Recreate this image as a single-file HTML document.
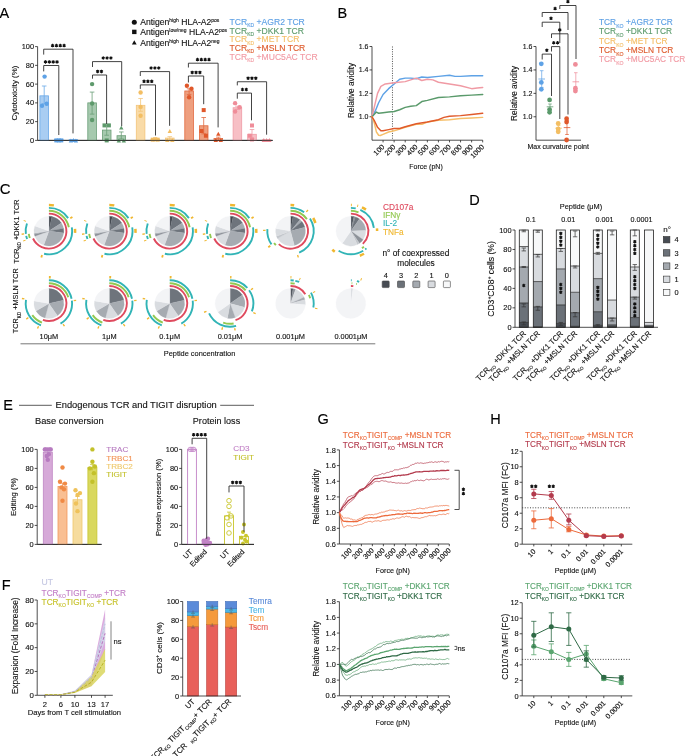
<!DOCTYPE html>
<html><head><meta charset="utf-8"><style>
html,body{margin:0;padding:0;background:#fff;}
svg{display:block;font-family:"Liberation Sans", sans-serif;will-change:transform;}
</style></head><body>
<svg width="685" height="756" viewBox="0 0 685 756">
<rect width="685" height="756" fill="#fff"/>
<text x="-0.6" y="17.7" font-size="14.5" text-anchor="start" fill="#000" stroke="#000" stroke-width="0.12">A</text>
<line x1="37.6" y1="46.6" x2="37.6" y2="140.4" stroke="#222" stroke-width="0.8"/>
<line x1="37.6" y1="140.4" x2="272.7" y2="140.4" stroke="#222" stroke-width="0.8"/>
<line x1="35.1" y1="140.4" x2="37.6" y2="140.4" stroke="#222" stroke-width="0.8"/>
<text x="34.1" y="143" font-size="7.4" text-anchor="end" fill="#111" stroke="#111" stroke-width="0.12">0</text>
<line x1="35.1" y1="121.64" x2="37.6" y2="121.64" stroke="#222" stroke-width="0.8"/>
<text x="34.1" y="124.24" font-size="7.4" text-anchor="end" fill="#111" stroke="#111" stroke-width="0.12">20</text>
<line x1="35.1" y1="102.88" x2="37.6" y2="102.88" stroke="#222" stroke-width="0.8"/>
<text x="34.1" y="105.48" font-size="7.4" text-anchor="end" fill="#111" stroke="#111" stroke-width="0.12">40</text>
<line x1="35.1" y1="84.12" x2="37.6" y2="84.12" stroke="#222" stroke-width="0.8"/>
<text x="34.1" y="86.72" font-size="7.4" text-anchor="end" fill="#111" stroke="#111" stroke-width="0.12">60</text>
<line x1="35.1" y1="65.36" x2="37.6" y2="65.36" stroke="#222" stroke-width="0.8"/>
<text x="34.1" y="67.96" font-size="7.4" text-anchor="end" fill="#111" stroke="#111" stroke-width="0.12">80</text>
<line x1="35.1" y1="46.6" x2="37.6" y2="46.6" stroke="#222" stroke-width="0.8"/>
<text x="34.1" y="49.2" font-size="7.4" text-anchor="end" fill="#111" stroke="#111" stroke-width="0.12">100</text>
<text x="14.4" y="93.03" font-size="7.9" text-anchor="middle" fill="#111" stroke="#111" stroke-width="0.12" transform="rotate(-90 14.4 93.03)" dy="2.6">Cytotoxicity (%)</text>
<rect x="39.9" y="95.84" width="8.6" height="44.56" fill="#a9cdf2" stroke="#6aa9e8" stroke-width="0.8"/>
<line x1="44.2" y1="95.84" x2="44.2" y2="86" stroke="#6aa9e8" stroke-width="0.8"/>
<line x1="41.9" y1="86" x2="46.5" y2="86" stroke="#6aa9e8" stroke-width="0.8"/>
<line x1="44.2" y1="95.84" x2="44.2" y2="103.82" stroke="#6aa9e8" stroke-width="0.8"/>
<line x1="41.9" y1="103.82" x2="46.5" y2="103.82" stroke="#6aa9e8" stroke-width="0.8"/>
<circle cx="44.6" cy="76.62" r="2.2" fill="#5ea2e6" stroke="none" stroke-width="0.8"/>
<circle cx="42" cy="105.69" r="2.2" fill="#5ea2e6" stroke="none" stroke-width="0.8"/>
<circle cx="46.7" cy="103.82" r="2.2" fill="#5ea2e6" stroke="none" stroke-width="0.8"/>
<rect x="54.5" y="139.65" width="8.6" height="0.75" fill="#a9cdf2" stroke="#6aa9e8" stroke-width="0.8"/>
<rect x="54.3" y="138.4" width="4" height="4" fill="#5ea2e6" stroke="none" stroke-width="0.8"/>
<rect x="56.8" y="138.4" width="4" height="4" fill="#5ea2e6" stroke="none" stroke-width="0.8"/>
<rect x="59.3" y="138.4" width="4" height="4" fill="#5ea2e6" stroke="none" stroke-width="0.8"/>
<rect x="69.1" y="139.65" width="8.6" height="0.75" fill="#a9cdf2" stroke="#6aa9e8" stroke-width="0.8"/>
<path d="M68.7 142.38 L73.1 142.38 L70.9 138.42" fill="#5ea2e6" stroke="none" stroke-width="0.8"/>

<path d="M71.2 141.91 L75.6 141.91 L73.4 137.95" fill="#5ea2e6" stroke="none" stroke-width="0.8"/>

<path d="M73.7 142.38 L78.1 142.38 L75.9 138.42" fill="#5ea2e6" stroke="none" stroke-width="0.8"/>

<rect x="87.8" y="102.88" width="8.6" height="37.52" fill="#a6c9ae" stroke="#6b9e77" stroke-width="0.8"/>
<line x1="92.1" y1="102.88" x2="92.1" y2="92.09" stroke="#6b9e77" stroke-width="0.8"/>
<line x1="89.8" y1="92.09" x2="94.4" y2="92.09" stroke="#6b9e77" stroke-width="0.8"/>
<line x1="92.1" y1="102.88" x2="92.1" y2="114.14" stroke="#6b9e77" stroke-width="0.8"/>
<line x1="89.8" y1="114.14" x2="94.4" y2="114.14" stroke="#6b9e77" stroke-width="0.8"/>
<circle cx="92.1" cy="84.12" r="2.2" fill="#5e9a6c" stroke="none" stroke-width="0.8"/>
<circle cx="92.1" cy="103.44" r="2.2" fill="#5e9a6c" stroke="none" stroke-width="0.8"/>
<circle cx="92.1" cy="120.05" r="2.2" fill="#5e9a6c" stroke="none" stroke-width="0.8"/>
<rect x="102.4" y="130.08" width="8.6" height="10.32" fill="#a6c9ae" stroke="#6b9e77" stroke-width="0.8"/>
<line x1="106.7" y1="130.08" x2="106.7" y2="124.92" stroke="#6b9e77" stroke-width="0.8"/>
<line x1="104.4" y1="124.92" x2="109" y2="124.92" stroke="#6b9e77" stroke-width="0.8"/>
<line x1="106.7" y1="130.08" x2="106.7" y2="135.24" stroke="#6b9e77" stroke-width="0.8"/>
<line x1="104.4" y1="135.24" x2="109" y2="135.24" stroke="#6b9e77" stroke-width="0.8"/>
<rect x="102.5" y="123.39" width="4" height="4" fill="#5e9a6c" stroke="none" stroke-width="0.8"/>
<rect x="106.9" y="123.39" width="4" height="4" fill="#5e9a6c" stroke="none" stroke-width="0.8"/>
<rect x="104.7" y="138.4" width="4" height="4" fill="#5e9a6c" stroke="none" stroke-width="0.8"/>
<rect x="117" y="135.71" width="8.6" height="4.69" fill="#a6c9ae" stroke="#6b9e77" stroke-width="0.8"/>
<line x1="121.3" y1="135.71" x2="121.3" y2="131.96" stroke="#6b9e77" stroke-width="0.8"/>
<line x1="119" y1="131.96" x2="123.6" y2="131.96" stroke="#6b9e77" stroke-width="0.8"/>
<line x1="121.3" y1="135.71" x2="121.3" y2="138.99" stroke="#6b9e77" stroke-width="0.8"/>
<line x1="119" y1="138.99" x2="123.6" y2="138.99" stroke="#6b9e77" stroke-width="0.8"/>
<path d="M119.1 129.62 L123.5 129.62 L121.3 125.66" fill="#5e9a6c" stroke="none" stroke-width="0.8"/>

<path d="M116.6 142.38 L121 142.38 L118.8 138.42" fill="#5e9a6c" stroke="none" stroke-width="0.8"/>

<path d="M121.6 142.38 L126 142.38 L123.8 138.42" fill="#5e9a6c" stroke="none" stroke-width="0.8"/>

<rect x="136.3" y="105.32" width="8.6" height="35.08" fill="#f9dba8" stroke="#f3c57a" stroke-width="0.8"/>
<line x1="140.6" y1="105.32" x2="140.6" y2="98.47" stroke="#f3c57a" stroke-width="0.8"/>
<line x1="138.3" y1="98.47" x2="142.9" y2="98.47" stroke="#f3c57a" stroke-width="0.8"/>
<line x1="140.6" y1="105.32" x2="140.6" y2="111.32" stroke="#f3c57a" stroke-width="0.8"/>
<line x1="138.3" y1="111.32" x2="142.9" y2="111.32" stroke="#f3c57a" stroke-width="0.8"/>
<circle cx="140.6" cy="92.56" r="2.2" fill="#f3be63" stroke="none" stroke-width="0.8"/>
<circle cx="140.6" cy="106.91" r="2.2" fill="#f3be63" stroke="none" stroke-width="0.8"/>
<circle cx="140.6" cy="115.73" r="2.2" fill="#f3be63" stroke="none" stroke-width="0.8"/>
<rect x="150.9" y="139.27" width="8.6" height="1.13" fill="#f9dba8" stroke="#f3c57a" stroke-width="0.8"/>
<line x1="155.2" y1="139.27" x2="155.2" y2="138.34" stroke="#f3c57a" stroke-width="0.8"/>
<line x1="152.9" y1="138.34" x2="157.5" y2="138.34" stroke="#f3c57a" stroke-width="0.8"/>
<line x1="155.2" y1="139.27" x2="155.2" y2="140.4" stroke="#f3c57a" stroke-width="0.8"/>
<line x1="152.9" y1="140.4" x2="157.5" y2="140.4" stroke="#f3c57a" stroke-width="0.8"/>
<rect x="150.7" y="137.65" width="4" height="4" fill="#f3be63" stroke="none" stroke-width="0.8"/>
<rect x="153.2" y="137.27" width="4" height="4" fill="#f3be63" stroke="none" stroke-width="0.8"/>
<rect x="155.7" y="137.65" width="4" height="4" fill="#f3be63" stroke="none" stroke-width="0.8"/>
<rect x="165.5" y="138.06" width="8.6" height="2.34" fill="#f9dba8" stroke="#f3c57a" stroke-width="0.8"/>
<line x1="169.8" y1="138.06" x2="169.8" y2="136.65" stroke="#f3c57a" stroke-width="0.8"/>
<line x1="167.5" y1="136.65" x2="172.1" y2="136.65" stroke="#f3c57a" stroke-width="0.8"/>
<line x1="169.8" y1="138.06" x2="169.8" y2="140.4" stroke="#f3c57a" stroke-width="0.8"/>
<line x1="167.5" y1="140.4" x2="172.1" y2="140.4" stroke="#f3c57a" stroke-width="0.8"/>
<path d="M167.6 133 L172 133 L169.8 129.04" fill="#f3be63" stroke="none" stroke-width="0.8"/>

<path d="M165.1 141.91 L169.5 141.91 L167.3 137.95" fill="#f3be63" stroke="none" stroke-width="0.8"/>

<path d="M170.1 141.91 L174.5 141.91 L172.3 137.95" fill="#f3be63" stroke="none" stroke-width="0.8"/>

<rect x="184.8" y="90.97" width="8.6" height="49.43" fill="#ee9f7f" stroke="#e26a40" stroke-width="0.8"/>
<line x1="189.1" y1="90.97" x2="189.1" y2="88.81" stroke="#e26a40" stroke-width="0.8"/>
<line x1="186.8" y1="88.81" x2="191.4" y2="88.81" stroke="#e26a40" stroke-width="0.8"/>
<line x1="189.1" y1="90.97" x2="189.1" y2="94.44" stroke="#e26a40" stroke-width="0.8"/>
<line x1="186.8" y1="94.44" x2="191.4" y2="94.44" stroke="#e26a40" stroke-width="0.8"/>
<circle cx="186.9" cy="85.71" r="2.2" fill="#e0582b" stroke="none" stroke-width="0.8"/>
<circle cx="191.5" cy="88.81" r="2.2" fill="#e0582b" stroke="none" stroke-width="0.8"/>
<circle cx="189.1" cy="97.25" r="2.2" fill="#e0582b" stroke="none" stroke-width="0.8"/>
<rect x="199.4" y="125.77" width="8.6" height="14.63" fill="#ee9f7f" stroke="#e26a40" stroke-width="0.8"/>
<line x1="203.7" y1="125.77" x2="203.7" y2="117.51" stroke="#e26a40" stroke-width="0.8"/>
<line x1="201.4" y1="117.51" x2="206" y2="117.51" stroke="#e26a40" stroke-width="0.8"/>
<line x1="203.7" y1="125.77" x2="203.7" y2="133.83" stroke="#e26a40" stroke-width="0.8"/>
<line x1="201.4" y1="133.83" x2="206" y2="133.83" stroke="#e26a40" stroke-width="0.8"/>
<rect x="201.7" y="108.1" width="4" height="4" fill="#e0582b" stroke="none" stroke-width="0.8"/>
<rect x="199.5" y="129.02" width="4" height="4" fill="#e0582b" stroke="none" stroke-width="0.8"/>
<rect x="203.9" y="133.71" width="4" height="4" fill="#e0582b" stroke="none" stroke-width="0.8"/>
<rect x="214" y="138.52" width="8.6" height="1.88" fill="#ee9f7f" stroke="#e26a40" stroke-width="0.8"/>
<line x1="218.3" y1="138.52" x2="218.3" y2="137.12" stroke="#e26a40" stroke-width="0.8"/>
<line x1="216" y1="137.12" x2="220.6" y2="137.12" stroke="#e26a40" stroke-width="0.8"/>
<line x1="218.3" y1="138.52" x2="218.3" y2="140.4" stroke="#e26a40" stroke-width="0.8"/>
<line x1="216" y1="140.4" x2="220.6" y2="140.4" stroke="#e26a40" stroke-width="0.8"/>
<path d="M216.1 135.81 L220.5 135.81 L218.3 131.85" fill="#e0582b" stroke="none" stroke-width="0.8"/>

<path d="M213.6 141.91 L218 141.91 L215.8 137.95" fill="#e0582b" stroke="none" stroke-width="0.8"/>

<path d="M218.6 141.91 L223 141.91 L220.8 137.95" fill="#e0582b" stroke="none" stroke-width="0.8"/>

<rect x="233.1" y="107.76" width="8.6" height="32.64" fill="#f7bfc5" stroke="#f09ba5" stroke-width="0.8"/>
<line x1="237.4" y1="107.76" x2="237.4" y2="106.16" stroke="#f09ba5" stroke-width="0.8"/>
<line x1="235.1" y1="106.16" x2="239.7" y2="106.16" stroke="#f09ba5" stroke-width="0.8"/>
<line x1="237.4" y1="107.76" x2="237.4" y2="109.45" stroke="#f09ba5" stroke-width="0.8"/>
<line x1="235.1" y1="109.45" x2="239.7" y2="109.45" stroke="#f09ba5" stroke-width="0.8"/>
<circle cx="235.1" cy="103.16" r="2.2" fill="#ef8d99" stroke="none" stroke-width="0.8"/>
<circle cx="239.7" cy="107.29" r="2.2" fill="#ef8d99" stroke="none" stroke-width="0.8"/>
<circle cx="235.1" cy="111.51" r="2.2" fill="#ef8d99" stroke="none" stroke-width="0.8"/>
<rect x="247.7" y="134.3" width="8.6" height="6.1" fill="#f7bfc5" stroke="#f09ba5" stroke-width="0.8"/>
<line x1="252" y1="134.3" x2="252" y2="129.52" stroke="#f09ba5" stroke-width="0.8"/>
<line x1="249.7" y1="129.52" x2="254.3" y2="129.52" stroke="#f09ba5" stroke-width="0.8"/>
<line x1="252" y1="134.3" x2="252" y2="138.52" stroke="#f09ba5" stroke-width="0.8"/>
<line x1="249.7" y1="138.52" x2="254.3" y2="138.52" stroke="#f09ba5" stroke-width="0.8"/>
<rect x="250" y="123.49" width="4" height="4" fill="#ef8d99" stroke="none" stroke-width="0.8"/>
<rect x="247.8" y="133.71" width="4" height="4" fill="#ef8d99" stroke="none" stroke-width="0.8"/>
<rect x="250" y="137.46" width="4" height="4" fill="#ef8d99" stroke="none" stroke-width="0.8"/>
<rect x="262.3" y="139.84" width="8.6" height="0.56" fill="#f7bfc5" stroke="#f09ba5" stroke-width="0.8"/>
<path d="M261.6 141.91 L266 141.91 L263.8 137.95" fill="#ef8d99" stroke="none" stroke-width="0.8"/>

<path d="M264.4 141.91 L268.8 141.91 L266.6 137.95" fill="#ef8d99" stroke="none" stroke-width="0.8"/>

<path d="M267.2 141.91 L271.6 141.91 L269.4 137.95" fill="#ef8d99" stroke="none" stroke-width="0.8"/>

<line x1="37.6" y1="140.4" x2="272.7" y2="140.4" stroke="#222" stroke-width="0.8"/>
<path d="M43.7 54.6 L43.7 49.2 L73 49.2 L73 133.4" fill="none" stroke="#222" stroke-width="0.85"/>
<path d="M52.58 43.85 L52.58 47.35 M54.09 44.73 L51.06 46.48 M54.09 46.48 L51.06 44.73 " fill="none" stroke="#111" stroke-width="1.05"/>
<circle cx="52.58" cy="45.6" r="1.05" fill="#111" stroke="none" stroke-width="0.8"/>
<path d="M56.43 43.85 L56.43 47.35 M57.94 44.73 L54.91 46.48 M57.94 46.48 L54.91 44.73 " fill="none" stroke="#111" stroke-width="1.05"/>
<circle cx="56.43" cy="45.6" r="1.05" fill="#111" stroke="none" stroke-width="0.8"/>
<path d="M60.27 43.85 L60.27 47.35 M61.79 44.73 L58.76 46.48 M61.79 46.48 L58.76 44.73 " fill="none" stroke="#111" stroke-width="1.05"/>
<circle cx="60.27" cy="45.6" r="1.05" fill="#111" stroke="none" stroke-width="0.8"/>
<path d="M64.12 43.85 L64.12 47.35 M65.64 44.73 L62.61 46.48 M65.64 46.48 L62.61 44.73 " fill="none" stroke="#111" stroke-width="1.05"/>
<circle cx="64.12" cy="45.6" r="1.05" fill="#111" stroke="none" stroke-width="0.8"/>
<path d="M43.7 71.4 L43.7 65.5 L58.8 65.5 L58.8 135" fill="none" stroke="#222" stroke-width="0.85"/>
<path d="M45.48 60.15 L45.48 63.65 M46.99 61.02 L43.96 62.77 M46.99 62.77 L43.96 61.02 " fill="none" stroke="#111" stroke-width="1.05"/>
<circle cx="45.48" cy="61.9" r="1.05" fill="#111" stroke="none" stroke-width="0.8"/>
<path d="M49.33 60.15 L49.33 63.65 M50.84 61.02 L47.81 62.77 M50.84 62.77 L47.81 61.02 " fill="none" stroke="#111" stroke-width="1.05"/>
<circle cx="49.33" cy="61.9" r="1.05" fill="#111" stroke="none" stroke-width="0.8"/>
<path d="M53.17 60.15 L53.17 63.65 M54.69 61.02 L51.66 62.77 M54.69 62.77 L51.66 61.02 " fill="none" stroke="#111" stroke-width="1.05"/>
<circle cx="53.17" cy="61.9" r="1.05" fill="#111" stroke="none" stroke-width="0.8"/>
<path d="M57.02 60.15 L57.02 63.65 M58.54 61.02 L55.51 62.77 M58.54 62.77 L55.51 61.02 " fill="none" stroke="#111" stroke-width="1.05"/>
<circle cx="57.02" cy="61.9" r="1.05" fill="#111" stroke="none" stroke-width="0.8"/>
<path d="M92.5 67 L92.5 61.6 L121.7 61.6 L121.7 126.1" fill="none" stroke="#222" stroke-width="0.85"/>
<path d="M103.25 56.25 L103.25 59.75 M104.77 57.12 L101.73 58.88 M104.77 58.88 L101.73 57.12 " fill="none" stroke="#111" stroke-width="1.05"/>
<circle cx="103.25" cy="58" r="1.05" fill="#111" stroke="none" stroke-width="0.8"/>
<path d="M107.1 56.25 L107.1 59.75 M108.62 57.12 L105.58 58.88 M108.62 58.88 L105.58 57.12 " fill="none" stroke="#111" stroke-width="1.05"/>
<circle cx="107.1" cy="58" r="1.05" fill="#111" stroke="none" stroke-width="0.8"/>
<path d="M110.95 56.25 L110.95 59.75 M112.47 57.12 L109.43 58.88 M112.47 58.88 L109.43 57.12 " fill="none" stroke="#111" stroke-width="1.05"/>
<circle cx="110.95" cy="58" r="1.05" fill="#111" stroke="none" stroke-width="0.8"/>
<path d="M92.5 78.7 L92.5 75 L106.6 75 L106.6 124" fill="none" stroke="#222" stroke-width="0.85"/>
<path d="M97.62 69.65 L97.62 73.15 M99.14 70.53 L96.11 72.28 M99.14 72.28 L96.11 70.53 " fill="none" stroke="#111" stroke-width="1.05"/>
<circle cx="97.62" cy="71.4" r="1.05" fill="#111" stroke="none" stroke-width="0.8"/>
<path d="M101.47 69.65 L101.47 73.15 M102.99 70.53 L99.96 72.28 M102.99 72.28 L99.96 70.53 " fill="none" stroke="#111" stroke-width="1.05"/>
<circle cx="101.47" cy="71.4" r="1.05" fill="#111" stroke="none" stroke-width="0.8"/>
<path d="M140.3 76 L140.3 71.6 L169.6 71.6 L169.6 125.8" fill="none" stroke="#222" stroke-width="0.85"/>
<path d="M151.1 66.25 L151.1 69.75 M152.62 67.12 L149.58 68.88 M152.62 68.88 L149.58 67.12 " fill="none" stroke="#111" stroke-width="1.05"/>
<circle cx="151.1" cy="68" r="1.05" fill="#111" stroke="none" stroke-width="0.8"/>
<path d="M154.95 66.25 L154.95 69.75 M156.47 67.12 L153.43 68.88 M156.47 68.88 L153.43 67.12 " fill="none" stroke="#111" stroke-width="1.05"/>
<circle cx="154.95" cy="68" r="1.05" fill="#111" stroke="none" stroke-width="0.8"/>
<path d="M158.8 66.25 L158.8 69.75 M160.32 67.12 L157.28 68.88 M160.32 68.88 L157.28 67.12 " fill="none" stroke="#111" stroke-width="1.05"/>
<circle cx="158.8" cy="68" r="1.05" fill="#111" stroke="none" stroke-width="0.8"/>
<path d="M140.3 88.9 L140.3 84.9 L155.5 84.9 L155.5 135.5" fill="none" stroke="#222" stroke-width="0.85"/>
<path d="M144.05 79.55 L144.05 83.05 M145.57 80.43 L142.53 82.18 M145.57 82.18 L142.53 80.43 " fill="none" stroke="#111" stroke-width="1.05"/>
<circle cx="144.05" cy="81.3" r="1.05" fill="#111" stroke="none" stroke-width="0.8"/>
<path d="M147.9 79.55 L147.9 83.05 M149.42 80.43 L146.38 82.18 M149.42 82.18 L146.38 80.43 " fill="none" stroke="#111" stroke-width="1.05"/>
<circle cx="147.9" cy="81.3" r="1.05" fill="#111" stroke="none" stroke-width="0.8"/>
<path d="M151.75 79.55 L151.75 83.05 M153.27 80.43 L150.23 82.18 M153.27 82.18 L150.23 80.43 " fill="none" stroke="#111" stroke-width="1.05"/>
<circle cx="151.75" cy="81.3" r="1.05" fill="#111" stroke="none" stroke-width="0.8"/>
<path d="M188.4 67.5 L188.4 63.2 L218.1 63.2 L218.1 127.4" fill="none" stroke="#222" stroke-width="0.85"/>
<path d="M197.47 57.85 L197.47 61.35 M198.99 58.73 L195.96 60.48 M198.99 60.48 L195.96 58.73 " fill="none" stroke="#111" stroke-width="1.05"/>
<circle cx="197.47" cy="59.6" r="1.05" fill="#111" stroke="none" stroke-width="0.8"/>
<path d="M201.32 57.85 L201.32 61.35 M202.84 58.73 L199.81 60.48 M202.84 60.48 L199.81 58.73 " fill="none" stroke="#111" stroke-width="1.05"/>
<circle cx="201.32" cy="59.6" r="1.05" fill="#111" stroke="none" stroke-width="0.8"/>
<path d="M205.18 57.85 L205.18 61.35 M206.69 58.73 L203.66 60.48 M206.69 60.48 L203.66 58.73 " fill="none" stroke="#111" stroke-width="1.05"/>
<circle cx="205.18" cy="59.6" r="1.05" fill="#111" stroke="none" stroke-width="0.8"/>
<path d="M209.03 57.85 L209.03 61.35 M210.54 58.73 L207.51 60.48 M210.54 60.48 L207.51 58.73 " fill="none" stroke="#111" stroke-width="1.05"/>
<circle cx="209.03" cy="59.6" r="1.05" fill="#111" stroke="none" stroke-width="0.8"/>
<path d="M188.4 82.5 L188.4 76 L203.7 76 L203.7 104.2" fill="none" stroke="#222" stroke-width="0.85"/>
<path d="M192.2 70.65 L192.2 74.15 M193.72 71.53 L190.68 73.28 M193.72 73.28 L190.68 71.53 " fill="none" stroke="#111" stroke-width="1.05"/>
<circle cx="192.2" cy="72.4" r="1.05" fill="#111" stroke="none" stroke-width="0.8"/>
<path d="M196.05 70.65 L196.05 74.15 M197.57 71.53 L194.53 73.28 M197.57 73.28 L194.53 71.53 " fill="none" stroke="#111" stroke-width="1.05"/>
<circle cx="196.05" cy="72.4" r="1.05" fill="#111" stroke="none" stroke-width="0.8"/>
<path d="M199.9 70.65 L199.9 74.15 M201.42 71.53 L198.38 73.28 M201.42 73.28 L198.38 71.53 " fill="none" stroke="#111" stroke-width="1.05"/>
<circle cx="199.9" cy="72.4" r="1.05" fill="#111" stroke="none" stroke-width="0.8"/>
<path d="M237.3 85.4 L237.3 81.75 L266.6 81.75 L266.6 134.7" fill="none" stroke="#222" stroke-width="0.85"/>
<path d="M248.1 76.4 L248.1 79.9 M249.62 77.28 L246.58 79.03 M249.62 79.03 L246.58 77.28 " fill="none" stroke="#111" stroke-width="1.05"/>
<circle cx="248.1" cy="78.15" r="1.05" fill="#111" stroke="none" stroke-width="0.8"/>
<path d="M251.95 76.4 L251.95 79.9 M253.47 77.28 L250.43 79.03 M253.47 79.03 L250.43 77.28 " fill="none" stroke="#111" stroke-width="1.05"/>
<circle cx="251.95" cy="78.15" r="1.05" fill="#111" stroke="none" stroke-width="0.8"/>
<path d="M255.8 76.4 L255.8 79.9 M257.32 77.28 L254.28 79.03 M257.32 79.03 L254.28 77.28 " fill="none" stroke="#111" stroke-width="1.05"/>
<circle cx="255.8" cy="78.15" r="1.05" fill="#111" stroke="none" stroke-width="0.8"/>
<path d="M237.3 98.7 L237.3 93.1 L251.5 93.1 L251.5 120.3" fill="none" stroke="#222" stroke-width="0.85"/>
<path d="M242.47 87.75 L242.47 91.25 M243.99 88.62 L240.96 90.38 M243.99 90.38 L240.96 88.62 " fill="none" stroke="#111" stroke-width="1.05"/>
<circle cx="242.47" cy="89.5" r="1.05" fill="#111" stroke="none" stroke-width="0.8"/>
<path d="M246.33 87.75 L246.33 91.25 M247.84 88.62 L244.81 90.38 M247.84 90.38 L244.81 88.62 " fill="none" stroke="#111" stroke-width="1.05"/>
<circle cx="246.33" cy="89.5" r="1.05" fill="#111" stroke="none" stroke-width="0.8"/>
<circle cx="134.3" cy="22.3" r="2.5" fill="#111" stroke="none" stroke-width="0.8"/>
<rect x="132.1" y="29.7" width="4.4" height="4.4" fill="#111" stroke="none" stroke-width="0.8"/>
<path d="M131.9 44.46 L136.7 44.46 L134.3 40.14" fill="#111" stroke="none" stroke-width="0.8"/>

<text x="140.2" y="25.3" font-size="8.6" fill="#111" stroke="#111" stroke-width="0.12">Antigen<tspan font-size="5" dy="-3">high</tspan><tspan dy="3"> HLA-A2</tspan><tspan font-size="5" dy="-3">pos</tspan></text>
<text x="140.2" y="34.9" font-size="8.6" fill="#111" stroke="#111" stroke-width="0.12">Antigen<tspan font-size="5" dy="-3">low/neg</tspan><tspan dy="3"> HLA-A2</tspan><tspan font-size="5" dy="-3">pos</tspan></text>
<text x="140.2" y="45.7" font-size="8.6" fill="#111" stroke="#111" stroke-width="0.12">Antigen<tspan font-size="5" dy="-3">high</tspan><tspan dy="3"> HLA-A2</tspan><tspan font-size="5" dy="-3">neg</tspan></text>
<text x="229.5" y="25" font-size="8.6" fill="#5b9fe4" stroke="#5b9fe4" stroke-width="0.12">TCR<tspan font-size="5" dy="2.2">KD</tspan><tspan dy="-2.2"> +AGR2 TCR</tspan></text>
<text x="229.5" y="33.7" font-size="8.6" fill="#5a9a6b" stroke="#5a9a6b" stroke-width="0.12">TCR<tspan font-size="5" dy="2.2">KD</tspan><tspan dy="-2.2"> +DKK1 TCR</tspan></text>
<text x="229.5" y="42.4" font-size="8.6" fill="#f4be66" stroke="#f4be66" stroke-width="0.12">TCR<tspan font-size="5" dy="2.2">KD</tspan><tspan dy="-2.2"> +MET TCR</tspan></text>
<text x="229.5" y="51.1" font-size="8.6" fill="#de5a2b" stroke="#de5a2b" stroke-width="0.12">TCR<tspan font-size="5" dy="2.2">KD</tspan><tspan dy="-2.2"> +MSLN TCR</tspan></text>
<text x="229.5" y="59.8" font-size="8.6" fill="#f29aa4" stroke="#f29aa4" stroke-width="0.12">TCR<tspan font-size="5" dy="2.2">KD</tspan><tspan dy="-2.2"> +MUC5AC TCR</tspan></text>
<text x="337.5" y="18" font-size="14.5" text-anchor="start" fill="#000" stroke="#000" stroke-width="0.12">B</text>
<line x1="372" y1="46.5" x2="372" y2="140.2" stroke="#222" stroke-width="0.8"/>
<line x1="372" y1="140.2" x2="482.7" y2="140.2" stroke="#222" stroke-width="0.8"/>
<line x1="369.5" y1="116.77" x2="372" y2="116.77" stroke="#222" stroke-width="0.8"/>
<text x="368.5" y="119.17" font-size="7" text-anchor="end" fill="#111" stroke="#111" stroke-width="0.12">1.0</text>
<line x1="369.5" y1="93.35" x2="372" y2="93.35" stroke="#222" stroke-width="0.8"/>
<text x="368.5" y="95.75" font-size="7" text-anchor="end" fill="#111" stroke="#111" stroke-width="0.12">1.2</text>
<line x1="369.5" y1="69.93" x2="372" y2="69.93" stroke="#222" stroke-width="0.8"/>
<text x="368.5" y="72.33" font-size="7" text-anchor="end" fill="#111" stroke="#111" stroke-width="0.12">1.4</text>
<line x1="369.5" y1="46.5" x2="372" y2="46.5" stroke="#222" stroke-width="0.8"/>
<text x="368.5" y="48.9" font-size="7" text-anchor="end" fill="#111" stroke="#111" stroke-width="0.12">1.6</text>
<line x1="383.07" y1="140.2" x2="383.07" y2="142.4" stroke="#222" stroke-width="0.8"/>
<text x="384.87" y="147.4" font-size="7.2" text-anchor="end" fill="#111" stroke="#111" stroke-width="0.12" transform="rotate(-45 384.87 147.4)">100</text>
<line x1="394.14" y1="140.2" x2="394.14" y2="142.4" stroke="#222" stroke-width="0.8"/>
<text x="395.94" y="147.4" font-size="7.2" text-anchor="end" fill="#111" stroke="#111" stroke-width="0.12" transform="rotate(-45 395.94 147.4)">200</text>
<line x1="405.21" y1="140.2" x2="405.21" y2="142.4" stroke="#222" stroke-width="0.8"/>
<text x="407.01" y="147.4" font-size="7.2" text-anchor="end" fill="#111" stroke="#111" stroke-width="0.12" transform="rotate(-45 407.01 147.4)">300</text>
<line x1="416.28" y1="140.2" x2="416.28" y2="142.4" stroke="#222" stroke-width="0.8"/>
<text x="418.08" y="147.4" font-size="7.2" text-anchor="end" fill="#111" stroke="#111" stroke-width="0.12" transform="rotate(-45 418.08 147.4)">400</text>
<line x1="427.35" y1="140.2" x2="427.35" y2="142.4" stroke="#222" stroke-width="0.8"/>
<text x="429.15" y="147.4" font-size="7.2" text-anchor="end" fill="#111" stroke="#111" stroke-width="0.12" transform="rotate(-45 429.15 147.4)">500</text>
<line x1="438.42" y1="140.2" x2="438.42" y2="142.4" stroke="#222" stroke-width="0.8"/>
<text x="440.22" y="147.4" font-size="7.2" text-anchor="end" fill="#111" stroke="#111" stroke-width="0.12" transform="rotate(-45 440.22 147.4)">600</text>
<line x1="449.49" y1="140.2" x2="449.49" y2="142.4" stroke="#222" stroke-width="0.8"/>
<text x="451.29" y="147.4" font-size="7.2" text-anchor="end" fill="#111" stroke="#111" stroke-width="0.12" transform="rotate(-45 451.29 147.4)">700</text>
<line x1="460.56" y1="140.2" x2="460.56" y2="142.4" stroke="#222" stroke-width="0.8"/>
<text x="462.36" y="147.4" font-size="7.2" text-anchor="end" fill="#111" stroke="#111" stroke-width="0.12" transform="rotate(-45 462.36 147.4)">800</text>
<line x1="471.63" y1="140.2" x2="471.63" y2="142.4" stroke="#222" stroke-width="0.8"/>
<text x="473.43" y="147.4" font-size="7.2" text-anchor="end" fill="#111" stroke="#111" stroke-width="0.12" transform="rotate(-45 473.43 147.4)">900</text>
<line x1="482.7" y1="140.2" x2="482.7" y2="142.4" stroke="#222" stroke-width="0.8"/>
<text x="484.5" y="147.4" font-size="7.2" text-anchor="end" fill="#111" stroke="#111" stroke-width="0.12" transform="rotate(-45 484.5 147.4)">1000</text>
<text x="351.2" y="90.4" font-size="8.2" text-anchor="middle" fill="#111" stroke="#111" stroke-width="0.12" transform="rotate(-90 351.2 90.4)" dy="2.8">Relative avidity</text>
<text x="426" y="168.5" font-size="7" text-anchor="middle" fill="#111" stroke="#111" stroke-width="0.12">Force (pN)</text>
<line x1="392.48" y1="46.5" x2="392.48" y2="140.2" stroke="#222" stroke-width="0.8" stroke-dasharray="1,1.4"/>
<path d="M372 116.77 L375.32 110.92 L378.64 102.72 L383.07 94.52 L388.61 88.67 L394.14 83.98 L399.68 79.29 L405.21 78.12 L410.75 78.12 L416.28 78.71 L421.81 76.95 L427.35 77.54 L438.42 76.37 L449.49 75.2 L455.02 76.37 L460.56 76.37 L471.63 75.78 L482.7 75.78" fill="none" stroke="#5ea2e6" stroke-width="1.45" stroke-linejoin="round" stroke-linecap="round"/>
<path d="M372 116.77 L374.21 107.4 L377.54 93.35 L380.86 86.32 L385.28 83.98 L394.14 82.81 L405.21 81.64 L416.28 78.12 L421.81 80.47 L427.35 79.29 L432.88 79.88 L438.42 82.22 L449.49 83.98 L460.56 85.74 L471.63 88.67 L477.16 88.08 L482.7 87.49" fill="none" stroke="#f09aa4" stroke-width="1.45" stroke-linejoin="round" stroke-linecap="round"/>
<path d="M372 116.77 L376.43 112.09 L378.64 113.26 L383.07 112.68 L388.61 112.09 L394.14 111.5 L399.68 109.75 L405.21 107.4 L410.75 106.23 L416.28 105.65 L421.81 101.55 L427.35 100.38 L438.42 97.45 L449.49 96.86 L460.56 95.69 L471.63 95.11 L482.7 94.52" fill="none" stroke="#5a9a6b" stroke-width="1.45" stroke-linejoin="round" stroke-linecap="round"/>
<path d="M372 116.77 L374.21 122.63 L376.43 132 L378.64 135.28 L380.3 135.51 L383.07 134.34 L388.61 132 L394.14 130.83 L405.21 127.32 L416.28 124.39 L421.81 124.39 L427.35 122.05 L438.42 120.29 L449.49 119.7 L460.56 118.53 L471.63 117.95 L482.7 117.36" fill="none" stroke="#f6bf6a" stroke-width="1.45" stroke-linejoin="round" stroke-linecap="round"/>
<path d="M372 116.77 L374.21 120.29 L377.54 127.32 L380.86 130.83 L383.07 130.83 L388.61 129.66 L394.14 128.49 L399.68 128.49 L405.21 126.73 L416.28 123.8 L427.35 122.05 L438.42 119.7 L443.95 117.36 L449.49 116.19 L460.56 115.6 L471.63 114.43 L482.7 113.26" fill="none" stroke="#e05a2b" stroke-width="1.45" stroke-linejoin="round" stroke-linecap="round"/>
<line x1="536" y1="46.5" x2="536" y2="140.2" stroke="#222" stroke-width="0.8"/>
<line x1="536" y1="140.2" x2="581" y2="140.2" stroke="#222" stroke-width="0.8"/>
<line x1="533.5" y1="116.77" x2="536" y2="116.77" stroke="#222" stroke-width="0.8"/>
<text x="532.5" y="119.17" font-size="7" text-anchor="end" fill="#111" stroke="#111" stroke-width="0.12">1.0</text>
<line x1="533.5" y1="93.35" x2="536" y2="93.35" stroke="#222" stroke-width="0.8"/>
<text x="532.5" y="95.75" font-size="7" text-anchor="end" fill="#111" stroke="#111" stroke-width="0.12">1.2</text>
<line x1="533.5" y1="69.93" x2="536" y2="69.93" stroke="#222" stroke-width="0.8"/>
<text x="532.5" y="72.33" font-size="7" text-anchor="end" fill="#111" stroke="#111" stroke-width="0.12">1.4</text>
<line x1="533.5" y1="46.5" x2="536" y2="46.5" stroke="#222" stroke-width="0.8"/>
<text x="532.5" y="48.9" font-size="7" text-anchor="end" fill="#111" stroke="#111" stroke-width="0.12">1.6</text>
<text x="514.3" y="93.35" font-size="8.2" text-anchor="middle" fill="#111" stroke="#111" stroke-width="0.12" transform="rotate(-90 514.3 93.35)" dy="2.8">Relative avidity</text>
<text x="558.2" y="149" font-size="7" text-anchor="middle" fill="#111" stroke="#111" stroke-width="0.12">Max curvature point</text>
<circle cx="541.3" cy="63.8" r="2.4" fill="#5ea2e6" stroke="none" stroke-width="0.8"/>
<circle cx="541.3" cy="82.4" r="2.4" fill="#5ea2e6" stroke="none" stroke-width="0.8"/>
<circle cx="541.3" cy="89.3" r="2.4" fill="#5ea2e6" stroke="none" stroke-width="0.8"/>
<line x1="538.4" y1="79" x2="545" y2="79" stroke="#5ea2e6" stroke-width="0.8"/>
<line x1="541.7" y1="70.7" x2="541.7" y2="87.4" stroke="#5ea2e6" stroke-width="0.7"/>
<line x1="539.9" y1="70.7" x2="543.5" y2="70.7" stroke="#5ea2e6" stroke-width="0.7"/>
<line x1="539.9" y1="87.4" x2="543.5" y2="87.4" stroke="#5ea2e6" stroke-width="0.7"/>
<circle cx="549.6" cy="99.9" r="2.4" fill="#5a9a6b" stroke="none" stroke-width="0.8"/>
<circle cx="549.6" cy="109.6" r="2.4" fill="#5a9a6b" stroke="none" stroke-width="0.8"/>
<circle cx="549.6" cy="112.3" r="2.4" fill="#5a9a6b" stroke="none" stroke-width="0.8"/>
<line x1="546.7" y1="106.8" x2="553.3" y2="106.8" stroke="#5a9a6b" stroke-width="0.8"/>
<line x1="550" y1="104" x2="550" y2="110" stroke="#5a9a6b" stroke-width="0.7"/>
<line x1="548.2" y1="104" x2="551.8" y2="104" stroke="#5a9a6b" stroke-width="0.7"/>
<line x1="548.2" y1="110" x2="551.8" y2="110" stroke="#5a9a6b" stroke-width="0.7"/>
<circle cx="558.2" cy="123.4" r="2.4" fill="#f3be63" stroke="none" stroke-width="0.8"/>
<circle cx="558.2" cy="129" r="2.4" fill="#f3be63" stroke="none" stroke-width="0.8"/>
<circle cx="558.2" cy="131.8" r="2.4" fill="#f3be63" stroke="none" stroke-width="0.8"/>
<line x1="555.3" y1="128.2" x2="561.9" y2="128.2" stroke="#f3be63" stroke-width="0.8"/>
<line x1="558.6" y1="125.5" x2="558.6" y2="131" stroke="#f3be63" stroke-width="0.7"/>
<line x1="556.8" y1="125.5" x2="560.4" y2="125.5" stroke="#f3be63" stroke-width="0.7"/>
<line x1="556.8" y1="131" x2="560.4" y2="131" stroke="#f3be63" stroke-width="0.7"/>
<circle cx="566.6" cy="118.7" r="2.4" fill="#e0582b" stroke="none" stroke-width="0.8"/>
<circle cx="566.6" cy="122" r="2.4" fill="#e0582b" stroke="none" stroke-width="0.8"/>
<circle cx="566.6" cy="140" r="2.4" fill="#e0582b" stroke="none" stroke-width="0.8"/>
<line x1="563.7" y1="127.6" x2="570.3" y2="127.6" stroke="#e0582b" stroke-width="0.8"/>
<line x1="567" y1="120.7" x2="567" y2="134.5" stroke="#e0582b" stroke-width="0.7"/>
<line x1="565.2" y1="120.7" x2="568.8" y2="120.7" stroke="#e0582b" stroke-width="0.7"/>
<line x1="565.2" y1="134.5" x2="568.8" y2="134.5" stroke="#e0582b" stroke-width="0.7"/>
<circle cx="575.4" cy="64.4" r="2.4" fill="#ef8d99" stroke="none" stroke-width="0.8"/>
<circle cx="575.4" cy="88.2" r="2.4" fill="#ef8d99" stroke="none" stroke-width="0.8"/>
<circle cx="575.4" cy="91" r="2.4" fill="#ef8d99" stroke="none" stroke-width="0.8"/>
<line x1="572.5" y1="81.8" x2="579.1" y2="81.8" stroke="#ef8d99" stroke-width="0.8"/>
<line x1="575.8" y1="72.7" x2="575.8" y2="90.2" stroke="#ef8d99" stroke-width="0.7"/>
<line x1="574" y1="72.7" x2="577.6" y2="72.7" stroke="#ef8d99" stroke-width="0.7"/>
<line x1="574" y1="90.2" x2="577.6" y2="90.2" stroke="#ef8d99" stroke-width="0.7"/>
<path d="M542.2 59.5 L542.2 54.1 L551.5 54.1 L551.5 96" fill="none" stroke="#222" stroke-width="0.85"/>
<path d="M546.85 48.45 L546.85 51.95 M548.37 49.33 L545.33 51.08 M548.37 51.08 L545.33 49.33 " fill="none" stroke="#111" stroke-width="1.05"/>
<circle cx="546.85" cy="50.2" r="1.05" fill="#111" stroke="none" stroke-width="0.8"/>
<path d="M551.5 51.5 L551.5 46.6 L559.8 46.6 L559.8 119" fill="none" stroke="#222" stroke-width="0.85"/>
<path d="M553.73 40.95 L553.73 44.45 M555.24 41.83 L552.21 43.58 M555.24 43.58 L552.21 41.83 " fill="none" stroke="#111" stroke-width="1.05"/>
<circle cx="553.73" cy="42.7" r="1.05" fill="#111" stroke="none" stroke-width="0.8"/>
<path d="M557.57 40.95 L557.57 44.45 M559.09 41.83 L556.06 43.58 M559.09 43.58 L556.06 41.83 " fill="none" stroke="#111" stroke-width="1.05"/>
<circle cx="557.57" cy="42.7" r="1.05" fill="#111" stroke="none" stroke-width="0.8"/>
<path d="M551.5 38 L551.5 33.8 L568 33.8 L568 114.5" fill="none" stroke="#222" stroke-width="0.85"/>
<path d="M559.75 28.15 L559.75 31.65 M561.27 29.02 L558.23 30.77 M561.27 30.77 L558.23 29.02 " fill="none" stroke="#111" stroke-width="1.05"/>
<circle cx="559.75" cy="29.9" r="1.05" fill="#111" stroke="none" stroke-width="0.8"/>
<path d="M542.2 27 L542.2 22.2 L559.8 22.2 L559.8 43" fill="none" stroke="#222" stroke-width="0.85"/>
<path d="M551 16.55 L551 20.05 M552.52 17.43 L549.48 19.18 M552.52 19.18 L549.48 17.43 " fill="none" stroke="#111" stroke-width="1.05"/>
<circle cx="551" cy="18.3" r="1.05" fill="#111" stroke="none" stroke-width="0.8"/>
<path d="M542.2 17 L542.2 12.5 L568 12.5 L568 30" fill="none" stroke="#222" stroke-width="0.85"/>
<path d="M555.1 6.85 L555.1 10.35 M556.62 7.72 L553.58 9.47 M556.62 9.47 L553.58 7.72 " fill="none" stroke="#111" stroke-width="1.05"/>
<circle cx="555.1" cy="8.6" r="1.05" fill="#111" stroke="none" stroke-width="0.8"/>
<path d="M559.8 9 L559.8 5.5 L576 5.5 L576 59" fill="none" stroke="#222" stroke-width="0.85"/>
<path d="M567.9 -0.15 L567.9 3.35 M569.42 0.72 L566.38 2.48 M569.42 2.47 L566.38 0.73 " fill="none" stroke="#111" stroke-width="1.05"/>
<circle cx="567.9" cy="1.6" r="1.05" fill="#111" stroke="none" stroke-width="0.8"/>
<text x="599" y="25.1" font-size="8.35" fill="#5b9fe4" stroke="#5b9fe4" stroke-width="0.12">TCR<tspan font-size="5.2" dy="3">KO</tspan><tspan dy="-3"> +AGR2 TCR</tspan></text>
<text x="599" y="34.3" font-size="8.35" fill="#5a9a6b" stroke="#5a9a6b" stroke-width="0.12">TCR<tspan font-size="5.2" dy="3">KO</tspan><tspan dy="-3"> +DKK1 TCR</tspan></text>
<text x="599" y="43.5" font-size="8.35" fill="#f4be66" stroke="#f4be66" stroke-width="0.12">TCR<tspan font-size="5.2" dy="3">KO</tspan><tspan dy="-3"> +MET TCR</tspan></text>
<text x="599" y="52.7" font-size="8.35" fill="#de5a2b" stroke="#de5a2b" stroke-width="0.12">TCR<tspan font-size="5.2" dy="3">KO</tspan><tspan dy="-3"> +MSLN TCR</tspan></text>
<text x="599" y="61.9" font-size="8.35" fill="#f29aa4" stroke="#f29aa4" stroke-width="0.12">TCR<tspan font-size="5.2" dy="3">KO</tspan><tspan dy="-3"> +MUC5AC TCR</tspan></text>
<text x="-0.2" y="193.8" font-size="15" text-anchor="start" fill="#000" stroke="#000" stroke-width="0.12">C</text>
<path d="M48.9 231.1 L48.9 216.2 A14.9 14.9 0 0 1 52 216.53 Z" fill="#454a51" stroke="#454a51" stroke-width="0.25"/>
<path d="M48.9 231.1 L52 216.53 A14.9 14.9 0 0 1 61.4 222.98 Z" fill="#6e747c" stroke="#6e747c" stroke-width="0.25"/>
<path d="M48.9 231.1 L61.4 222.98 A14.9 14.9 0 0 1 63.57 228.51 Z" fill="#a6abb1" stroke="#a6abb1" stroke-width="0.25"/>
<path d="M48.9 231.1 L63.57 228.51 A14.9 14.9 0 0 1 63.69 232.92 Z" fill="#6e747c" stroke="#6e747c" stroke-width="0.25"/>
<path d="M48.9 231.1 L63.69 232.92 A14.9 14.9 0 0 1 43.8 245.1 Z" fill="#a6abb1" stroke="#a6abb1" stroke-width="0.25"/>
<path d="M48.9 231.1 L43.8 245.1 A14.9 14.9 0 0 1 34.9 236.2 Z" fill="#d9dce0" stroke="#d9dce0" stroke-width="0.25"/>
<path d="M48.9 231.1 L34.9 236.2 A14.9 14.9 0 0 1 34.33 234.2 Z" fill="#8d9299" stroke="#8d9299" stroke-width="0.25"/>
<path d="M48.9 231.1 L34.33 234.2 A14.9 14.9 0 0 1 34.15 233.17 Z" fill="#a6abb1" stroke="#a6abb1" stroke-width="0.25"/>
<path d="M48.9 231.1 L34.15 233.17 A14.9 14.9 0 0 1 34.9 226 Z" fill="#d9dce0" stroke="#d9dce0" stroke-width="0.25"/>
<path d="M48.9 231.1 L34.9 226 A14.9 14.9 0 0 1 48.9 216.2 Z" fill="#f3f4f6" stroke="#f3f4f6" stroke-width="0.25"/>
<path d="M48.9 213.6 A17.5 17.5 0 1 1 33.04 238.5" fill="none" stroke="#df4a5e" stroke-width="1.9"/>
<path d="M48.9 210.8 A20.3 20.3 0 0 1 68.83 227.23" fill="none" stroke="#92c950" stroke-width="1.9"/>
<path d="M29.82 238.04 A20.3 20.3 0 0 1 28.8 233.93" fill="none" stroke="#92c950" stroke-width="1.9"/>
<path d="M48.9 207.9 A23.2 23.2 0 0 1 68.13 218.13" fill="none" stroke="#31b4b6" stroke-width="1.9"/>
<path d="M71.81 227.47 A23.2 23.2 0 0 1 44.08 253.79" fill="none" stroke="#31b4b6" stroke-width="1.9"/>
<path d="M27.1 239.03 A23.2 23.2 0 0 1 26.21 235.92" fill="none" stroke="#31b4b6" stroke-width="1.9"/>
<path d="M25.87 233.93 A23.2 23.2 0 0 1 26.96 223.55" fill="none" stroke="#31b4b6" stroke-width="1.9"/>
<path d="M48.9 204.9 A26.2 26.2 0 0 1 53.9 205.38" fill="none" stroke="#f0b72f" stroke-width="2.5"/>
<path d="M70.87 216.83 A26.2 26.2 0 0 1 71.82 218.4" fill="none" stroke="#f0b72f" stroke-width="2.5"/>
<path d="M75 228.82 A26.2 26.2 0 0 1 75.04 232.93" fill="none" stroke="#f0b72f" stroke-width="2.5"/>
<path d="M42.56 256.52 A26.2 26.2 0 0 1 40.8 256.02" fill="none" stroke="#f0b72f" stroke-width="2.5"/>
<path d="M24.61 240.91 A26.2 26.2 0 0 1 24.28 240.06" fill="none" stroke="#f0b72f" stroke-width="2.5"/>
<path d="M22.95 234.75 A26.2 26.2 0 0 1 22.8 233.38" fill="none" stroke="#f0b72f" stroke-width="2.5"/>
<path d="M24.61 221.29 A26.2 26.2 0 0 1 24.97 220.44" fill="none" stroke="#f0b72f" stroke-width="2.5"/>
<path d="M109.3 231.1 L109.3 216.2 A14.9 14.9 0 0 1 112.4 216.53 Z" fill="#454a51" stroke="#454a51" stroke-width="0.25"/>
<path d="M109.3 231.1 L112.4 216.53 A14.9 14.9 0 0 1 121.8 222.98 Z" fill="#6e747c" stroke="#6e747c" stroke-width="0.25"/>
<path d="M109.3 231.1 L121.8 222.98 A14.9 14.9 0 0 1 123.97 228.51 Z" fill="#a6abb1" stroke="#a6abb1" stroke-width="0.25"/>
<path d="M109.3 231.1 L123.97 228.51 A14.9 14.9 0 0 1 124.09 232.92 Z" fill="#6e747c" stroke="#6e747c" stroke-width="0.25"/>
<path d="M109.3 231.1 L124.09 232.92 A14.9 14.9 0 0 1 104.2 245.1 Z" fill="#a6abb1" stroke="#a6abb1" stroke-width="0.25"/>
<path d="M109.3 231.1 L104.2 245.1 A14.9 14.9 0 0 1 95.3 236.2 Z" fill="#d9dce0" stroke="#d9dce0" stroke-width="0.25"/>
<path d="M109.3 231.1 L95.3 236.2 A14.9 14.9 0 0 1 94.73 234.2 Z" fill="#8d9299" stroke="#8d9299" stroke-width="0.25"/>
<path d="M109.3 231.1 L94.73 234.2 A14.9 14.9 0 0 1 94.55 233.17 Z" fill="#a6abb1" stroke="#a6abb1" stroke-width="0.25"/>
<path d="M109.3 231.1 L94.55 233.17 A14.9 14.9 0 0 1 95.3 226 Z" fill="#d9dce0" stroke="#d9dce0" stroke-width="0.25"/>
<path d="M109.3 231.1 L95.3 226 A14.9 14.9 0 0 1 109.3 216.2 Z" fill="#f3f4f6" stroke="#f3f4f6" stroke-width="0.25"/>
<path d="M109.3 213.6 A17.5 17.5 0 1 1 93.44 238.5" fill="none" stroke="#df4a5e" stroke-width="1.9"/>
<path d="M109.3 210.8 A20.3 20.3 0 0 1 129.23 227.23" fill="none" stroke="#92c950" stroke-width="1.9"/>
<path d="M90.22 238.04 A20.3 20.3 0 0 1 89.2 233.93" fill="none" stroke="#92c950" stroke-width="1.9"/>
<path d="M109.3 207.9 A23.2 23.2 0 0 1 128.53 218.13" fill="none" stroke="#31b4b6" stroke-width="1.9"/>
<path d="M132.21 227.47 A23.2 23.2 0 0 1 104.48 253.79" fill="none" stroke="#31b4b6" stroke-width="1.9"/>
<path d="M87.5 239.03 A23.2 23.2 0 0 1 86.61 235.92" fill="none" stroke="#31b4b6" stroke-width="1.9"/>
<path d="M86.27 233.93 A23.2 23.2 0 0 1 87.36 223.55" fill="none" stroke="#31b4b6" stroke-width="1.9"/>
<path d="M109.3 204.9 A26.2 26.2 0 0 1 114.3 205.38" fill="none" stroke="#f0b72f" stroke-width="2.5"/>
<path d="M131.27 216.83 A26.2 26.2 0 0 1 132.22 218.4" fill="none" stroke="#f0b72f" stroke-width="2.5"/>
<path d="M135.4 228.82 A26.2 26.2 0 0 1 135.44 232.93" fill="none" stroke="#f0b72f" stroke-width="2.5"/>
<path d="M102.96 256.52 A26.2 26.2 0 0 1 101.2 256.02" fill="none" stroke="#f0b72f" stroke-width="2.5"/>
<path d="M85.01 240.91 A26.2 26.2 0 0 1 84.68 240.06" fill="none" stroke="#f0b72f" stroke-width="2.5"/>
<path d="M83.35 234.75 A26.2 26.2 0 0 1 83.2 233.38" fill="none" stroke="#f0b72f" stroke-width="2.5"/>
<path d="M85.01 221.29 A26.2 26.2 0 0 1 85.37 220.44" fill="none" stroke="#f0b72f" stroke-width="2.5"/>
<path d="M169.7 231.1 L169.7 216.2 A14.9 14.9 0 0 1 172.8 216.53 Z" fill="#454a51" stroke="#454a51" stroke-width="0.25"/>
<path d="M169.7 231.1 L172.8 216.53 A14.9 14.9 0 0 1 182.2 222.98 Z" fill="#6e747c" stroke="#6e747c" stroke-width="0.25"/>
<path d="M169.7 231.1 L182.2 222.98 A14.9 14.9 0 0 1 184.37 228.51 Z" fill="#a6abb1" stroke="#a6abb1" stroke-width="0.25"/>
<path d="M169.7 231.1 L184.37 228.51 A14.9 14.9 0 0 1 184.49 232.92 Z" fill="#6e747c" stroke="#6e747c" stroke-width="0.25"/>
<path d="M169.7 231.1 L184.49 232.92 A14.9 14.9 0 0 1 164.6 245.1 Z" fill="#a6abb1" stroke="#a6abb1" stroke-width="0.25"/>
<path d="M169.7 231.1 L164.6 245.1 A14.9 14.9 0 0 1 155.7 236.2 Z" fill="#d9dce0" stroke="#d9dce0" stroke-width="0.25"/>
<path d="M169.7 231.1 L155.7 236.2 A14.9 14.9 0 0 1 155.13 234.2 Z" fill="#8d9299" stroke="#8d9299" stroke-width="0.25"/>
<path d="M169.7 231.1 L155.13 234.2 A14.9 14.9 0 0 1 154.95 233.17 Z" fill="#a6abb1" stroke="#a6abb1" stroke-width="0.25"/>
<path d="M169.7 231.1 L154.95 233.17 A14.9 14.9 0 0 1 155.7 226 Z" fill="#d9dce0" stroke="#d9dce0" stroke-width="0.25"/>
<path d="M169.7 231.1 L155.7 226 A14.9 14.9 0 0 1 169.7 216.2 Z" fill="#f3f4f6" stroke="#f3f4f6" stroke-width="0.25"/>
<path d="M169.7 213.6 A17.5 17.5 0 1 1 153.84 238.5" fill="none" stroke="#df4a5e" stroke-width="1.9"/>
<path d="M169.7 210.8 A20.3 20.3 0 0 1 189.63 227.23" fill="none" stroke="#92c950" stroke-width="1.9"/>
<path d="M150.62 238.04 A20.3 20.3 0 0 1 149.6 233.93" fill="none" stroke="#92c950" stroke-width="1.9"/>
<path d="M169.7 207.9 A23.2 23.2 0 0 1 188.93 218.13" fill="none" stroke="#31b4b6" stroke-width="1.9"/>
<path d="M192.61 227.47 A23.2 23.2 0 0 1 164.88 253.79" fill="none" stroke="#31b4b6" stroke-width="1.9"/>
<path d="M147.9 239.03 A23.2 23.2 0 0 1 147.01 235.92" fill="none" stroke="#31b4b6" stroke-width="1.9"/>
<path d="M146.67 233.93 A23.2 23.2 0 0 1 147.76 223.55" fill="none" stroke="#31b4b6" stroke-width="1.9"/>
<path d="M169.7 204.9 A26.2 26.2 0 0 1 174.7 205.38" fill="none" stroke="#f0b72f" stroke-width="2.5"/>
<path d="M191.67 216.83 A26.2 26.2 0 0 1 192.62 218.4" fill="none" stroke="#f0b72f" stroke-width="2.5"/>
<path d="M195.8 228.82 A26.2 26.2 0 0 1 195.84 232.93" fill="none" stroke="#f0b72f" stroke-width="2.5"/>
<path d="M163.36 256.52 A26.2 26.2 0 0 1 161.6 256.02" fill="none" stroke="#f0b72f" stroke-width="2.5"/>
<path d="M145.41 240.91 A26.2 26.2 0 0 1 145.08 240.06" fill="none" stroke="#f0b72f" stroke-width="2.5"/>
<path d="M143.75 234.75 A26.2 26.2 0 0 1 143.6 233.38" fill="none" stroke="#f0b72f" stroke-width="2.5"/>
<path d="M145.41 221.29 A26.2 26.2 0 0 1 145.77 220.44" fill="none" stroke="#f0b72f" stroke-width="2.5"/>
<path d="M230.1 231.1 L230.1 216.2 A14.9 14.9 0 0 1 233.2 216.53 Z" fill="#454a51" stroke="#454a51" stroke-width="0.25"/>
<path d="M230.1 231.1 L233.2 216.53 A14.9 14.9 0 0 1 242.6 222.98 Z" fill="#6e747c" stroke="#6e747c" stroke-width="0.25"/>
<path d="M230.1 231.1 L242.6 222.98 A14.9 14.9 0 0 1 244.77 228.51 Z" fill="#a6abb1" stroke="#a6abb1" stroke-width="0.25"/>
<path d="M230.1 231.1 L244.77 228.51 A14.9 14.9 0 0 1 244.89 232.92 Z" fill="#6e747c" stroke="#6e747c" stroke-width="0.25"/>
<path d="M230.1 231.1 L244.89 232.92 A14.9 14.9 0 0 1 225 245.1 Z" fill="#a6abb1" stroke="#a6abb1" stroke-width="0.25"/>
<path d="M230.1 231.1 L225 245.1 A14.9 14.9 0 0 1 216.1 236.2 Z" fill="#d9dce0" stroke="#d9dce0" stroke-width="0.25"/>
<path d="M230.1 231.1 L216.1 236.2 A14.9 14.9 0 0 1 215.53 234.2 Z" fill="#8d9299" stroke="#8d9299" stroke-width="0.25"/>
<path d="M230.1 231.1 L215.53 234.2 A14.9 14.9 0 0 1 215.35 233.17 Z" fill="#a6abb1" stroke="#a6abb1" stroke-width="0.25"/>
<path d="M230.1 231.1 L215.35 233.17 A14.9 14.9 0 0 1 216.1 226 Z" fill="#d9dce0" stroke="#d9dce0" stroke-width="0.25"/>
<path d="M230.1 231.1 L216.1 226 A14.9 14.9 0 0 1 230.1 216.2 Z" fill="#f3f4f6" stroke="#f3f4f6" stroke-width="0.25"/>
<path d="M230.1 213.6 A17.5 17.5 0 1 1 214.24 238.5" fill="none" stroke="#df4a5e" stroke-width="1.9"/>
<path d="M230.1 210.8 A20.3 20.3 0 0 1 250.03 227.23" fill="none" stroke="#92c950" stroke-width="1.9"/>
<path d="M211.02 238.04 A20.3 20.3 0 0 1 210 233.93" fill="none" stroke="#92c950" stroke-width="1.9"/>
<path d="M230.1 207.9 A23.2 23.2 0 0 1 249.33 218.13" fill="none" stroke="#31b4b6" stroke-width="1.9"/>
<path d="M253.01 227.47 A23.2 23.2 0 0 1 225.28 253.79" fill="none" stroke="#31b4b6" stroke-width="1.9"/>
<path d="M208.3 239.03 A23.2 23.2 0 0 1 207.41 235.92" fill="none" stroke="#31b4b6" stroke-width="1.9"/>
<path d="M207.07 233.93 A23.2 23.2 0 0 1 208.16 223.55" fill="none" stroke="#31b4b6" stroke-width="1.9"/>
<path d="M230.1 204.9 A26.2 26.2 0 0 1 235.1 205.38" fill="none" stroke="#f0b72f" stroke-width="2.5"/>
<path d="M252.07 216.83 A26.2 26.2 0 0 1 253.02 218.4" fill="none" stroke="#f0b72f" stroke-width="2.5"/>
<path d="M256.2 228.82 A26.2 26.2 0 0 1 256.24 232.93" fill="none" stroke="#f0b72f" stroke-width="2.5"/>
<path d="M223.76 256.52 A26.2 26.2 0 0 1 222 256.02" fill="none" stroke="#f0b72f" stroke-width="2.5"/>
<path d="M205.81 240.91 A26.2 26.2 0 0 1 205.48 240.06" fill="none" stroke="#f0b72f" stroke-width="2.5"/>
<path d="M204.15 234.75 A26.2 26.2 0 0 1 204 233.38" fill="none" stroke="#f0b72f" stroke-width="2.5"/>
<path d="M205.81 221.29 A26.2 26.2 0 0 1 206.17 220.44" fill="none" stroke="#f0b72f" stroke-width="2.5"/>
<path d="M290.5 231.1 L290.5 216.2 A14.9 14.9 0 0 1 293.09 216.43 Z" fill="#454a51" stroke="#454a51" stroke-width="0.25"/>
<path d="M290.5 231.1 L293.09 216.43 A14.9 14.9 0 0 1 300.08 219.69 Z" fill="#6e747c" stroke="#6e747c" stroke-width="0.25"/>
<path d="M290.5 231.1 L300.08 219.69 A14.9 14.9 0 0 1 301.91 221.52 Z" fill="#a6abb1" stroke="#a6abb1" stroke-width="0.25"/>
<path d="M290.5 231.1 L301.91 221.52 A14.9 14.9 0 0 1 304.89 227.24 Z" fill="#6e747c" stroke="#6e747c" stroke-width="0.25"/>
<path d="M290.5 231.1 L304.89 227.24 A14.9 14.9 0 0 1 294.36 245.49 Z" fill="#a6abb1" stroke="#a6abb1" stroke-width="0.25"/>
<path d="M290.5 231.1 L294.36 245.49 A14.9 14.9 0 0 1 277.6 238.55 Z" fill="#d9dce0" stroke="#d9dce0" stroke-width="0.25"/>
<path d="M290.5 231.1 L277.6 238.55 A14.9 14.9 0 0 1 276.5 236.2 Z" fill="#c3c7cc" stroke="#c3c7cc" stroke-width="0.25"/>
<path d="M290.5 231.1 L276.5 236.2 A14.9 14.9 0 0 1 275.83 228.51 Z" fill="#d9dce0" stroke="#d9dce0" stroke-width="0.25"/>
<path d="M290.5 231.1 L275.83 228.51 A14.9 14.9 0 0 1 290.5 216.2 Z" fill="#f3f4f6" stroke="#f3f4f6" stroke-width="0.25"/>
<path d="M290.5 213.6 A17.5 17.5 0 1 1 278.79 244.11" fill="none" stroke="#df4a5e" stroke-width="1.9"/>
<path d="M290.5 210.8 A20.3 20.3 0 0 1 306.92 219.17" fill="none" stroke="#92c950" stroke-width="1.9"/>
<path d="M275.9 245.2 A20.3 20.3 0 0 1 274.08 243.03" fill="none" stroke="#92c950" stroke-width="1.9"/>
<path d="M290.5 207.9 A23.2 23.2 0 0 1 304.14 212.33" fill="none" stroke="#31b4b6" stroke-width="1.9"/>
<path d="M309.96 218.46 A23.2 23.2 0 0 1 299.19 252.61" fill="none" stroke="#31b4b6" stroke-width="1.9"/>
<path d="M271.5 244.41 A23.2 23.2 0 0 1 267.39 229.08" fill="none" stroke="#31b4b6" stroke-width="1.9"/>
<path d="M290.5 204.9 A26.2 26.2 0 0 1 294.15 205.15" fill="none" stroke="#f0b72f" stroke-width="2.5"/>
<path d="M306.63 210.45 A26.2 26.2 0 0 1 307.69 211.33" fill="none" stroke="#f0b72f" stroke-width="2.5"/>
<path d="M313.19 218 A26.2 26.2 0 0 1 315.42 223" fill="none" stroke="#f0b72f" stroke-width="2.5"/>
<path d="M298.6 256.02 A26.2 26.2 0 0 1 297.28 256.41" fill="none" stroke="#f0b72f" stroke-width="2.5"/>
<path d="M269.85 247.23 A26.2 26.2 0 0 1 268.78 245.75" fill="none" stroke="#f0b72f" stroke-width="2.5"/>
<path d="M264.3 231.1 A26.2 26.2 0 0 1 264.34 229.73" fill="none" stroke="#f0b72f" stroke-width="2.5"/>
<path d="M350.9 231.1 L350.9 216.2 A14.9 14.9 0 0 1 354 216.53 Z" fill="#50565e" stroke="#50565e" stroke-width="0.25"/>
<path d="M350.9 231.1 L354 216.53 A14.9 14.9 0 0 1 355.5 216.93 Z" fill="#8d9299" stroke="#8d9299" stroke-width="0.25"/>
<path d="M350.9 231.1 L355.5 216.93 A14.9 14.9 0 0 1 359.45 218.89 Z" fill="#6e747c" stroke="#6e747c" stroke-width="0.25"/>
<path d="M350.9 231.1 L359.45 218.89 A14.9 14.9 0 0 1 365.79 230.58 Z" fill="#a6abb1" stroke="#a6abb1" stroke-width="0.25"/>
<path d="M350.9 231.1 L365.79 230.58 A14.9 14.9 0 0 1 363.11 239.65 Z" fill="#d9dce0" stroke="#d9dce0" stroke-width="0.25"/>
<path d="M350.9 231.1 L363.11 239.65 A14.9 14.9 0 0 1 359.45 243.31 Z" fill="#8d9299" stroke="#8d9299" stroke-width="0.25"/>
<path d="M350.9 231.1 L359.45 243.31 A14.9 14.9 0 0 1 357.2 244.6 Z" fill="#c3c7cc" stroke="#c3c7cc" stroke-width="0.25"/>
<path d="M350.9 231.1 L357.2 244.6 A14.9 14.9 0 0 1 342.35 243.31 Z" fill="#d9dce0" stroke="#d9dce0" stroke-width="0.25"/>
<path d="M350.9 231.1 L342.35 243.31 A14.9 14.9 0 0 1 350.9 216.2 Z" fill="#f3f4f6" stroke="#f3f4f6" stroke-width="0.25"/>
<path d="M350.9 213.6 A17.5 17.5 0 0 1 362.83 243.9" fill="none" stroke="#df4a5e" stroke-width="1.9"/>
<path d="M350.9 210.8 A20.3 20.3 0 0 1 358.5 212.28" fill="none" stroke="#92c950" stroke-width="1.9"/>
<path d="M363.95 246.65 A20.3 20.3 0 0 1 361.96 248.13" fill="none" stroke="#92c950" stroke-width="1.9"/>
<path d="M350.9 207.9 A23.2 23.2 0 0 1 355.72 208.41" fill="none" stroke="#31b4b6" stroke-width="1.9"/>
<path d="M360.34 209.91 A23.2 23.2 0 0 1 373.87 227.87" fill="none" stroke="#31b4b6" stroke-width="1.9"/>
<path d="M366.42 248.34 A23.2 23.2 0 0 1 365.18 249.38" fill="none" stroke="#31b4b6" stroke-width="1.9"/>
<path d="M363.19 250.77 A23.2 23.2 0 0 1 338.61 250.77" fill="none" stroke="#31b4b6" stroke-width="1.9"/>
<path d="M350.9 204.9 A26.2 26.2 0 0 1 351.81 204.92" fill="none" stroke="#f0b72f" stroke-width="2.5"/>
<path d="M357.24 205.68 A26.2 26.2 0 0 1 358.12 205.91" fill="none" stroke="#f0b72f" stroke-width="2.5"/>
<path d="M361.97 207.35 A26.2 26.2 0 0 1 365.93 209.64" fill="none" stroke="#f0b72f" stroke-width="2.5"/>
<path d="M376.96 228.36 A26.2 26.2 0 0 1 377.1 231.1" fill="none" stroke="#f0b72f" stroke-width="2.5"/>
<path d="M364 253.79 A26.2 26.2 0 0 1 359.86 255.72" fill="none" stroke="#f0b72f" stroke-width="2.5"/>
<path d="M334.77 251.75 A26.2 26.2 0 0 1 332.37 249.63" fill="none" stroke="#f0b72f" stroke-width="2.5"/>
<path d="M48.9 303.5 L48.9 288.6 A14.9 14.9 0 0 1 63.42 300.15 Z" fill="#6e747c" stroke="#6e747c" stroke-width="0.25"/>
<path d="M48.9 303.5 L63.42 300.15 A14.9 14.9 0 0 1 57.45 315.71 Z" fill="#a6abb1" stroke="#a6abb1" stroke-width="0.25"/>
<path d="M48.9 303.5 L57.45 315.71 A14.9 14.9 0 0 1 45.04 317.89 Z" fill="#d9dce0" stroke="#d9dce0" stroke-width="0.25"/>
<path d="M48.9 303.5 L45.04 317.89 A14.9 14.9 0 0 1 36 310.95 Z" fill="#a6abb1" stroke="#a6abb1" stroke-width="0.25"/>
<path d="M48.9 303.5 L36 310.95 A14.9 14.9 0 0 1 34.23 300.91 Z" fill="#d9dce0" stroke="#d9dce0" stroke-width="0.25"/>
<path d="M48.9 303.5 L34.23 300.91 A14.9 14.9 0 0 1 48.9 288.6 Z" fill="#f3f4f6" stroke="#f3f4f6" stroke-width="0.25"/>
<path d="M48.9 286 A17.5 17.5 0 1 1 42.91 319.94" fill="none" stroke="#df4a5e" stroke-width="1.9"/>
<path d="M48.9 283.2 A20.3 20.3 0 0 1 68.21 297.23" fill="none" stroke="#92c950" stroke-width="1.9"/>
<path d="M41.96 322.58 A20.3 20.3 0 0 1 32.27 315.14" fill="none" stroke="#92c950" stroke-width="1.9"/>
<path d="M48.9 280.3 A23.2 23.2 0 0 1 71.59 298.68" fill="none" stroke="#31b4b6" stroke-width="1.9"/>
<path d="M71.93 300.67 A23.2 23.2 0 0 1 60.5 323.59" fill="none" stroke="#31b4b6" stroke-width="1.9"/>
<path d="M40.97 325.3 A23.2 23.2 0 0 1 25.99 299.87" fill="none" stroke="#31b4b6" stroke-width="1.9"/>
<path d="M48.9 277.3 A26.2 26.2 0 0 1 50.73 277.36" fill="none" stroke="#f0b72f" stroke-width="2.5"/>
<path d="M74.85 299.85 A26.2 26.2 0 0 1 75 301.22" fill="none" stroke="#f0b72f" stroke-width="2.5"/>
<path d="M64.3 324.7 A26.2 26.2 0 0 1 63.17 325.47" fill="none" stroke="#f0b72f" stroke-width="2.5"/>
<path d="M38.66 327.62 A26.2 26.2 0 0 1 37.41 327.05" fill="none" stroke="#f0b72f" stroke-width="2.5"/>
<path d="M27.7 318.9 A26.2 26.2 0 0 1 26.93 317.77" fill="none" stroke="#f0b72f" stroke-width="2.5"/>
<path d="M23.02 299.4 A26.2 26.2 0 0 1 23.27 298.05" fill="none" stroke="#f0b72f" stroke-width="2.5"/>
<path d="M109.3 303.5 L109.3 288.6 A14.9 14.9 0 0 1 123.82 300.15 Z" fill="#6e747c" stroke="#6e747c" stroke-width="0.25"/>
<path d="M109.3 303.5 L123.82 300.15 A14.9 14.9 0 0 1 117.85 315.71 Z" fill="#a6abb1" stroke="#a6abb1" stroke-width="0.25"/>
<path d="M109.3 303.5 L117.85 315.71 A14.9 14.9 0 0 1 105.44 317.89 Z" fill="#d9dce0" stroke="#d9dce0" stroke-width="0.25"/>
<path d="M109.3 303.5 L105.44 317.89 A14.9 14.9 0 0 1 96.4 310.95 Z" fill="#a6abb1" stroke="#a6abb1" stroke-width="0.25"/>
<path d="M109.3 303.5 L96.4 310.95 A14.9 14.9 0 0 1 94.63 300.91 Z" fill="#d9dce0" stroke="#d9dce0" stroke-width="0.25"/>
<path d="M109.3 303.5 L94.63 300.91 A14.9 14.9 0 0 1 109.3 288.6 Z" fill="#f3f4f6" stroke="#f3f4f6" stroke-width="0.25"/>
<path d="M109.3 286 A17.5 17.5 0 1 1 103.31 319.94" fill="none" stroke="#df4a5e" stroke-width="1.9"/>
<path d="M109.3 283.2 A20.3 20.3 0 0 1 128.61 297.23" fill="none" stroke="#92c950" stroke-width="1.9"/>
<path d="M102.36 322.58 A20.3 20.3 0 0 1 92.67 315.14" fill="none" stroke="#92c950" stroke-width="1.9"/>
<path d="M109.3 280.3 A23.2 23.2 0 0 1 131.99 298.68" fill="none" stroke="#31b4b6" stroke-width="1.9"/>
<path d="M132.33 300.67 A23.2 23.2 0 0 1 120.9 323.59" fill="none" stroke="#31b4b6" stroke-width="1.9"/>
<path d="M101.37 325.3 A23.2 23.2 0 0 1 86.39 299.87" fill="none" stroke="#31b4b6" stroke-width="1.9"/>
<path d="M109.3 277.3 A26.2 26.2 0 0 1 111.13 277.36" fill="none" stroke="#f0b72f" stroke-width="2.5"/>
<path d="M135.25 299.85 A26.2 26.2 0 0 1 135.4 301.22" fill="none" stroke="#f0b72f" stroke-width="2.5"/>
<path d="M124.7 324.7 A26.2 26.2 0 0 1 123.57 325.47" fill="none" stroke="#f0b72f" stroke-width="2.5"/>
<path d="M99.06 327.62 A26.2 26.2 0 0 1 97.81 327.05" fill="none" stroke="#f0b72f" stroke-width="2.5"/>
<path d="M88.1 318.9 A26.2 26.2 0 0 1 87.33 317.77" fill="none" stroke="#f0b72f" stroke-width="2.5"/>
<path d="M83.42 299.4 A26.2 26.2 0 0 1 83.67 298.05" fill="none" stroke="#f0b72f" stroke-width="2.5"/>
<path d="M169.7 303.5 L169.7 288.6 A14.9 14.9 0 0 1 184.22 300.15 Z" fill="#6e747c" stroke="#6e747c" stroke-width="0.25"/>
<path d="M169.7 303.5 L184.22 300.15 A14.9 14.9 0 0 1 178.25 315.71 Z" fill="#a6abb1" stroke="#a6abb1" stroke-width="0.25"/>
<path d="M169.7 303.5 L178.25 315.71 A14.9 14.9 0 0 1 165.84 317.89 Z" fill="#d9dce0" stroke="#d9dce0" stroke-width="0.25"/>
<path d="M169.7 303.5 L165.84 317.89 A14.9 14.9 0 0 1 156.8 310.95 Z" fill="#a6abb1" stroke="#a6abb1" stroke-width="0.25"/>
<path d="M169.7 303.5 L156.8 310.95 A14.9 14.9 0 0 1 155.03 300.91 Z" fill="#d9dce0" stroke="#d9dce0" stroke-width="0.25"/>
<path d="M169.7 303.5 L155.03 300.91 A14.9 14.9 0 0 1 169.7 288.6 Z" fill="#f3f4f6" stroke="#f3f4f6" stroke-width="0.25"/>
<path d="M169.7 286 A17.5 17.5 0 1 1 163.71 319.94" fill="none" stroke="#df4a5e" stroke-width="1.9"/>
<path d="M169.7 283.2 A20.3 20.3 0 0 1 189.01 297.23" fill="none" stroke="#92c950" stroke-width="1.9"/>
<path d="M162.76 322.58 A20.3 20.3 0 0 1 153.07 315.14" fill="none" stroke="#92c950" stroke-width="1.9"/>
<path d="M169.7 280.3 A23.2 23.2 0 0 1 192.39 298.68" fill="none" stroke="#31b4b6" stroke-width="1.9"/>
<path d="M192.73 300.67 A23.2 23.2 0 0 1 181.3 323.59" fill="none" stroke="#31b4b6" stroke-width="1.9"/>
<path d="M161.77 325.3 A23.2 23.2 0 0 1 146.79 299.87" fill="none" stroke="#31b4b6" stroke-width="1.9"/>
<path d="M169.7 277.3 A26.2 26.2 0 0 1 171.53 277.36" fill="none" stroke="#f0b72f" stroke-width="2.5"/>
<path d="M195.65 299.85 A26.2 26.2 0 0 1 195.8 301.22" fill="none" stroke="#f0b72f" stroke-width="2.5"/>
<path d="M185.1 324.7 A26.2 26.2 0 0 1 183.97 325.47" fill="none" stroke="#f0b72f" stroke-width="2.5"/>
<path d="M159.46 327.62 A26.2 26.2 0 0 1 158.21 327.05" fill="none" stroke="#f0b72f" stroke-width="2.5"/>
<path d="M148.5 318.9 A26.2 26.2 0 0 1 147.73 317.77" fill="none" stroke="#f0b72f" stroke-width="2.5"/>
<path d="M143.82 299.4 A26.2 26.2 0 0 1 144.07 298.05" fill="none" stroke="#f0b72f" stroke-width="2.5"/>
<path d="M230.1 303.5 L230.1 288.6 A14.9 14.9 0 0 1 242.31 294.95 Z" fill="#6e747c" stroke="#6e747c" stroke-width="0.25"/>
<path d="M230.1 303.5 L242.31 294.95 A14.9 14.9 0 0 1 244.49 307.36 Z" fill="#a6abb1" stroke="#a6abb1" stroke-width="0.25"/>
<path d="M230.1 303.5 L244.49 307.36 A14.9 14.9 0 0 1 235.2 317.5 Z" fill="#d9dce0" stroke="#d9dce0" stroke-width="0.25"/>
<path d="M230.1 303.5 L235.2 317.5 A14.9 14.9 0 0 1 227.51 318.17 Z" fill="#a6abb1" stroke="#a6abb1" stroke-width="0.25"/>
<path d="M230.1 303.5 L227.51 318.17 A14.9 14.9 0 0 1 217.89 312.05 Z" fill="#d9dce0" stroke="#d9dce0" stroke-width="0.25"/>
<path d="M230.1 303.5 L217.89 312.05 A14.9 14.9 0 0 1 230.1 288.6 Z" fill="#f3f4f6" stroke="#f3f4f6" stroke-width="0.25"/>
<path d="M230.1 286 A17.5 17.5 0 0 1 235.51 320.14" fill="none" stroke="#df4a5e" stroke-width="1.9"/>
<path d="M230.1 283.2 A20.3 20.3 0 0 1 245.65 290.45" fill="none" stroke="#92c950" stroke-width="1.9"/>
<path d="M233.63 323.49 A20.3 20.3 0 0 1 223.16 322.58" fill="none" stroke="#92c950" stroke-width="1.9"/>
<path d="M230.1 280.3 A23.2 23.2 0 0 1 247.34 287.98" fill="none" stroke="#31b4b6" stroke-width="1.9"/>
<path d="M249.1 290.19 A23.2 23.2 0 0 1 251.9 311.43" fill="none" stroke="#31b4b6" stroke-width="1.9"/>
<path d="M236.1 325.91 A23.2 23.2 0 0 1 209.07 313.3" fill="none" stroke="#31b4b6" stroke-width="1.9"/>
<path d="M230.1 277.3 A26.2 26.2 0 0 1 231.47 277.34" fill="none" stroke="#f0b72f" stroke-width="2.5"/>
<path d="M251.56 288.47 A26.2 26.2 0 0 1 252.32 289.62" fill="none" stroke="#f0b72f" stroke-width="2.5"/>
<path d="M254.72 312.46 A26.2 26.2 0 0 1 254.22 313.74" fill="none" stroke="#f0b72f" stroke-width="2.5"/>
<path d="M235.55 329.13 A26.2 26.2 0 0 1 234.2 329.38" fill="none" stroke="#f0b72f" stroke-width="2.5"/>
<path d="M222.88 328.69 A26.2 26.2 0 0 1 221.57 328.27" fill="none" stroke="#f0b72f" stroke-width="2.5"/>
<path d="M205.48 312.46 A26.2 26.2 0 0 1 205.04 311.16" fill="none" stroke="#f0b72f" stroke-width="2.5"/>
<path d="M290.5 303.5 L290.5 288.6 A14.9 14.9 0 0 1 293.09 288.83 Z" fill="#50565e" stroke="#50565e" stroke-width="0.25"/>
<path d="M290.5 303.5 L293.09 288.83 A14.9 14.9 0 0 1 295.6 289.5 Z" fill="#8d9299" stroke="#8d9299" stroke-width="0.25"/>
<path d="M290.5 303.5 L295.6 289.5 A14.9 14.9 0 0 1 304 297.2 Z" fill="#d9dce0" stroke="#d9dce0" stroke-width="0.25"/>
<path d="M290.5 303.5 L304 297.2 A14.9 14.9 0 0 1 304.89 299.64 Z" fill="#a6abb1" stroke="#a6abb1" stroke-width="0.25"/>
<path d="M290.5 303.5 L304.89 299.64 A14.9 14.9 0 0 1 305.34 304.8 Z" fill="#d9dce0" stroke="#d9dce0" stroke-width="0.25"/>
<path d="M290.5 303.5 L305.34 304.8 A14.9 14.9 0 1 1 290.5 288.6 Z" fill="#f3f4f6" stroke="#f3f4f6" stroke-width="0.25"/>
<path d="M290.5 286 A17.5 17.5 0 0 1 305.34 294.23" fill="none" stroke="#df4a5e" stroke-width="1.9"/>
<path d="M290.5 283.2 A20.3 20.3 0 0 1 294.72 283.64" fill="none" stroke="#92c950" stroke-width="1.9"/>
<path d="M308.9 294.92 A20.3 20.3 0 0 1 310.11 298.25" fill="none" stroke="#92c950" stroke-width="1.9"/>
<path d="M290.5 280.3 A23.2 23.2 0 0 1 293.73 280.53" fill="none" stroke="#31b4b6" stroke-width="1.9"/>
<path d="M295.32 280.81 A23.2 23.2 0 0 1 299.19 281.99" fill="none" stroke="#31b4b6" stroke-width="1.9"/>
<path d="M310.98 292.61 A23.2 23.2 0 0 1 313.35 307.53" fill="none" stroke="#31b4b6" stroke-width="1.9"/>
<path d="M290.5 277.3 A26.2 26.2 0 0 1 291.41 277.32" fill="none" stroke="#f0b72f" stroke-width="2.5"/>
<path d="M299.46 278.88 A26.2 26.2 0 0 1 300.31 279.21" fill="none" stroke="#f0b72f" stroke-width="2.5"/>
<path d="M313.84 291.61 A26.2 26.2 0 0 1 314.25 292.43" fill="none" stroke="#f0b72f" stroke-width="2.5"/>
<path d="M316.3 308.05 A26.2 26.2 0 0 1 316.13 308.95" fill="none" stroke="#f0b72f" stroke-width="2.5"/>
<path d="M350.9 303.5 L350.9 288.6 A14.9 14.9 0 0 1 352.97 288.75 Z" fill="#d9dce0" stroke="#d9dce0" stroke-width="0.25"/>
<path d="M350.9 303.5 L352.97 288.75 A14.9 14.9 0 1 1 350.9 288.6 Z" fill="#f3f4f6" stroke="#f3f4f6" stroke-width="0.25"/>
<path d="M350.9 286 A17.5 17.5 0 0 1 353.34 286.17" fill="none" stroke="#df4a5e" stroke-width="1.9"/>
<path d="M351.61 283.21 A20.3 20.3 0 0 1 352.32 283.25" fill="none" stroke="#92c950" stroke-width="1.9"/>
<path d="M356.15 283.89 A20.3 20.3 0 0 1 356.84 284.09" fill="none" stroke="#92c950" stroke-width="1.9"/>
<path d="M350.9 280.3 A23.2 23.2 0 0 1 351.71 280.31" fill="none" stroke="#31b4b6" stroke-width="1.9"/>
<path d="M356.9 281.09 A23.2 23.2 0 0 1 359.21 281.84" fill="none" stroke="#31b4b6" stroke-width="1.9"/>
<path d="M360.71 279.21 A26.2 26.2 0 0 1 361.56 279.57" fill="none" stroke="#f0b72f" stroke-width="2.5"/>
<text x="48.9" y="338.6" font-size="7.4" text-anchor="middle" fill="#111" stroke="#111" stroke-width="0.12">10&#956;M</text>
<text x="109.3" y="338.6" font-size="7.4" text-anchor="middle" fill="#111" stroke="#111" stroke-width="0.12">1&#956;M</text>
<text x="169.7" y="338.6" font-size="7.4" text-anchor="middle" fill="#111" stroke="#111" stroke-width="0.12">0.1&#956;M</text>
<text x="230.1" y="338.6" font-size="7.4" text-anchor="middle" fill="#111" stroke="#111" stroke-width="0.12">0.01&#956;M</text>
<text x="290.5" y="338.6" font-size="7.4" text-anchor="middle" fill="#111" stroke="#111" stroke-width="0.12">0.001&#956;M</text>
<text x="350.9" y="338.6" font-size="7.4" text-anchor="middle" fill="#111" stroke="#111" stroke-width="0.12">0.0001&#956;M</text>
<line x1="20.5" y1="343.8" x2="375.3" y2="343.8" stroke="#555" stroke-width="0.8"/>
<text x="199.5" y="356" font-size="7.4" text-anchor="middle" fill="#111" stroke="#111" stroke-width="0.12">Peptide concentration</text>
<text x="18.5" y="263.5" font-size="7.35" text-anchor="start" fill="#111" transform="rotate(-90 18.5 263.5)" stroke="#111" stroke-width="0.12">TCR<tspan dy="2.2" font-size="4.41">KO</tspan><tspan dy="-2.2"> +DKK1 TCR</tspan></text>
<text x="18.5" y="333.3" font-size="7.35" text-anchor="start" fill="#111" transform="rotate(-90 18.5 333.3)" stroke="#111" stroke-width="0.12">TCR<tspan dy="2.2" font-size="4.41">KO</tspan><tspan dy="-2.2"> +MSLN TCR</tspan></text>
<text x="382.9" y="209.6" font-size="8.3" text-anchor="start" fill="#df4a5e" stroke="#df4a5e" stroke-width="0.12">CD107a</text>
<text x="382.9" y="218" font-size="8.3" text-anchor="start" fill="#92c950" stroke="#92c950" stroke-width="0.12">IFN&#947;</text>
<text x="382.9" y="226.4" font-size="8.3" text-anchor="start" fill="#31b4b6" stroke="#31b4b6" stroke-width="0.12">IL-2</text>
<text x="382.9" y="234.8" font-size="8.3" text-anchor="start" fill="#f0b72f" stroke="#f0b72f" stroke-width="0.12">TNFa</text>
<text x="382.4" y="256.3" font-size="8.35" text-anchor="start" fill="#111" stroke="#111" stroke-width="0.12">n&#176; of coexpressed</text>
<text x="416" y="265.6" font-size="8.35" text-anchor="middle" fill="#111" stroke="#111" stroke-width="0.12">molecules</text>
<text x="385.7" y="277.6" font-size="7.4" text-anchor="middle" fill="#111" stroke="#111" stroke-width="0.12">4</text>
<rect x="382.2" y="281" width="7" height="6.6" fill="#474c53" stroke="#444" stroke-width="0.6" rx="0.8"/>
<text x="401" y="277.6" font-size="7.4" text-anchor="middle" fill="#111" stroke="#111" stroke-width="0.12">3</text>
<rect x="397.5" y="281" width="7" height="6.6" fill="#6b7178" stroke="#444" stroke-width="0.6" rx="0.8"/>
<text x="416.3" y="277.6" font-size="7.4" text-anchor="middle" fill="#111" stroke="#111" stroke-width="0.12">2</text>
<rect x="412.8" y="281" width="7" height="6.6" fill="#a4a9af" stroke="#444" stroke-width="0.6" rx="0.8"/>
<text x="431.6" y="277.6" font-size="7.4" text-anchor="middle" fill="#111" stroke="#111" stroke-width="0.12">1</text>
<rect x="428.1" y="281" width="7" height="6.6" fill="#d8dbdf" stroke="#444" stroke-width="0.6" rx="0.8"/>
<text x="446.9" y="277.6" font-size="7.4" text-anchor="middle" fill="#111" stroke="#111" stroke-width="0.12">0</text>
<rect x="443.4" y="281" width="7" height="6.6" fill="#f7f8f9" stroke="#444" stroke-width="0.6" rx="0.8"/>
<text x="469.3" y="204.7" font-size="14.5" text-anchor="start" fill="#000" stroke="#000" stroke-width="0.12">D</text>
<rect x="519.3" y="322.44" width="9" height="4.87" fill="#474c53" stroke="none" stroke-width="0.8"/>
<rect x="519.3" y="302.98" width="9" height="19.46" fill="#6b7178" stroke="none" stroke-width="0.8"/>
<rect x="519.3" y="266.97" width="9" height="36" fill="#a4a9af" stroke="none" stroke-width="0.8"/>
<rect x="519.3" y="246.54" width="9" height="20.43" fill="#d8dbdf" stroke="none" stroke-width="0.8"/>
<rect x="519.3" y="230" width="9" height="16.54" fill="#f7f8f9" stroke="none" stroke-width="0.8"/>
<rect x="519.3" y="230" width="9" height="97.3" fill="none" stroke="#222" stroke-width="0.8"/>
<line x1="519.3" y1="322.44" x2="528.3" y2="322.44" stroke="#222" stroke-width="0.7"/>
<line x1="519.3" y1="302.98" x2="528.3" y2="302.98" stroke="#222" stroke-width="0.7"/>
<line x1="519.3" y1="266.97" x2="528.3" y2="266.97" stroke="#222" stroke-width="0.7"/>
<line x1="519.3" y1="246.54" x2="528.3" y2="246.54" stroke="#222" stroke-width="0.7"/>
<rect x="533.3" y="326.81" width="9" height="0.49" fill="#474c53" stroke="none" stroke-width="0.8"/>
<rect x="533.3" y="306.87" width="9" height="19.95" fill="#6b7178" stroke="none" stroke-width="0.8"/>
<rect x="533.3" y="281.57" width="9" height="25.3" fill="#a4a9af" stroke="none" stroke-width="0.8"/>
<rect x="533.3" y="254.32" width="9" height="27.24" fill="#d8dbdf" stroke="none" stroke-width="0.8"/>
<rect x="533.3" y="230" width="9" height="24.32" fill="#f7f8f9" stroke="none" stroke-width="0.8"/>
<rect x="533.3" y="230" width="9" height="97.3" fill="none" stroke="#222" stroke-width="0.8"/>
<line x1="533.3" y1="326.81" x2="542.3" y2="326.81" stroke="#222" stroke-width="0.7"/>
<line x1="533.3" y1="306.87" x2="542.3" y2="306.87" stroke="#222" stroke-width="0.7"/>
<line x1="533.3" y1="281.57" x2="542.3" y2="281.57" stroke="#222" stroke-width="0.7"/>
<line x1="533.3" y1="254.32" x2="542.3" y2="254.32" stroke="#222" stroke-width="0.7"/>
<rect x="556.3" y="323.41" width="9" height="3.89" fill="#474c53" stroke="none" stroke-width="0.8"/>
<rect x="556.3" y="304.92" width="9" height="18.49" fill="#6b7178" stroke="none" stroke-width="0.8"/>
<rect x="556.3" y="268.92" width="9" height="36" fill="#a4a9af" stroke="none" stroke-width="0.8"/>
<rect x="556.3" y="248.49" width="9" height="20.43" fill="#d8dbdf" stroke="none" stroke-width="0.8"/>
<rect x="556.3" y="230" width="9" height="18.49" fill="#f7f8f9" stroke="none" stroke-width="0.8"/>
<rect x="556.3" y="230" width="9" height="97.3" fill="none" stroke="#222" stroke-width="0.8"/>
<line x1="556.3" y1="323.41" x2="565.3" y2="323.41" stroke="#222" stroke-width="0.7"/>
<line x1="556.3" y1="304.92" x2="565.3" y2="304.92" stroke="#222" stroke-width="0.7"/>
<line x1="556.3" y1="268.92" x2="565.3" y2="268.92" stroke="#222" stroke-width="0.7"/>
<line x1="556.3" y1="248.49" x2="565.3" y2="248.49" stroke="#222" stroke-width="0.7"/>
<rect x="570.6" y="326.33" width="9" height="0.97" fill="#474c53" stroke="none" stroke-width="0.8"/>
<rect x="570.6" y="312.7" width="9" height="13.62" fill="#6b7178" stroke="none" stroke-width="0.8"/>
<rect x="570.6" y="292.27" width="9" height="20.43" fill="#a4a9af" stroke="none" stroke-width="0.8"/>
<rect x="570.6" y="266" width="9" height="26.27" fill="#d8dbdf" stroke="none" stroke-width="0.8"/>
<rect x="570.6" y="230" width="9" height="36" fill="#f7f8f9" stroke="none" stroke-width="0.8"/>
<rect x="570.6" y="230" width="9" height="97.3" fill="none" stroke="#222" stroke-width="0.8"/>
<line x1="570.6" y1="326.33" x2="579.6" y2="326.33" stroke="#222" stroke-width="0.7"/>
<line x1="570.6" y1="312.7" x2="579.6" y2="312.7" stroke="#222" stroke-width="0.7"/>
<line x1="570.6" y1="292.27" x2="579.6" y2="292.27" stroke="#222" stroke-width="0.7"/>
<line x1="570.6" y1="266" x2="579.6" y2="266" stroke="#222" stroke-width="0.7"/>
<rect x="593.3" y="325.35" width="9" height="1.95" fill="#474c53" stroke="none" stroke-width="0.8"/>
<rect x="593.3" y="311.73" width="9" height="13.62" fill="#6b7178" stroke="none" stroke-width="0.8"/>
<rect x="593.3" y="278.65" width="9" height="33.08" fill="#a4a9af" stroke="none" stroke-width="0.8"/>
<rect x="593.3" y="253.35" width="9" height="25.3" fill="#d8dbdf" stroke="none" stroke-width="0.8"/>
<rect x="593.3" y="230" width="9" height="23.35" fill="#f7f8f9" stroke="none" stroke-width="0.8"/>
<rect x="593.3" y="230" width="9" height="97.3" fill="none" stroke="#222" stroke-width="0.8"/>
<line x1="593.3" y1="325.35" x2="602.3" y2="325.35" stroke="#222" stroke-width="0.7"/>
<line x1="593.3" y1="311.73" x2="602.3" y2="311.73" stroke="#222" stroke-width="0.7"/>
<line x1="593.3" y1="278.65" x2="602.3" y2="278.65" stroke="#222" stroke-width="0.7"/>
<line x1="593.3" y1="253.35" x2="602.3" y2="253.35" stroke="#222" stroke-width="0.7"/>
<rect x="607.6" y="326.33" width="9" height="0.97" fill="#474c53" stroke="none" stroke-width="0.8"/>
<rect x="607.6" y="324.87" width="9" height="1.46" fill="#6b7178" stroke="none" stroke-width="0.8"/>
<rect x="607.6" y="318.06" width="9" height="6.81" fill="#a4a9af" stroke="none" stroke-width="0.8"/>
<rect x="607.6" y="300.06" width="9" height="18" fill="#d8dbdf" stroke="none" stroke-width="0.8"/>
<rect x="607.6" y="230" width="9" height="70.06" fill="#f7f8f9" stroke="none" stroke-width="0.8"/>
<rect x="607.6" y="230" width="9" height="97.3" fill="none" stroke="#222" stroke-width="0.8"/>
<line x1="607.6" y1="326.33" x2="616.6" y2="326.33" stroke="#222" stroke-width="0.7"/>
<line x1="607.6" y1="324.87" x2="616.6" y2="324.87" stroke="#222" stroke-width="0.7"/>
<line x1="607.6" y1="318.06" x2="616.6" y2="318.06" stroke="#222" stroke-width="0.7"/>
<line x1="607.6" y1="300.06" x2="616.6" y2="300.06" stroke="#222" stroke-width="0.7"/>
<rect x="630.3" y="326.33" width="9" height="0.97" fill="#474c53" stroke="none" stroke-width="0.8"/>
<rect x="630.3" y="317.57" width="9" height="8.76" fill="#6b7178" stroke="none" stroke-width="0.8"/>
<rect x="630.3" y="297.14" width="9" height="20.43" fill="#a4a9af" stroke="none" stroke-width="0.8"/>
<rect x="630.3" y="266.97" width="9" height="30.16" fill="#d8dbdf" stroke="none" stroke-width="0.8"/>
<rect x="630.3" y="230" width="9" height="36.97" fill="#f7f8f9" stroke="none" stroke-width="0.8"/>
<rect x="630.3" y="230" width="9" height="97.3" fill="none" stroke="#222" stroke-width="0.8"/>
<line x1="630.3" y1="326.33" x2="639.3" y2="326.33" stroke="#222" stroke-width="0.7"/>
<line x1="630.3" y1="317.57" x2="639.3" y2="317.57" stroke="#222" stroke-width="0.7"/>
<line x1="630.3" y1="297.14" x2="639.3" y2="297.14" stroke="#222" stroke-width="0.7"/>
<line x1="630.3" y1="266.97" x2="639.3" y2="266.97" stroke="#222" stroke-width="0.7"/>
<rect x="644.6" y="327.01" width="9" height="0.29" fill="#474c53" stroke="none" stroke-width="0.8"/>
<rect x="644.6" y="326.33" width="9" height="0.68" fill="#6b7178" stroke="none" stroke-width="0.8"/>
<rect x="644.6" y="325.35" width="9" height="0.97" fill="#a4a9af" stroke="none" stroke-width="0.8"/>
<rect x="644.6" y="322.44" width="9" height="2.92" fill="#d8dbdf" stroke="none" stroke-width="0.8"/>
<rect x="644.6" y="230" width="9" height="92.44" fill="#f7f8f9" stroke="none" stroke-width="0.8"/>
<rect x="644.6" y="230" width="9" height="97.3" fill="none" stroke="#222" stroke-width="0.8"/>
<line x1="644.6" y1="327.01" x2="653.6" y2="327.01" stroke="#222" stroke-width="0.7"/>
<line x1="644.6" y1="326.33" x2="653.6" y2="326.33" stroke="#222" stroke-width="0.7"/>
<line x1="644.6" y1="325.35" x2="653.6" y2="325.35" stroke="#222" stroke-width="0.7"/>
<line x1="644.6" y1="322.44" x2="653.6" y2="322.44" stroke="#222" stroke-width="0.7"/>
<line x1="523.8" y1="231.75" x2="523.8" y2="230.19" stroke="#333" stroke-width="0.7"/>
<line x1="521.6" y1="230.19" x2="526" y2="230.19" stroke="#333" stroke-width="0.7"/>
<line x1="521.6" y1="231.75" x2="526" y2="231.75" stroke="#333" stroke-width="0.7"/>
<line x1="523.8" y1="250.92" x2="523.8" y2="248" stroke="#333" stroke-width="0.7"/>
<line x1="521.6" y1="248" x2="526" y2="248" stroke="#333" stroke-width="0.7"/>
<line x1="521.6" y1="250.92" x2="526" y2="250.92" stroke="#333" stroke-width="0.7"/>
<line x1="523.8" y1="267.46" x2="523.8" y2="266.49" stroke="#333" stroke-width="0.7"/>
<line x1="521.6" y1="266.49" x2="526" y2="266.49" stroke="#333" stroke-width="0.7"/>
<line x1="521.6" y1="267.46" x2="526" y2="267.46" stroke="#333" stroke-width="0.7"/>
<line x1="523.8" y1="306.87" x2="523.8" y2="303.95" stroke="#333" stroke-width="0.7"/>
<line x1="521.6" y1="303.95" x2="526" y2="303.95" stroke="#333" stroke-width="0.7"/>
<line x1="521.6" y1="306.87" x2="526" y2="306.87" stroke="#333" stroke-width="0.7"/>
<line x1="523.8" y1="324.87" x2="523.8" y2="321.95" stroke="#333" stroke-width="0.7"/>
<line x1="521.6" y1="321.95" x2="526" y2="321.95" stroke="#333" stroke-width="0.7"/>
<line x1="521.6" y1="324.87" x2="526" y2="324.87" stroke="#333" stroke-width="0.7"/>
<line x1="537.8" y1="232.24" x2="537.8" y2="230.68" stroke="#333" stroke-width="0.7"/>
<line x1="535.6" y1="230.68" x2="540" y2="230.68" stroke="#333" stroke-width="0.7"/>
<line x1="535.6" y1="232.24" x2="540" y2="232.24" stroke="#333" stroke-width="0.7"/>
<line x1="537.8" y1="256.95" x2="537.8" y2="254.62" stroke="#333" stroke-width="0.7"/>
<line x1="535.6" y1="254.62" x2="540" y2="254.62" stroke="#333" stroke-width="0.7"/>
<line x1="535.6" y1="256.95" x2="540" y2="256.95" stroke="#333" stroke-width="0.7"/>
<line x1="537.8" y1="310.27" x2="537.8" y2="306.38" stroke="#333" stroke-width="0.7"/>
<line x1="535.6" y1="306.38" x2="540" y2="306.38" stroke="#333" stroke-width="0.7"/>
<line x1="535.6" y1="310.27" x2="540" y2="310.27" stroke="#333" stroke-width="0.7"/>
<line x1="560.8" y1="251.41" x2="560.8" y2="248.49" stroke="#333" stroke-width="0.7"/>
<line x1="558.6" y1="248.49" x2="563" y2="248.49" stroke="#333" stroke-width="0.7"/>
<line x1="558.6" y1="251.41" x2="563" y2="251.41" stroke="#333" stroke-width="0.7"/>
<line x1="560.8" y1="325.35" x2="560.8" y2="322.44" stroke="#333" stroke-width="0.7"/>
<line x1="558.6" y1="322.44" x2="563" y2="322.44" stroke="#333" stroke-width="0.7"/>
<line x1="558.6" y1="325.35" x2="563" y2="325.35" stroke="#333" stroke-width="0.7"/>
<line x1="575.1" y1="236.81" x2="575.1" y2="230.97" stroke="#333" stroke-width="0.7"/>
<line x1="572.9" y1="230.97" x2="577.3" y2="230.97" stroke="#333" stroke-width="0.7"/>
<line x1="572.9" y1="236.81" x2="577.3" y2="236.81" stroke="#333" stroke-width="0.7"/>
<line x1="575.1" y1="267.95" x2="575.1" y2="266" stroke="#333" stroke-width="0.7"/>
<line x1="572.9" y1="266" x2="577.3" y2="266" stroke="#333" stroke-width="0.7"/>
<line x1="572.9" y1="267.95" x2="577.3" y2="267.95" stroke="#333" stroke-width="0.7"/>
<line x1="575.1" y1="316.79" x2="575.1" y2="312.51" stroke="#333" stroke-width="0.7"/>
<line x1="572.9" y1="312.51" x2="577.3" y2="312.51" stroke="#333" stroke-width="0.7"/>
<line x1="572.9" y1="316.79" x2="577.3" y2="316.79" stroke="#333" stroke-width="0.7"/>
<line x1="597.8" y1="230.97" x2="597.8" y2="230" stroke="#333" stroke-width="0.7"/>
<line x1="595.6" y1="230" x2="600" y2="230" stroke="#333" stroke-width="0.7"/>
<line x1="595.6" y1="230.97" x2="600" y2="230.97" stroke="#333" stroke-width="0.7"/>
<line x1="597.8" y1="254.32" x2="597.8" y2="252.38" stroke="#333" stroke-width="0.7"/>
<line x1="595.6" y1="252.38" x2="600" y2="252.38" stroke="#333" stroke-width="0.7"/>
<line x1="595.6" y1="254.32" x2="600" y2="254.32" stroke="#333" stroke-width="0.7"/>
<line x1="597.8" y1="326.13" x2="597.8" y2="324.58" stroke="#333" stroke-width="0.7"/>
<line x1="595.6" y1="324.58" x2="600" y2="324.58" stroke="#333" stroke-width="0.7"/>
<line x1="595.6" y1="326.13" x2="600" y2="326.13" stroke="#333" stroke-width="0.7"/>
<line x1="612.1" y1="234.87" x2="612.1" y2="230.97" stroke="#333" stroke-width="0.7"/>
<line x1="609.9" y1="230.97" x2="614.3" y2="230.97" stroke="#333" stroke-width="0.7"/>
<line x1="609.9" y1="234.87" x2="614.3" y2="234.87" stroke="#333" stroke-width="0.7"/>
<line x1="612.1" y1="320.98" x2="612.1" y2="318.06" stroke="#333" stroke-width="0.7"/>
<line x1="609.9" y1="318.06" x2="614.3" y2="318.06" stroke="#333" stroke-width="0.7"/>
<line x1="609.9" y1="320.98" x2="614.3" y2="320.98" stroke="#333" stroke-width="0.7"/>
<line x1="634.8" y1="235.84" x2="634.8" y2="230" stroke="#333" stroke-width="0.7"/>
<line x1="632.6" y1="230" x2="637" y2="230" stroke="#333" stroke-width="0.7"/>
<line x1="632.6" y1="235.84" x2="637" y2="235.84" stroke="#333" stroke-width="0.7"/>
<line x1="634.8" y1="270.38" x2="634.8" y2="264.54" stroke="#333" stroke-width="0.7"/>
<line x1="632.6" y1="264.54" x2="637" y2="264.54" stroke="#333" stroke-width="0.7"/>
<line x1="632.6" y1="270.38" x2="637" y2="270.38" stroke="#333" stroke-width="0.7"/>
<line x1="634.8" y1="299.08" x2="634.8" y2="297.14" stroke="#333" stroke-width="0.7"/>
<line x1="632.6" y1="297.14" x2="637" y2="297.14" stroke="#333" stroke-width="0.7"/>
<line x1="632.6" y1="299.08" x2="637" y2="299.08" stroke="#333" stroke-width="0.7"/>
<path d="M523.8 283.71 L523.8 287.21 M525.32 284.59 L522.28 286.34 M525.32 286.34 L522.28 284.59 " fill="none" stroke="#111" stroke-width="1.05"/>
<circle cx="523.8" cy="285.46" r="1.05" fill="#111" stroke="none" stroke-width="0.8"/>
<path d="M560.8 231.64 L560.8 235.14 M562.32 232.52 L559.28 234.27 M562.32 234.27 L559.28 232.52 " fill="none" stroke="#111" stroke-width="1.05"/>
<circle cx="560.8" cy="233.39" r="1.05" fill="#111" stroke="none" stroke-width="0.8"/>
<path d="M560.8 235.54 L560.8 239.04 M562.32 236.42 L559.28 238.17 M562.32 238.17 L559.28 236.42 " fill="none" stroke="#111" stroke-width="1.05"/>
<circle cx="560.8" cy="237.29" r="1.05" fill="#111" stroke="none" stroke-width="0.8"/>
<path d="M560.8 239.44 L560.8 242.94 M562.32 240.32 L559.28 242.07 M562.32 242.07 L559.28 240.32 " fill="none" stroke="#111" stroke-width="1.05"/>
<circle cx="560.8" cy="241.19" r="1.05" fill="#111" stroke="none" stroke-width="0.8"/>
<path d="M560.8 243.34 L560.8 246.84 M562.32 244.22 L559.28 245.97 M562.32 245.97 L559.28 244.22 " fill="none" stroke="#111" stroke-width="1.05"/>
<circle cx="560.8" cy="245.09" r="1.05" fill="#111" stroke="none" stroke-width="0.8"/>
<path d="M560.8 282.73 L560.8 286.23 M562.32 283.61 L559.28 285.36 M562.32 285.36 L559.28 283.61 " fill="none" stroke="#111" stroke-width="1.05"/>
<circle cx="560.8" cy="284.48" r="1.05" fill="#111" stroke="none" stroke-width="0.8"/>
<path d="M560.8 286.63 L560.8 290.13 M562.32 287.5 L559.28 289.25 M562.32 289.25 L559.28 287.5 " fill="none" stroke="#111" stroke-width="1.05"/>
<circle cx="560.8" cy="288.38" r="1.05" fill="#111" stroke="none" stroke-width="0.8"/>
<path d="M560.8 290.53 L560.8 294.03 M562.32 291.4 L559.28 293.15 M562.32 293.15 L559.28 291.4 " fill="none" stroke="#111" stroke-width="1.05"/>
<circle cx="560.8" cy="292.28" r="1.05" fill="#111" stroke="none" stroke-width="0.8"/>
<path d="M597.8 233.59 L597.8 237.09 M599.32 234.46 L596.28 236.21 M599.32 236.21 L596.28 234.46 " fill="none" stroke="#111" stroke-width="1.05"/>
<circle cx="597.8" cy="235.34" r="1.05" fill="#111" stroke="none" stroke-width="0.8"/>
<path d="M597.8 237.49 L597.8 240.99 M599.32 238.36 L596.28 240.11 M599.32 240.11 L596.28 238.36 " fill="none" stroke="#111" stroke-width="1.05"/>
<circle cx="597.8" cy="239.24" r="1.05" fill="#111" stroke="none" stroke-width="0.8"/>
<path d="M597.8 241.39 L597.8 244.89 M599.32 242.26 L596.28 244.01 M599.32 244.01 L596.28 242.26 " fill="none" stroke="#111" stroke-width="1.05"/>
<circle cx="597.8" cy="243.14" r="1.05" fill="#111" stroke="none" stroke-width="0.8"/>
<path d="M597.8 245.29 L597.8 248.79 M599.32 246.16 L596.28 247.91 M599.32 247.91 L596.28 246.16 " fill="none" stroke="#111" stroke-width="1.05"/>
<circle cx="597.8" cy="247.04" r="1.05" fill="#111" stroke="none" stroke-width="0.8"/>
<path d="M597.8 285.64 L597.8 289.14 M599.32 286.52 L596.28 288.27 M599.32 288.27 L596.28 286.52 " fill="none" stroke="#111" stroke-width="1.05"/>
<circle cx="597.8" cy="287.39" r="1.05" fill="#111" stroke="none" stroke-width="0.8"/>
<path d="M597.8 289.55 L597.8 293.05 M599.32 290.42 L596.28 292.17 M599.32 292.17 L596.28 290.42 " fill="none" stroke="#111" stroke-width="1.05"/>
<circle cx="597.8" cy="291.3" r="1.05" fill="#111" stroke="none" stroke-width="0.8"/>
<path d="M597.8 293.44 L597.8 296.94 M599.32 294.32 L596.28 296.07 M599.32 296.07 L596.28 294.32 " fill="none" stroke="#111" stroke-width="1.05"/>
<circle cx="597.8" cy="295.19" r="1.05" fill="#111" stroke="none" stroke-width="0.8"/>
<path d="M597.8 297.35 L597.8 300.85 M599.32 298.22 L596.28 299.97 M599.32 299.97 L596.28 298.22 " fill="none" stroke="#111" stroke-width="1.05"/>
<circle cx="597.8" cy="299.1" r="1.05" fill="#111" stroke="none" stroke-width="0.8"/>
<path d="M634.8 239.91 L634.8 243.41 M636.32 240.79 L633.28 242.54 M636.32 242.54 L633.28 240.79 " fill="none" stroke="#111" stroke-width="1.05"/>
<circle cx="634.8" cy="241.66" r="1.05" fill="#111" stroke="none" stroke-width="0.8"/>
<path d="M634.8 243.81 L634.8 247.31 M636.32 244.69 L633.28 246.44 M636.32 246.44 L633.28 244.69 " fill="none" stroke="#111" stroke-width="1.05"/>
<circle cx="634.8" cy="245.56" r="1.05" fill="#111" stroke="none" stroke-width="0.8"/>
<path d="M634.8 247.71 L634.8 251.21 M636.32 248.59 L633.28 250.34 M636.32 250.34 L633.28 248.59 " fill="none" stroke="#111" stroke-width="1.05"/>
<circle cx="634.8" cy="249.46" r="1.05" fill="#111" stroke="none" stroke-width="0.8"/>
<path d="M634.8 251.61 L634.8 255.11 M636.32 252.49 L633.28 254.24 M636.32 254.24 L633.28 252.49 " fill="none" stroke="#111" stroke-width="1.05"/>
<circle cx="634.8" cy="253.36" r="1.05" fill="#111" stroke="none" stroke-width="0.8"/>
<path d="M634.8 274.94 L634.8 278.44 M636.32 275.82 L633.28 277.57 M636.32 277.57 L633.28 275.82 " fill="none" stroke="#111" stroke-width="1.05"/>
<circle cx="634.8" cy="276.69" r="1.05" fill="#111" stroke="none" stroke-width="0.8"/>
<path d="M634.8 278.84 L634.8 282.34 M636.32 279.72 L633.28 281.47 M636.32 281.47 L633.28 279.72 " fill="none" stroke="#111" stroke-width="1.05"/>
<circle cx="634.8" cy="280.59" r="1.05" fill="#111" stroke="none" stroke-width="0.8"/>
<path d="M634.8 282.74 L634.8 286.24 M636.32 283.62 L633.28 285.37 M636.32 285.37 L633.28 283.62 " fill="none" stroke="#111" stroke-width="1.05"/>
<circle cx="634.8" cy="284.49" r="1.05" fill="#111" stroke="none" stroke-width="0.8"/>
<path d="M634.8 286.64 L634.8 290.14 M636.32 287.52 L633.28 289.27 M636.32 289.27 L633.28 287.52 " fill="none" stroke="#111" stroke-width="1.05"/>
<circle cx="634.8" cy="288.39" r="1.05" fill="#111" stroke="none" stroke-width="0.8"/>
<path d="M634.8 302.19 L634.8 305.69 M636.32 303.06 L633.28 304.81 M636.32 304.81 L633.28 303.06 " fill="none" stroke="#111" stroke-width="1.05"/>
<circle cx="634.8" cy="303.94" r="1.05" fill="#111" stroke="none" stroke-width="0.8"/>
<path d="M634.8 306.09 L634.8 309.59 M636.32 306.96 L633.28 308.71 M636.32 308.71 L633.28 306.96 " fill="none" stroke="#111" stroke-width="1.05"/>
<circle cx="634.8" cy="307.84" r="1.05" fill="#111" stroke="none" stroke-width="0.8"/>
<path d="M634.8 309.99 L634.8 313.49 M636.32 310.86 L633.28 312.61 M636.32 312.61 L633.28 310.86 " fill="none" stroke="#111" stroke-width="1.05"/>
<circle cx="634.8" cy="311.74" r="1.05" fill="#111" stroke="none" stroke-width="0.8"/>
<path d="M634.8 313.89 L634.8 317.39 M636.32 314.76 L633.28 316.51 M636.32 316.51 L633.28 314.76 " fill="none" stroke="#111" stroke-width="1.05"/>
<circle cx="634.8" cy="315.64" r="1.05" fill="#111" stroke="none" stroke-width="0.8"/>
<line x1="515" y1="230" x2="515" y2="327.3" stroke="#222" stroke-width="0.8"/>
<line x1="515" y1="327.3" x2="658" y2="327.3" stroke="#222" stroke-width="0.8"/>
<line x1="512.5" y1="327.3" x2="515" y2="327.3" stroke="#222" stroke-width="0.8"/>
<text x="511.5" y="329.9" font-size="7.4" text-anchor="end" fill="#111" stroke="#111" stroke-width="0.12">0</text>
<line x1="512.5" y1="307.84" x2="515" y2="307.84" stroke="#222" stroke-width="0.8"/>
<text x="511.5" y="310.44" font-size="7.4" text-anchor="end" fill="#111" stroke="#111" stroke-width="0.12">20</text>
<line x1="512.5" y1="288.38" x2="515" y2="288.38" stroke="#222" stroke-width="0.8"/>
<text x="511.5" y="290.98" font-size="7.4" text-anchor="end" fill="#111" stroke="#111" stroke-width="0.12">40</text>
<line x1="512.5" y1="268.92" x2="515" y2="268.92" stroke="#222" stroke-width="0.8"/>
<text x="511.5" y="271.52" font-size="7.4" text-anchor="end" fill="#111" stroke="#111" stroke-width="0.12">60</text>
<line x1="512.5" y1="249.46" x2="515" y2="249.46" stroke="#222" stroke-width="0.8"/>
<text x="511.5" y="252.06" font-size="7.4" text-anchor="end" fill="#111" stroke="#111" stroke-width="0.12">80</text>
<line x1="512.5" y1="230" x2="515" y2="230" stroke="#222" stroke-width="0.8"/>
<text x="511.5" y="232.6" font-size="7.4" text-anchor="end" fill="#111" stroke="#111" stroke-width="0.12">100</text>
<text x="494.4" y="279" font-size="8.6" text-anchor="middle" fill="#111" transform="rotate(-90 494.4 279)" stroke="#111" stroke-width="0.12">CD3<tspan font-size="5" dy="-3">+</tspan><tspan dy="3">CD8</tspan><tspan font-size="5" dy="-3">+</tspan><tspan dy="3"> cells (%)</tspan></text>
<text x="581" y="209.3" font-size="7.4" text-anchor="middle" fill="#111" stroke="#111" stroke-width="0.12">Peptide (&#956;M)</text>
<text x="530.7" y="222.2" font-size="7.2" text-anchor="middle" fill="#111" stroke="#111" stroke-width="0.12">0.1</text>
<text x="568.3" y="222.2" font-size="7.2" text-anchor="middle" fill="#111" stroke="#111" stroke-width="0.12">0.01</text>
<text x="604.4" y="222.2" font-size="7.2" text-anchor="middle" fill="#111" stroke="#111" stroke-width="0.12">0.001</text>
<text x="641.4" y="222.2" font-size="7.2" text-anchor="middle" fill="#111" stroke="#111" stroke-width="0.12">0.0001</text>
<text x="663.3" y="231.5" font-size="8" text-anchor="start" fill="#111" stroke="#111" stroke-width="0.12">n&#176;</text>
<rect x="663.3" y="236.5" width="6.6" height="6.4" fill="#474c53" stroke="#333" stroke-width="0.6"/>
<text x="674.5" y="242.3" font-size="7.4" text-anchor="start" fill="#111" stroke="#111" stroke-width="0.12">4</text>
<rect x="663.3" y="249.7" width="6.6" height="6.4" fill="#6b7178" stroke="#333" stroke-width="0.6"/>
<text x="674.5" y="255.5" font-size="7.4" text-anchor="start" fill="#111" stroke="#111" stroke-width="0.12">3</text>
<rect x="663.3" y="262.9" width="6.6" height="6.4" fill="#a4a9af" stroke="#333" stroke-width="0.6"/>
<text x="674.5" y="268.7" font-size="7.4" text-anchor="start" fill="#111" stroke="#111" stroke-width="0.12">2</text>
<rect x="663.3" y="276.1" width="6.6" height="6.4" fill="#d8dbdf" stroke="#333" stroke-width="0.6"/>
<text x="674.5" y="281.9" font-size="7.4" text-anchor="start" fill="#111" stroke="#111" stroke-width="0.12">1</text>
<rect x="663.3" y="289.3" width="6.6" height="6.4" fill="#f7f8f9" stroke="#333" stroke-width="0.6"/>
<text x="674.5" y="295.1" font-size="7.4" text-anchor="start" fill="#111" stroke="#111" stroke-width="0.12">0</text>
<text x="526.4" y="334.1" font-size="7.7" text-anchor="end" fill="#111" transform="rotate(-45 526.4 334.1)" stroke="#111" stroke-width="0.12">TCR<tspan dy="2.31" font-size="4.62">KO</tspan><tspan dy="-2.31"> +DKK1 TCR</tspan></text>
<text x="540.4" y="334.1" font-size="7.7" text-anchor="end" fill="#111" transform="rotate(-45 540.4 334.1)" stroke="#111" stroke-width="0.12">TCR<tspan dy="2.31" font-size="4.62">KO</tspan><tspan dy="-2.31"> +MSLN TCR</tspan></text>
<text x="563.4" y="334.1" font-size="7.7" text-anchor="end" fill="#111" transform="rotate(-45 563.4 334.1)" stroke="#111" stroke-width="0.12">TCR<tspan dy="2.31" font-size="4.62">KO</tspan><tspan dy="-2.31"> +DKK1 TCR</tspan></text>
<text x="577.7" y="334.1" font-size="7.7" text-anchor="end" fill="#111" transform="rotate(-45 577.7 334.1)" stroke="#111" stroke-width="0.12">TCR<tspan dy="2.31" font-size="4.62">KO</tspan><tspan dy="-2.31"> +MSLN TCR</tspan></text>
<text x="600.4" y="334.1" font-size="7.7" text-anchor="end" fill="#111" transform="rotate(-45 600.4 334.1)" stroke="#111" stroke-width="0.12">TCR<tspan dy="2.31" font-size="4.62">KO</tspan><tspan dy="-2.31"> +DKK1 TCR</tspan></text>
<text x="614.7" y="334.1" font-size="7.7" text-anchor="end" fill="#111" transform="rotate(-45 614.7 334.1)" stroke="#111" stroke-width="0.12">TCR<tspan dy="2.31" font-size="4.62">KO</tspan><tspan dy="-2.31"> +MSLN TCR</tspan></text>
<text x="637.4" y="334.1" font-size="7.7" text-anchor="end" fill="#111" transform="rotate(-45 637.4 334.1)" stroke="#111" stroke-width="0.12">TCR<tspan dy="2.31" font-size="4.62">KO</tspan><tspan dy="-2.31"> +DKK1 TCR</tspan></text>
<text x="651.7" y="334.1" font-size="7.7" text-anchor="end" fill="#111" transform="rotate(-45 651.7 334.1)" stroke="#111" stroke-width="0.12">TCR<tspan dy="2.31" font-size="4.62">KO</tspan><tspan dy="-2.31"> +MSLN TCR</tspan></text>
<text x="3.2" y="410" font-size="14.5" text-anchor="start" fill="#000" stroke="#000" stroke-width="0.12">E</text>
<line x1="19" y1="405.3" x2="51.8" y2="405.3" stroke="#333" stroke-width="0.8"/>
<text x="55.5" y="407.6" font-size="9.34" text-anchor="start" fill="#111" stroke="#111" stroke-width="0.12">Endogenous TCR and TIGIT disruption</text>
<line x1="220.2" y1="405.3" x2="254" y2="405.3" stroke="#333" stroke-width="0.8"/>
<text x="69.3" y="424.3" font-size="9.28" text-anchor="middle" fill="#111" stroke="#111" stroke-width="0.12">Base conversion</text>
<text x="216.5" y="424.3" font-size="9.07" text-anchor="middle" fill="#111" stroke="#111" stroke-width="0.12">Protein loss</text>
<line x1="37.2" y1="449.4" x2="37.2" y2="544.4" stroke="#222" stroke-width="0.8"/>
<line x1="37.2" y1="544.4" x2="101.6" y2="544.4" stroke="#222" stroke-width="0.8"/>
<line x1="34.7" y1="544.4" x2="37.2" y2="544.4" stroke="#222" stroke-width="0.8"/>
<text x="33.7" y="547" font-size="7.4" text-anchor="end" fill="#111" stroke="#111" stroke-width="0.12">0</text>
<line x1="34.7" y1="525.4" x2="37.2" y2="525.4" stroke="#222" stroke-width="0.8"/>
<text x="33.7" y="528" font-size="7.4" text-anchor="end" fill="#111" stroke="#111" stroke-width="0.12">20</text>
<line x1="34.7" y1="506.4" x2="37.2" y2="506.4" stroke="#222" stroke-width="0.8"/>
<text x="33.7" y="509" font-size="7.4" text-anchor="end" fill="#111" stroke="#111" stroke-width="0.12">40</text>
<line x1="34.7" y1="487.4" x2="37.2" y2="487.4" stroke="#222" stroke-width="0.8"/>
<text x="33.7" y="490" font-size="7.4" text-anchor="end" fill="#111" stroke="#111" stroke-width="0.12">60</text>
<line x1="34.7" y1="468.4" x2="37.2" y2="468.4" stroke="#222" stroke-width="0.8"/>
<text x="33.7" y="471" font-size="7.4" text-anchor="end" fill="#111" stroke="#111" stroke-width="0.12">80</text>
<line x1="34.7" y1="449.4" x2="37.2" y2="449.4" stroke="#222" stroke-width="0.8"/>
<text x="33.7" y="452" font-size="7.4" text-anchor="end" fill="#111" stroke="#111" stroke-width="0.12">100</text>
<text x="13.7" y="496.9" font-size="7.8" text-anchor="middle" fill="#111" stroke="#111" stroke-width="0.12" transform="rotate(-90 13.7 496.9)" dy="2.6">Editing (%)</text>
<rect x="43.3" y="452.25" width="9" height="92.15" fill="#d6a9d8" stroke="#bf86c4" stroke-width="0.8"/>
<line x1="47.8" y1="454.15" x2="47.8" y2="450.35" stroke="#bf86c4" stroke-width="0.8"/>
<line x1="45.5" y1="450.35" x2="50.1" y2="450.35" stroke="#bf86c4" stroke-width="0.8"/>
<circle cx="47.8" cy="449.4" r="2.2" fill="#b77bc0" stroke="none" stroke-width="0.8"/>
<circle cx="44.8" cy="449.4" r="2.2" fill="#b77bc0" stroke="none" stroke-width="0.8"/>
<circle cx="50.8" cy="449.4" r="2.2" fill="#b77bc0" stroke="none" stroke-width="0.8"/>
<circle cx="45.8" cy="449.4" r="2.2" fill="#b77bc0" stroke="none" stroke-width="0.8"/>
<circle cx="49.8" cy="449.4" r="2.2" fill="#b77bc0" stroke="none" stroke-width="0.8"/>
<circle cx="48.8" cy="454.15" r="2.2" fill="#b77bc0" stroke="none" stroke-width="0.8"/>
<circle cx="46.8" cy="456.05" r="2.2" fill="#b77bc0" stroke="none" stroke-width="0.8"/>
<circle cx="47.8" cy="459.85" r="2.2" fill="#b77bc0" stroke="none" stroke-width="0.8"/>
<rect x="58" y="486.45" width="9" height="57.95" fill="#f9bf93" stroke="#f2995c" stroke-width="0.8"/>
<line x1="62.5" y1="489.77" x2="62.5" y2="483.12" stroke="#f2995c" stroke-width="0.8"/>
<line x1="60.2" y1="483.12" x2="64.8" y2="483.12" stroke="#f2995c" stroke-width="0.8"/>
<circle cx="62.5" cy="467.45" r="2.2" fill="#f08a45" stroke="none" stroke-width="0.8"/>
<circle cx="60" cy="481.7" r="2.2" fill="#f08a45" stroke="none" stroke-width="0.8"/>
<circle cx="65" cy="483.6" r="2.2" fill="#f08a45" stroke="none" stroke-width="0.8"/>
<circle cx="61.5" cy="487.4" r="2.2" fill="#f08a45" stroke="none" stroke-width="0.8"/>
<circle cx="64" cy="489.3" r="2.2" fill="#f08a45" stroke="none" stroke-width="0.8"/>
<circle cx="62.5" cy="500.7" r="2.2" fill="#f08a45" stroke="none" stroke-width="0.8"/>
<rect x="73" y="499.75" width="9" height="44.65" fill="#f6dc9e" stroke="#efc76b" stroke-width="0.8"/>
<line x1="77.5" y1="503.07" x2="77.5" y2="496.42" stroke="#efc76b" stroke-width="0.8"/>
<line x1="75.2" y1="496.42" x2="79.8" y2="496.42" stroke="#efc76b" stroke-width="0.8"/>
<circle cx="75.5" cy="490.25" r="2.2" fill="#efc25a" stroke="none" stroke-width="0.8"/>
<circle cx="80" cy="493.1" r="2.2" fill="#efc25a" stroke="none" stroke-width="0.8"/>
<circle cx="77.5" cy="495" r="2.2" fill="#efc25a" stroke="none" stroke-width="0.8"/>
<circle cx="76" cy="503.55" r="2.2" fill="#efc25a" stroke="none" stroke-width="0.8"/>
<circle cx="77.5" cy="511.15" r="2.2" fill="#efc25a" stroke="none" stroke-width="0.8"/>
<rect x="87.9" y="467.45" width="9" height="76.95" fill="#d9d85e" stroke="#c7c530" stroke-width="0.8"/>
<line x1="92.4" y1="470.3" x2="92.4" y2="464.6" stroke="#c7c530" stroke-width="0.8"/>
<line x1="90.1" y1="464.6" x2="94.7" y2="464.6" stroke="#c7c530" stroke-width="0.8"/>
<circle cx="92.4" cy="449.4" r="2.2" fill="#c3c12a" stroke="none" stroke-width="0.8"/>
<circle cx="92.4" cy="461.75" r="2.2" fill="#c3c12a" stroke="none" stroke-width="0.8"/>
<circle cx="94.9" cy="466.5" r="2.2" fill="#c3c12a" stroke="none" stroke-width="0.8"/>
<circle cx="89.9" cy="468.4" r="2.2" fill="#c3c12a" stroke="none" stroke-width="0.8"/>
<circle cx="93.9" cy="473.15" r="2.2" fill="#c3c12a" stroke="none" stroke-width="0.8"/>
<circle cx="92.4" cy="481.7" r="2.2" fill="#c3c12a" stroke="none" stroke-width="0.8"/>
<line x1="37.2" y1="544.4" x2="101.6" y2="544.4" stroke="#222" stroke-width="0.8"/>
<text x="106.3" y="452.3" font-size="8.1" text-anchor="start" fill="#b77bc0" stroke="#b77bc0" stroke-width="0.12">TRAC</text>
<text x="106.3" y="460.55" font-size="8.1" text-anchor="start" fill="#f39456" stroke="#f39456" stroke-width="0.12">TRBC1</text>
<text x="106.3" y="468.8" font-size="8.1" text-anchor="start" fill="#efc86a" stroke="#efc86a" stroke-width="0.12">TRBC2</text>
<text x="106.3" y="477.05" font-size="8.1" text-anchor="start" fill="#c2c02b" stroke="#c2c02b" stroke-width="0.12">TIGIT</text>
<line x1="181.7" y1="449.4" x2="181.7" y2="544.4" stroke="#222" stroke-width="0.8"/>
<line x1="181.7" y1="544.4" x2="254" y2="544.4" stroke="#222" stroke-width="0.8"/>
<line x1="179.2" y1="544.4" x2="181.7" y2="544.4" stroke="#222" stroke-width="0.8"/>
<text x="178.2" y="547" font-size="7.4" text-anchor="end" fill="#111" stroke="#111" stroke-width="0.12">0</text>
<line x1="179.2" y1="525.4" x2="181.7" y2="525.4" stroke="#222" stroke-width="0.8"/>
<text x="178.2" y="528" font-size="7.4" text-anchor="end" fill="#111" stroke="#111" stroke-width="0.12">20</text>
<line x1="179.2" y1="506.4" x2="181.7" y2="506.4" stroke="#222" stroke-width="0.8"/>
<text x="178.2" y="509" font-size="7.4" text-anchor="end" fill="#111" stroke="#111" stroke-width="0.12">40</text>
<line x1="179.2" y1="487.4" x2="181.7" y2="487.4" stroke="#222" stroke-width="0.8"/>
<text x="178.2" y="490" font-size="7.4" text-anchor="end" fill="#111" stroke="#111" stroke-width="0.12">60</text>
<line x1="179.2" y1="468.4" x2="181.7" y2="468.4" stroke="#222" stroke-width="0.8"/>
<text x="178.2" y="471" font-size="7.4" text-anchor="end" fill="#111" stroke="#111" stroke-width="0.12">80</text>
<line x1="179.2" y1="449.4" x2="181.7" y2="449.4" stroke="#222" stroke-width="0.8"/>
<text x="178.2" y="452" font-size="7.4" text-anchor="end" fill="#111" stroke="#111" stroke-width="0.12">100</text>
<text x="158.4" y="497.38" font-size="7.65" text-anchor="middle" fill="#111" stroke="#111" stroke-width="0.12" transform="rotate(-90 158.4 497.38)" dy="2.6">Protein expression (%)</text>
<rect x="187.6" y="449.4" width="8.8" height="95" fill="#fff" stroke="#c283c6" stroke-width="0.9"/>
<circle cx="190.2" cy="449.4" r="2.2" fill="none" stroke="#c283c6" stroke-width="0.8"/>
<circle cx="192" cy="449.4" r="2.2" fill="none" stroke="#c283c6" stroke-width="0.8"/>
<circle cx="193.8" cy="449.4" r="2.2" fill="none" stroke="#c283c6" stroke-width="0.8"/>
<rect x="202.1" y="541.55" width="9" height="2.85" fill="#c283c6" stroke="#c283c6" stroke-width="0.8"/>
<circle cx="204.1" cy="543.45" r="2.1" fill="#c283c6" stroke="none" stroke-width="0.8"/>
<circle cx="206.6" cy="539.65" r="2.1" fill="#c283c6" stroke="none" stroke-width="0.8"/>
<circle cx="209.1" cy="542.5" r="2.1" fill="#c283c6" stroke="none" stroke-width="0.8"/>
<circle cx="205.6" cy="544.88" r="2.1" fill="#c283c6" stroke="none" stroke-width="0.8"/>
<circle cx="208.1" cy="538.7" r="2.1" fill="#c283c6" stroke="none" stroke-width="0.8"/>
<circle cx="210.1" cy="543.45" r="2.1" fill="#c283c6" stroke="none" stroke-width="0.8"/>
<circle cx="203.6" cy="540.6" r="2.1" fill="#c283c6" stroke="none" stroke-width="0.8"/>
<circle cx="207.6" cy="544.4" r="2.1" fill="#c283c6" stroke="none" stroke-width="0.8"/>
<rect x="224.5" y="515.9" width="9" height="28.5" fill="#fff" stroke="#c9c62c" stroke-width="0.9"/>
<line x1="229" y1="520.65" x2="229" y2="512.1" stroke="#c9c62c" stroke-width="0.8"/>
<line x1="227" y1="512.1" x2="231" y2="512.1" stroke="#c9c62c" stroke-width="0.8"/>
<circle cx="229" cy="500.7" r="2.3" fill="none" stroke="#c9c62c" stroke-width="0.9"/>
<circle cx="229" cy="506.4" r="2.3" fill="none" stroke="#c9c62c" stroke-width="0.9"/>
<circle cx="227" cy="517.8" r="2.3" fill="none" stroke="#c9c62c" stroke-width="0.9"/>
<circle cx="231" cy="515.9" r="2.3" fill="none" stroke="#c9c62c" stroke-width="0.9"/>
<circle cx="229" cy="524.45" r="2.3" fill="none" stroke="#c9c62c" stroke-width="0.9"/>
<circle cx="229" cy="533" r="2.3" fill="none" stroke="#c9c62c" stroke-width="0.9"/>
<rect x="239.5" y="536.32" width="9" height="8.08" fill="#fff" stroke="#c9c62c" stroke-width="0.9"/>
<circle cx="244" cy="524.45" r="2" fill="#c9c62c" stroke="none" stroke-width="0.8"/>
<circle cx="243" cy="532.05" r="2" fill="#c9c62c" stroke="none" stroke-width="0.8"/>
<circle cx="246" cy="535.85" r="2" fill="#c9c62c" stroke="none" stroke-width="0.8"/>
<circle cx="241.5" cy="537.75" r="2" fill="#c9c62c" stroke="none" stroke-width="0.8"/>
<circle cx="245" cy="539.65" r="2" fill="#c9c62c" stroke="none" stroke-width="0.8"/>
<circle cx="243" cy="543.45" r="2" fill="#c9c62c" stroke="none" stroke-width="0.8"/>
<circle cx="246.5" cy="541.55" r="2" fill="#c9c62c" stroke="none" stroke-width="0.8"/>
<line x1="181.7" y1="544.4" x2="254" y2="544.4" stroke="#222" stroke-width="0.8"/>
<path d="M192.1 444.3 L192.1 438.3 L206.7 438.3 L206.7 538.8" fill="none" stroke="#222" stroke-width="0.85"/>
<path d="M193.62 432.95 L193.62 436.45 M195.14 433.82 L192.11 435.57 M195.14 435.57 L192.11 433.82 " fill="none" stroke="#111" stroke-width="1.05"/>
<circle cx="193.62" cy="434.7" r="1.05" fill="#111" stroke="none" stroke-width="0.8"/>
<path d="M197.47 432.95 L197.47 436.45 M198.99 433.82 L195.96 435.57 M198.99 435.57 L195.96 433.82 " fill="none" stroke="#111" stroke-width="1.05"/>
<circle cx="197.47" cy="434.7" r="1.05" fill="#111" stroke="none" stroke-width="0.8"/>
<path d="M201.32 432.95 L201.32 436.45 M202.84 433.82 L199.81 435.57 M202.84 435.57 L199.81 433.82 " fill="none" stroke="#111" stroke-width="1.05"/>
<circle cx="201.32" cy="434.7" r="1.05" fill="#111" stroke="none" stroke-width="0.8"/>
<path d="M205.17 432.95 L205.17 436.45 M206.69 433.82 L203.66 435.57 M206.69 435.57 L203.66 433.82 " fill="none" stroke="#111" stroke-width="1.05"/>
<circle cx="205.17" cy="434.7" r="1.05" fill="#111" stroke="none" stroke-width="0.8"/>
<path d="M229 492.4 L229 486 L244 486 L244 531.7" fill="none" stroke="#222" stroke-width="0.85"/>
<path d="M232.65 480.65 L232.65 484.15 M234.17 481.52 L231.13 483.27 M234.17 483.27 L231.13 481.52 " fill="none" stroke="#111" stroke-width="1.05"/>
<circle cx="232.65" cy="482.4" r="1.05" fill="#111" stroke="none" stroke-width="0.8"/>
<path d="M236.5 480.65 L236.5 484.15 M238.02 481.52 L234.98 483.27 M238.02 483.27 L234.98 481.52 " fill="none" stroke="#111" stroke-width="1.05"/>
<circle cx="236.5" cy="482.4" r="1.05" fill="#111" stroke="none" stroke-width="0.8"/>
<path d="M240.35 480.65 L240.35 484.15 M241.87 481.52 L238.83 483.27 M241.87 483.27 L238.83 481.52 " fill="none" stroke="#111" stroke-width="1.05"/>
<circle cx="240.35" cy="482.4" r="1.05" fill="#111" stroke="none" stroke-width="0.8"/>
<text x="233.3" y="451.2" font-size="8.1" text-anchor="start" fill="#c07fc5" stroke="#c07fc5" stroke-width="0.12">CD3</text>
<text x="233.3" y="460.3" font-size="8.1" text-anchor="start" fill="#c2c02b" stroke="#c2c02b" stroke-width="0.12">TIGIT</text>
<text x="193" y="552.4" font-size="7.4" text-anchor="end" fill="#111" stroke="#111" stroke-width="0.12" transform="rotate(-45 193 552.4)">UT</text>
<text x="207.5" y="552.4" font-size="7.4" text-anchor="end" fill="#111" stroke="#111" stroke-width="0.12" transform="rotate(-45 207.5 552.4)">Edited</text>
<text x="230" y="552.4" font-size="7.4" text-anchor="end" fill="#111" stroke="#111" stroke-width="0.12" transform="rotate(-45 230 552.4)">UT</text>
<text x="245" y="552.4" font-size="7.4" text-anchor="end" fill="#111" stroke="#111" stroke-width="0.12" transform="rotate(-45 245 552.4)">Edited</text>
<text x="1.7" y="589.6" font-size="14.5" text-anchor="start" fill="#000" stroke="#000" stroke-width="0.12">F</text>
<line x1="37.2" y1="600" x2="37.2" y2="695.3" stroke="#222" stroke-width="0.8"/>
<line x1="37.2" y1="695.3" x2="112.8" y2="695.3" stroke="#222" stroke-width="0.8"/>
<line x1="34.7" y1="695.3" x2="37.2" y2="695.3" stroke="#222" stroke-width="0.8"/>
<text x="34" y="698.1" font-size="7.9" text-anchor="end" fill="#111" stroke="#111" stroke-width="0.12">0</text>
<line x1="34.7" y1="671.47" x2="37.2" y2="671.47" stroke="#222" stroke-width="0.8"/>
<text x="34" y="674.27" font-size="7.9" text-anchor="end" fill="#111" stroke="#111" stroke-width="0.12">20</text>
<line x1="34.7" y1="647.65" x2="37.2" y2="647.65" stroke="#222" stroke-width="0.8"/>
<text x="34" y="650.45" font-size="7.9" text-anchor="end" fill="#111" stroke="#111" stroke-width="0.12">40</text>
<line x1="34.7" y1="623.83" x2="37.2" y2="623.83" stroke="#222" stroke-width="0.8"/>
<text x="34" y="626.62" font-size="7.9" text-anchor="end" fill="#111" stroke="#111" stroke-width="0.12">60</text>
<line x1="34.7" y1="600" x2="37.2" y2="600" stroke="#222" stroke-width="0.8"/>
<text x="34" y="602.8" font-size="7.9" text-anchor="end" fill="#111" stroke="#111" stroke-width="0.12">80</text>
<line x1="44.9" y1="695.3" x2="44.9" y2="697.8" stroke="#222" stroke-width="0.8"/>
<text x="44.9" y="706.8" font-size="7.6" text-anchor="middle" fill="#111" stroke="#111" stroke-width="0.12">2</text>
<line x1="60.9" y1="695.3" x2="60.9" y2="697.8" stroke="#222" stroke-width="0.8"/>
<text x="60.9" y="706.8" font-size="7.6" text-anchor="middle" fill="#111" stroke="#111" stroke-width="0.12">6</text>
<line x1="74.9" y1="695.3" x2="74.9" y2="697.8" stroke="#222" stroke-width="0.8"/>
<text x="74.9" y="706.8" font-size="7.6" text-anchor="middle" fill="#111" stroke="#111" stroke-width="0.12">10</text>
<line x1="91.5" y1="695.3" x2="91.5" y2="697.8" stroke="#222" stroke-width="0.8"/>
<text x="91.5" y="706.8" font-size="7.6" text-anchor="middle" fill="#111" stroke="#111" stroke-width="0.12">13</text>
<line x1="105.1" y1="695.3" x2="105.1" y2="697.8" stroke="#222" stroke-width="0.8"/>
<text x="105.1" y="706.8" font-size="7.6" text-anchor="middle" fill="#111" stroke="#111" stroke-width="0.12">17</text>
<text x="74.4" y="715" font-size="7.64" text-anchor="middle" fill="#111" stroke="#111" stroke-width="0.12">Days from T cell stimulation</text>
<text x="15.2" y="645.86" font-size="8.3" text-anchor="middle" fill="#111" stroke="#111" stroke-width="0.12" transform="rotate(-90 15.2 645.86)" dy="2.8">Expansion (Fold Increase)</text>
<path d="M44.9 694.35 L60.9 694.35 L74.9 691.13 L91.5 675.05 L105.1 609.53 L105.1 650.03 L91.5 685.77 L74.9 692.32 L60.9 694.94 L44.9 694.94 Z" fill="#d69bd8" stroke="none" stroke-width="0" fill-opacity="0.85"/>
<path d="M44.9 694.35 L60.9 694.35 L74.9 690.53 L91.5 674.45 L105.1 617.87 L105.1 640.5 L91.5 679.81 L74.9 692.32 L60.9 694.94 L44.9 694.94 Z" fill="#d3d5ea" stroke="none" stroke-width="0" fill-opacity="0.9"/>
<path d="M44.9 694.7 L60.9 694.7 L74.9 691.73 L91.5 678.62 L105.1 633.36" fill="none" stroke="#b565b8" stroke-width="0.9" stroke-dasharray="3,1.6"/>
<path d="M44.9 694.35 L60.9 694.35 L74.9 691.49 L91.5 676.24 L105.1 648.84 L105.1 672.07 L91.5 686.37 L74.9 692.92 L60.9 694.94 L44.9 694.94 Z" fill="#d9d65e" stroke="none" stroke-width="0" fill-opacity="0.85"/>
<path d="M44.9 694.7 L60.9 694.7 L74.9 691.49 L91.5 677.43 L105.1 623.83" fill="none" stroke="#b9bcdc" stroke-width="0.9" stroke-dasharray="3,1.6"/>
<path d="M44.9 694.7 L60.9 694.7 L74.9 692.2 L91.5 682.2 L105.1 660.16" fill="none" stroke="#b3af1a" stroke-width="0.9" stroke-dasharray="3,1.6"/>
<line x1="111" y1="621.3" x2="111" y2="659.6" stroke="#777" stroke-width="0.9"/>
<text x="113.6" y="643.5" font-size="7.6" text-anchor="start" fill="#111" stroke="#111" stroke-width="0.12">ns</text>
<text x="41.6" y="585.3" font-size="8.6" text-anchor="start" fill="#c4c7e2" stroke="#c4c7e2" stroke-width="0.12">UT</text>
<text x="41.6" y="595.6" font-size="8.25" fill="#c27ec6" stroke="#c27ec6" stroke-width="0.12">TCR<tspan font-size="5" dy="2.2">KO</tspan><tspan dy="-2.2">TIGIT</tspan><tspan font-size="5" dy="2.2">COMP</tspan><tspan dy="-2.2"> +TCR</tspan></text>
<text x="41.6" y="605.1" font-size="8.25" fill="#c6c22a" stroke="#c6c22a" stroke-width="0.12">TCR<tspan font-size="5" dy="2.2">KO</tspan><tspan dy="-2.2">TIGIT</tspan><tspan font-size="5" dy="2.2">KO</tspan><tspan dy="-2.2"> +TCR</tspan></text>
<rect x="187.4" y="626.54" width="11.2" height="69.46" fill="#e8605a" stroke="#b84540" stroke-width="0.6"/>
<rect x="187.4" y="615.67" width="11.2" height="10.87" fill="#f59a3c" stroke="#c9772a" stroke-width="0.6"/>
<rect x="187.4" y="611.89" width="11.2" height="3.78" fill="#4cb6e6" stroke="#2f8fc0" stroke-width="0.6"/>
<rect x="187.4" y="601.5" width="11.2" height="10.39" fill="#5b8bd9" stroke="#3f6cb8" stroke-width="0.6"/>
<line x1="193" y1="627.96" x2="193" y2="625.12" stroke="#555" stroke-width="0.5"/>
<line x1="191" y1="627.96" x2="195" y2="627.96" stroke="#555" stroke-width="0.5"/>
<line x1="193" y1="617.09" x2="193" y2="614.26" stroke="#555" stroke-width="0.5"/>
<line x1="191" y1="617.09" x2="195" y2="617.09" stroke="#555" stroke-width="0.5"/>
<line x1="193" y1="613.31" x2="193" y2="610.48" stroke="#555" stroke-width="0.5"/>
<line x1="191" y1="613.31" x2="195" y2="613.31" stroke="#555" stroke-width="0.5"/>
<rect x="206.6" y="624.65" width="11.2" height="71.35" fill="#e8605a" stroke="#b84540" stroke-width="0.6"/>
<rect x="206.6" y="609.06" width="11.2" height="15.59" fill="#f59a3c" stroke="#c9772a" stroke-width="0.6"/>
<rect x="206.6" y="606.23" width="11.2" height="2.83" fill="#4cb6e6" stroke="#2f8fc0" stroke-width="0.6"/>
<rect x="206.6" y="601.5" width="11.2" height="4.73" fill="#5b8bd9" stroke="#3f6cb8" stroke-width="0.6"/>
<line x1="212.2" y1="626.07" x2="212.2" y2="623.24" stroke="#555" stroke-width="0.5"/>
<line x1="210.2" y1="626.07" x2="214.2" y2="626.07" stroke="#555" stroke-width="0.5"/>
<line x1="212.2" y1="610.48" x2="212.2" y2="607.64" stroke="#555" stroke-width="0.5"/>
<line x1="210.2" y1="610.48" x2="214.2" y2="610.48" stroke="#555" stroke-width="0.5"/>
<line x1="212.2" y1="607.64" x2="212.2" y2="604.81" stroke="#555" stroke-width="0.5"/>
<line x1="210.2" y1="607.64" x2="214.2" y2="607.64" stroke="#555" stroke-width="0.5"/>
<rect x="225.5" y="627.01" width="11.2" height="68.99" fill="#e8605a" stroke="#b84540" stroke-width="0.6"/>
<rect x="225.5" y="612.37" width="11.2" height="14.65" fill="#f59a3c" stroke="#c9772a" stroke-width="0.6"/>
<rect x="225.5" y="608.59" width="11.2" height="3.78" fill="#4cb6e6" stroke="#2f8fc0" stroke-width="0.6"/>
<rect x="225.5" y="601.5" width="11.2" height="7.09" fill="#5b8bd9" stroke="#3f6cb8" stroke-width="0.6"/>
<line x1="231.1" y1="628.43" x2="231.1" y2="625.6" stroke="#555" stroke-width="0.5"/>
<line x1="229.1" y1="628.43" x2="233.1" y2="628.43" stroke="#555" stroke-width="0.5"/>
<line x1="231.1" y1="613.78" x2="231.1" y2="610.95" stroke="#555" stroke-width="0.5"/>
<line x1="229.1" y1="613.78" x2="233.1" y2="613.78" stroke="#555" stroke-width="0.5"/>
<line x1="231.1" y1="610" x2="231.1" y2="607.17" stroke="#555" stroke-width="0.5"/>
<line x1="229.1" y1="610" x2="233.1" y2="610" stroke="#555" stroke-width="0.5"/>
<line x1="182.7" y1="601.5" x2="182.7" y2="696" stroke="#222" stroke-width="0.8"/>
<line x1="182.7" y1="696" x2="241" y2="696" stroke="#222" stroke-width="0.8"/>
<line x1="180.2" y1="696" x2="182.7" y2="696" stroke="#222" stroke-width="0.8"/>
<text x="179.2" y="698.6" font-size="7.4" text-anchor="end" fill="#111" stroke="#111" stroke-width="0.12">0</text>
<line x1="180.2" y1="677.1" x2="182.7" y2="677.1" stroke="#222" stroke-width="0.8"/>
<text x="179.2" y="679.7" font-size="7.4" text-anchor="end" fill="#111" stroke="#111" stroke-width="0.12">20</text>
<line x1="180.2" y1="658.2" x2="182.7" y2="658.2" stroke="#222" stroke-width="0.8"/>
<text x="179.2" y="660.8" font-size="7.4" text-anchor="end" fill="#111" stroke="#111" stroke-width="0.12">40</text>
<line x1="180.2" y1="639.3" x2="182.7" y2="639.3" stroke="#222" stroke-width="0.8"/>
<text x="179.2" y="641.9" font-size="7.4" text-anchor="end" fill="#111" stroke="#111" stroke-width="0.12">60</text>
<line x1="180.2" y1="620.4" x2="182.7" y2="620.4" stroke="#222" stroke-width="0.8"/>
<text x="179.2" y="623" font-size="7.4" text-anchor="end" fill="#111" stroke="#111" stroke-width="0.12">80</text>
<line x1="180.2" y1="601.5" x2="182.7" y2="601.5" stroke="#222" stroke-width="0.8"/>
<text x="179.2" y="604.1" font-size="7.4" text-anchor="end" fill="#111" stroke="#111" stroke-width="0.12">100</text>
<text x="162.2" y="648" font-size="8.0" text-anchor="middle" fill="#111" transform="rotate(-90 162.2 648)" stroke="#111" stroke-width="0.12">CD3<tspan font-size="5" dy="-3">+</tspan><tspan dy="3"> cells (%)</tspan></text>
<text x="248.8" y="604.4" font-size="8.3" text-anchor="start" fill="#5b8bd9" stroke="#5b8bd9" stroke-width="0.12">Temra</text>
<text x="248.8" y="612.8" font-size="8.3" text-anchor="start" fill="#4cb6e6" stroke="#4cb6e6" stroke-width="0.12">Tem</text>
<text x="248.8" y="621.2" font-size="8.3" text-anchor="start" fill="#f59a3c" stroke="#f59a3c" stroke-width="0.12">Tcm</text>
<text x="248.8" y="629.6" font-size="8.3" text-anchor="start" fill="#e8605a" stroke="#e8605a" stroke-width="0.12">Tscm</text>
<text x="195.5" y="702" font-size="7.8" text-anchor="end" fill="#111" stroke="#111" stroke-width="0.12" transform="rotate(-45 195.5 702)">UT</text>
<text x="212.3" y="702.3" font-size="7.9" text-anchor="end" fill="#111" transform="rotate(-45 212.3 702.3)" stroke="#111" stroke-width="0.12">TCR<tspan font-size="5" dy="2">KO</tspan><tspan dy="-2"> TIGIT</tspan><tspan font-size="5" dy="2">COMP</tspan><tspan dy="-2">+ TCR</tspan></text>
<text x="231.8" y="702" font-size="7.9" text-anchor="end" fill="#111" transform="rotate(-45 231.8 702)" stroke="#111" stroke-width="0.12">TCR<tspan font-size="5" dx="5" dy="2">KO</tspan><tspan dy="-2">TIGIT</tspan><tspan font-size="5" dy="2">KO</tspan><tspan dy="-2">+ TCR</tspan></text>
<text x="317.5" y="424.2" font-size="14.5" text-anchor="start" fill="#000" stroke="#000" stroke-width="0.12">G</text>
<line x1="339.4" y1="449.9" x2="339.4" y2="544" stroke="#222" stroke-width="0.8"/>
<line x1="339.4" y1="544" x2="449.3" y2="544" stroke="#222" stroke-width="0.8"/>
<line x1="336.9" y1="544" x2="339.4" y2="544" stroke="#222" stroke-width="0.8"/>
<text x="335.9" y="546.6" font-size="7.4" text-anchor="end" fill="#111" stroke="#111" stroke-width="0.12">0.6</text>
<line x1="336.9" y1="528.32" x2="339.4" y2="528.32" stroke="#222" stroke-width="0.8"/>
<text x="335.9" y="530.92" font-size="7.4" text-anchor="end" fill="#111" stroke="#111" stroke-width="0.12">0.8</text>
<line x1="336.9" y1="512.63" x2="339.4" y2="512.63" stroke="#222" stroke-width="0.8"/>
<text x="335.9" y="515.23" font-size="7.4" text-anchor="end" fill="#111" stroke="#111" stroke-width="0.12">1.0</text>
<line x1="336.9" y1="496.95" x2="339.4" y2="496.95" stroke="#222" stroke-width="0.8"/>
<text x="335.9" y="499.55" font-size="7.4" text-anchor="end" fill="#111" stroke="#111" stroke-width="0.12">1.2</text>
<line x1="336.9" y1="481.27" x2="339.4" y2="481.27" stroke="#222" stroke-width="0.8"/>
<text x="335.9" y="483.87" font-size="7.4" text-anchor="end" fill="#111" stroke="#111" stroke-width="0.12">1.4</text>
<line x1="336.9" y1="465.58" x2="339.4" y2="465.58" stroke="#222" stroke-width="0.8"/>
<text x="335.9" y="468.18" font-size="7.4" text-anchor="end" fill="#111" stroke="#111" stroke-width="0.12">1.6</text>
<line x1="336.9" y1="449.9" x2="339.4" y2="449.9" stroke="#222" stroke-width="0.8"/>
<text x="335.9" y="452.5" font-size="7.4" text-anchor="end" fill="#111" stroke="#111" stroke-width="0.12">1.8</text>
<line x1="350.39" y1="544" x2="350.39" y2="546.2" stroke="#222" stroke-width="0.8"/>
<text x="352.39" y="551" font-size="7.2" text-anchor="end" fill="#111" stroke="#111" stroke-width="0.12" transform="rotate(-45 352.39 551)">100</text>
<line x1="361.38" y1="544" x2="361.38" y2="546.2" stroke="#222" stroke-width="0.8"/>
<text x="363.38" y="551" font-size="7.2" text-anchor="end" fill="#111" stroke="#111" stroke-width="0.12" transform="rotate(-45 363.38 551)">200</text>
<line x1="372.37" y1="544" x2="372.37" y2="546.2" stroke="#222" stroke-width="0.8"/>
<text x="374.37" y="551" font-size="7.2" text-anchor="end" fill="#111" stroke="#111" stroke-width="0.12" transform="rotate(-45 374.37 551)">300</text>
<line x1="383.36" y1="544" x2="383.36" y2="546.2" stroke="#222" stroke-width="0.8"/>
<text x="385.36" y="551" font-size="7.2" text-anchor="end" fill="#111" stroke="#111" stroke-width="0.12" transform="rotate(-45 385.36 551)">400</text>
<line x1="394.35" y1="544" x2="394.35" y2="546.2" stroke="#222" stroke-width="0.8"/>
<text x="396.35" y="551" font-size="7.2" text-anchor="end" fill="#111" stroke="#111" stroke-width="0.12" transform="rotate(-45 396.35 551)">500</text>
<line x1="405.34" y1="544" x2="405.34" y2="546.2" stroke="#222" stroke-width="0.8"/>
<text x="407.34" y="551" font-size="7.2" text-anchor="end" fill="#111" stroke="#111" stroke-width="0.12" transform="rotate(-45 407.34 551)">600</text>
<line x1="416.33" y1="544" x2="416.33" y2="546.2" stroke="#222" stroke-width="0.8"/>
<text x="418.33" y="551" font-size="7.2" text-anchor="end" fill="#111" stroke="#111" stroke-width="0.12" transform="rotate(-45 418.33 551)">700</text>
<line x1="427.32" y1="544" x2="427.32" y2="546.2" stroke="#222" stroke-width="0.8"/>
<text x="429.32" y="551" font-size="7.2" text-anchor="end" fill="#111" stroke="#111" stroke-width="0.12" transform="rotate(-45 429.32 551)">800</text>
<line x1="438.31" y1="544" x2="438.31" y2="546.2" stroke="#222" stroke-width="0.8"/>
<text x="440.31" y="551" font-size="7.2" text-anchor="end" fill="#111" stroke="#111" stroke-width="0.12" transform="rotate(-45 440.31 551)">900</text>
<line x1="449.3" y1="544" x2="449.3" y2="546.2" stroke="#222" stroke-width="0.8"/>
<text x="451.3" y="551" font-size="7.2" text-anchor="end" fill="#111" stroke="#111" stroke-width="0.12" transform="rotate(-45 451.3 551)">1000</text>
<text x="316.5" y="496.95" font-size="8.3" text-anchor="middle" fill="#111" stroke="#111" stroke-width="0.12" transform="rotate(-90 316.5 496.95)" dy="2.8">Relative avidity</text>
<text x="392.8" y="572.8" font-size="7.2" text-anchor="middle" fill="#111" stroke="#111" stroke-width="0.12">Force (pN)</text>
<path d="M339.4 512.63 L340.28 510.84 L341.16 508.63 L342.04 507 L342.92 505.27 L343.8 503.7 L344.68 502.65 L345.55 501.19 L346.43 499.63 L347.31 497.96 L348.19 497.03 L349.07 496.4 L349.95 496.56 L350.83 495.96 L351.71 495.61 L352.59 495.94 L353.47 495.25 L354.35 494.41 L355.23 493.66 L356.1 492.93 L356.98 492.61 L357.86 492.29 L358.74 491.35 L359.62 491.09 L360.5 490.81 L361.38 490.44 L362.26 490.27 L363.14 489.62 L364.02 489.07 L364.9 487.8 L365.78 486.59 L366.66 485.27 L367.53 484.13 L368.41 482.82 L369.29 481.75 L370.17 480.94 L371.05 479.52 L371.93 478.25 L372.81 477.23 L373.69 476.37 L374.57 475.87 L375.45 475.68 L376.33 475.68 L377.21 475.83 L378.08 475.22 L378.96 475.08 L379.84 474.5 L380.72 474.47 L381.6 473.85 L382.48 473.47 L383.36 473.93 L384.24 474.01 L385.12 473.34 L386 473.16 L386.88 472.42 L387.76 472.35 L388.64 472.51 L389.51 472 L390.39 471.4 L391.27 471.37 L392.15 471.42 L393.03 471.13 L393.91 470.23 L394.79 469.7 L395.67 469.84 L396.55 469.76 L397.43 469.84 L398.31 469.88 L399.19 469.15 L400.06 469.17 L400.94 468.76 L401.82 468.52 L402.7 468.53 L403.58 467.98 L404.46 468.09 L405.34 467.63 L406.22 467.75 L407.1 467.42 L407.98 467.21 L408.86 466.9 L409.74 465.92 L410.62 465.28 L411.49 465.19 L412.37 464.47 L413.25 464.5 L414.13 464.24 L415.01 463.51 L415.89 463.1 L416.77 463.35 L417.65 462.78 L418.53 463.1 L419.41 463.26 L420.29 462.86 L421.17 462.99 L422.04 463.09 L422.92 463.35 L423.8 463.49 L424.68 463.11 L425.56 463.15 L426.44 462.82 L427.32 462.78 L428.2 462.7 L429.08 462.15 L429.96 462.2 L430.84 462.15 L431.72 461.82 L432.6 462.23 L433.47 462.53 L434.35 462.03 L435.23 461.75 L436.11 462.08 L436.99 462.35 L437.87 462.02 L438.75 461.59 L439.63 461.98 L440.51 461.53 L441.39 461.27 L442.27 461.35 L443.15 461.56 L444.02 462 L444.9 462.36 L445.78 461.73 L446.66 461.96 L447.54 461.68 L448.42 461.89 L449.3 461.49" fill="none" stroke="#b33b4d" stroke-width="0.7" stroke-linejoin="round"/>
<path d="M339.4 512.63 L340.28 511.74 L341.16 510.59 L342.04 510.11 L342.92 509.62 L343.8 508.67 L344.68 507.83 L345.55 506.47 L346.43 505.36 L347.31 504.4 L348.19 503.5 L349.07 502.56 L349.95 502.19 L350.83 501.42 L351.71 500.91 L352.59 499.61 L353.47 499.27 L354.35 497.88 L355.23 497.12 L356.1 495.66 L356.98 494.61 L357.86 493.46 L358.74 491.89 L359.62 491.61 L360.5 491.53 L361.38 490.55 L362.26 490.13 L363.14 490.11 L364.02 489.13 L364.9 488.24 L365.78 488.12 L366.66 487.54 L367.53 487.21 L368.41 486.62 L369.29 485.71 L370.17 485.32 L371.05 484.34 L371.93 484.07 L372.81 483.57 L373.69 482.42 L374.57 481.81 L375.45 481.49 L376.33 481.33 L377.21 481.34 L378.08 481.42 L378.96 481.82 L379.84 481.44 L380.72 480.95 L381.6 480.6 L382.48 480.64 L383.36 480.97 L384.24 481.18 L385.12 481.03 L386 481 L386.88 481.59 L387.76 481.93 L388.64 482.09 L389.51 482.1 L390.39 481.86 L391.27 482.02 L392.15 482.62 L393.03 482.33 L393.91 482.54 L394.79 482.64 L395.67 483.02 L396.55 483.09 L397.43 483.12 L398.31 482.78 L399.19 483.17 L400.06 483.02 L400.94 483.27 L401.82 482.95 L402.7 483.35 L403.58 483.41 L404.46 483.38 L405.34 483.09 L406.22 483.44 L407.1 483.21 L407.98 483.13 L408.86 482.94 L409.74 482.56 L410.62 481.78 L411.49 481.61 L412.37 480.98 L413.25 481.22 L414.13 480.61 L415.01 480.65 L415.89 480.77 L416.77 480.34 L417.65 479.93 L418.53 480.47 L419.41 480.58 L420.29 480.17 L421.17 480.26 L422.04 480.41 L422.92 480.71 L423.8 480.87 L424.68 480.42 L425.56 479.74 L426.44 479.23 L427.32 479.33 L428.2 479.85 L429.08 479.93 L429.96 479.54 L430.84 479.22 L431.72 479.16 L432.6 479.5 L433.47 479.45 L434.35 479.45 L435.23 479.29 L436.11 479.52 L436.99 479.03 L437.87 478.72 L438.75 479.19 L439.63 479.39 L440.51 478.97 L441.39 479.22 L442.27 478.76 L443.15 478.84 L444.02 478.71 L444.9 478.6 L445.78 478.98 L446.66 479.17 L447.54 479.32 L448.42 479.01 L449.3 478.78" fill="none" stroke="#b33b4d" stroke-width="0.7" stroke-linejoin="round"/>
<path d="M339.4 512.63 L340.28 511.2 L341.16 509.67 L342.04 508.1 L342.92 506.89 L343.8 505.84 L344.68 504.94 L345.55 503.97 L346.43 502.75 L347.31 501.87 L348.19 500.76 L349.07 500.07 L349.95 499.57 L350.83 499 L351.71 498.25 L352.59 497.68 L353.47 497.4 L354.35 496.67 L355.23 495.71 L356.1 494.39 L356.98 493.19 L357.86 492.03 L358.74 490.89 L359.62 490.15 L360.5 489.65 L361.38 489.25 L362.26 489.11 L363.14 488.61 L364.02 488.31 L364.9 487.67 L365.78 486.93 L366.66 486.25 L367.53 485.56 L368.41 484.82 L369.29 484.11 L370.17 483.48 L371.05 482.47 L371.93 481.54 L372.81 480.56 L373.69 479.78 L374.57 479.06 L375.45 478.56 L376.33 478.69 L377.21 478.48 L378.08 478.41 L378.96 478.45 L379.84 478.42 L380.72 478.21 L381.6 478.15 L382.48 477.98 L383.36 477.74 L384.24 477.64 L385.12 477.65 L386 477.46 L386.88 477.4 L387.76 477.32 L388.64 477.24 L389.51 477.07 L390.39 477.05 L391.27 476.73 L392.15 476.32 L393.03 476.26 L393.91 476.02 L394.79 475.72 L395.67 475.88 L396.55 475.94 L397.43 475.67 L398.31 475.45 L399.19 475.37 L400.06 475.52 L400.94 475.49 L401.82 475.23 L402.7 475.02 L403.58 474.9 L404.46 475.07 L405.34 474.87 L406.22 474.93 L407.1 474.71 L407.98 474.65 L408.86 474.12 L409.74 473.84 L410.62 473.5 L411.49 473.42 L412.37 473.08 L413.25 472.78 L414.13 472.47 L415.01 472.28 L415.89 471.89 L416.77 471.82 L417.65 471.86 L418.53 471.92 L419.41 471.71 L420.29 471.81 L421.17 471.8 L422.04 471.86 L422.92 471.6 L423.8 471.45 L424.68 471.33 L425.56 471.46 L426.44 471.35 L427.32 471.3 L428.2 471.39 L429.08 471.49 L429.96 471.08 L430.84 471.2 L431.72 471.18 L432.6 471.18 L433.47 471.01 L434.35 471.13 L435.23 471.02 L436.11 470.98 L436.99 470.73 L437.87 470.93 L438.75 470.91 L439.63 470.8 L440.51 470.5 L441.39 470.49 L442.27 470.5 L443.15 470.4 L444.02 470.5 L444.9 470.68 L445.78 470.58 L446.66 470.3 L447.54 470.18 L448.42 470.32 L449.3 470.2" fill="none" stroke="#b33b4d" stroke-width="1.3" stroke-linejoin="round"/>
<path d="M339.4 512.63 L340.28 513.81 L341.16 514.89 L342.04 515.83 L342.92 517.51 L343.8 518.27 L344.68 518 L345.55 517.89 L346.43 518.15 L347.31 517.97 L348.19 518.11 L349.07 517.99 L349.95 518.72 L350.83 519.21 L351.71 519.01 L352.59 519.46 L353.47 519.95 L354.35 519.87 L355.23 520.07 L356.1 520.55 L356.98 519.96 L357.86 519.3 L358.74 519.16 L359.62 518.46 L360.5 518.32 L361.38 517.88 L362.26 517.66 L363.14 517.25 L364.02 516.09 L364.9 515.85 L365.78 515.22 L366.66 515.25 L367.53 515.08 L368.41 514.67 L369.29 514.51 L370.17 514.91 L371.05 514.7 L371.93 514.47 L372.81 514.7 L373.69 514.9 L374.57 514.26 L375.45 514.05 L376.33 514.07 L377.21 513.76 L378.08 513.68 L378.96 512.99 L379.84 512.71 L380.72 512.81 L381.6 512.12 L382.48 512.24 L383.36 512.06 L384.24 512.09 L385.12 511.36 L386 511.36 L386.88 510.89 L387.76 510.88 L388.64 510.43 L389.51 510.09 L390.39 510.07 L391.27 510.14 L392.15 510.19 L393.03 510.28 L393.91 510.21 L394.79 510.65 L395.67 510.62 L396.55 510.84 L397.43 510.42 L398.31 510.08 L399.19 510.67 L400.06 511.03 L400.94 510.78 L401.82 510.74 L402.7 511.25 L403.58 510.98 L404.46 510.58 L405.34 510.81 L406.22 511.06 L407.1 510.94 L407.98 510.32 L408.86 510.46 L409.74 510.46 L410.62 510.5 L411.49 510.05 L412.37 509.82 L413.25 509.79 L414.13 509.58 L415.01 509.71 L415.89 509.47 L416.77 508.66 L417.65 508.49 L418.53 508.62 L419.41 508.08 L420.29 508.21 L421.17 508.37 L422.04 508.66 L422.92 508.73 L423.8 508.7 L424.68 508.63 L425.56 507.94 L426.44 508 L427.32 508.03 L428.2 507.69 L429.08 507.13 L429.96 507.3 L430.84 506.94 L431.72 507.04 L432.6 506.9 L433.47 506.73 L434.35 506.27 L435.23 506.09 L436.11 506.16 L436.99 505.88 L437.87 506.1 L438.75 506.22 L439.63 505.76 L440.51 505.8 L441.39 505.6 L442.27 505.88 L443.15 505.48 L444.02 505.47 L444.9 505.79 L445.78 505.35 L446.66 505.46 L447.54 505.64 L448.42 505.82 L449.3 506.08" fill="none" stroke="#ec6a3c" stroke-width="0.7" stroke-linejoin="round"/>
<path d="M339.4 512.63 L340.28 516.55 L341.16 520.36 L342.04 523.69 L342.92 526.13 L343.8 527.63 L344.68 526.94 L345.55 526.56 L346.43 526.06 L347.31 525.5 L348.19 525.74 L349.07 525.87 L349.95 525.7 L350.83 525.99 L351.71 526.2 L352.59 526.39 L353.47 525.92 L354.35 525.58 L355.23 525.42 L356.1 525.76 L356.98 525.08 L357.86 524.89 L358.74 524.93 L359.62 524.64 L360.5 524.38 L361.38 524.43 L362.26 523.9 L363.14 523.63 L364.02 523.15 L364.9 522.47 L365.78 522.29 L366.66 522.35 L367.53 521.92 L368.41 521.46 L369.29 521.57 L370.17 521.18 L371.05 521.74 L371.93 521.98 L372.81 522.08 L373.69 521.39 L374.57 521.1 L375.45 520.85 L376.33 521.06 L377.21 520.98 L378.08 520.52 L378.96 520.92 L379.84 521.15 L380.72 521.34 L381.6 521.05 L382.48 520.47 L383.36 520.3 L384.24 520.3 L385.12 520.17 L386 520.36 L386.88 519.73 L387.76 519.83 L388.64 519.97 L389.51 519.93 L390.39 519.37 L391.27 519.4 L392.15 518.82 L393.03 518.91 L393.91 518.83 L394.79 519.07 L395.67 518.41 L396.55 518 L397.43 517.97 L398.31 518.25 L399.19 518.04 L400.06 517.95 L400.94 517.41 L401.82 516.9 L402.7 516.68 L403.58 516.9 L404.46 517.24 L405.34 516.63 L406.22 516.11 L407.1 516.55 L407.98 516.71 L408.86 516.89 L409.74 516.59 L410.62 517.3 L411.49 517.82 L412.37 517.49 L413.25 517.57 L414.13 517.76 L415.01 517.64 L415.89 517.78 L416.77 517.69 L417.65 517.9 L418.53 518.18 L419.41 518.4 L420.29 518.22 L421.17 517.76 L422.04 517.65 L422.92 517.56 L423.8 517.21 L424.68 516.85 L425.56 516.66 L426.44 516.75 L427.32 516.3 L428.2 515.97 L429.08 515.61 L429.96 515.32 L430.84 515.91 L431.72 515.67 L432.6 515.76 L433.47 515.75 L434.35 515.59 L435.23 515.79 L436.11 515.79 L436.99 515.06 L437.87 515.13 L438.75 514.59 L439.63 514.39 L440.51 514.56 L441.39 514.64 L442.27 514.39 L443.15 514.08 L444.02 514.17 L444.9 514.46 L445.78 514.52 L446.66 513.87 L447.54 513.51 L448.42 513.8 L449.3 513.28" fill="none" stroke="#ec6a3c" stroke-width="0.7" stroke-linejoin="round"/>
<path d="M339.4 512.63 L340.28 515.38 L341.16 518.2 L342.04 519.52 L342.92 520.86 L343.8 521.25 L344.68 521.37 L345.55 521.27 L346.43 521.5 L347.31 521.52 L348.19 521.52 L349.07 521.66 L349.95 521.53 L350.83 521.68 L351.71 521.58 L352.59 521.47 L353.47 521.74 L354.35 521.66 L355.23 521.68 L356.1 521.66 L356.98 521.56 L357.86 521.18 L358.74 520.7 L359.62 520.41 L360.5 520.11 L361.38 519.75 L362.26 519.39 L363.14 518.78 L364.02 518.43 L364.9 518.22 L365.78 518.08 L366.66 517.84 L367.53 517.96 L368.41 518.16 L369.29 517.85 L370.17 517.69 L371.05 517.58 L371.93 517.63 L372.81 517.79 L373.69 517.92 L374.57 517.94 L375.45 517.8 L376.33 517.78 L377.21 517.42 L378.08 517.1 L378.96 517.16 L379.84 516.76 L380.72 516.59 L381.6 516.22 L382.48 516.12 L383.36 515.85 L384.24 515.76 L385.12 515.58 L386 515.45 L386.88 515.53 L387.76 515.48 L388.64 515.35 L389.51 515.19 L390.39 515.1 L391.27 514.93 L392.15 514.73 L393.03 514.69 L393.91 514.68 L394.79 514.56 L395.67 514.24 L396.55 514.07 L397.43 514 L398.31 513.84 L399.19 513.99 L400.06 514.13 L400.94 514.2 L401.82 514.22 L402.7 514.26 L403.58 513.98 L404.46 513.62 L405.34 513.73 L406.22 513.51 L407.1 513.23 L407.98 513.12 L408.86 513.33 L409.74 513.23 L410.62 513.33 L411.49 513.43 L412.37 513.57 L413.25 513.42 L414.13 513.11 L415.01 513.27 L415.89 513.35 L416.77 513.29 L417.65 513.4 L418.53 513.26 L419.41 513.03 L420.29 512.99 L421.17 513.14 L422.04 513.25 L422.92 513.23 L423.8 512.99 L424.68 512.69 L425.56 512.67 L426.44 512.83 L427.32 512.88 L428.2 512.72 L429.08 512.72 L429.96 512.67 L430.84 512.45 L431.72 512.07 L432.6 512.05 L433.47 511.69 L434.35 511.41 L435.23 511.38 L436.11 511.42 L436.99 511.43 L437.87 511.17 L438.75 510.88 L439.63 510.62 L440.51 510.71 L441.39 510.63 L442.27 510.73 L443.15 510.63 L444.02 510.52 L444.9 510.49 L445.78 510.46 L446.66 509.96 L447.54 509.9 L448.42 509.73 L449.3 509.56" fill="none" stroke="#ec6a3c" stroke-width="1.3" stroke-linejoin="round"/>
<path d="M454.5 470.29 L459.2 470.29 L459.2 509.5 L454.5 509.5" fill="none" stroke="#222" stroke-width="0.8"/>
<path d="M463.4 487.56 L463.4 491.06 M464.92 488.44 L461.88 490.19 M464.92 490.19 L461.88 488.44 " fill="none" stroke="#111" stroke-width="1.05"/>
<circle cx="463.4" cy="489.31" r="1.05" fill="#111" stroke="none" stroke-width="0.8"/>
<path d="M463.4 491.86 L463.4 495.36 M464.92 492.74 L461.88 494.49 M464.92 494.49 L461.88 492.74 " fill="none" stroke="#111" stroke-width="1.05"/>
<circle cx="463.4" cy="493.61" r="1.05" fill="#111" stroke="none" stroke-width="0.8"/>
<text x="342.8" y="438" font-size="8.2" fill="#ec6a3c" stroke="#ec6a3c" stroke-width="0.12">TCR<tspan font-size="4.92" dy="2.2">KO</tspan><tspan dy="-2.2">TIGIT</tspan><tspan font-size="4.92" dy="2.2">COMP</tspan><tspan dy="-2.2"> +MSLN TCR</tspan></text>
<text x="342.8" y="447.7" font-size="8.2" fill="#b33b4d" stroke="#b33b4d" stroke-width="0.12">TCR<tspan font-size="4.92" dy="2.2">KO</tspan><tspan dy="-2.2">TIGIT</tspan><tspan font-size="4.92" dy="2.2">KO</tspan><tspan dy="-2.2"> +MSLN TCR</tspan></text>
<line x1="339.4" y1="601.7" x2="339.4" y2="695.8" stroke="#222" stroke-width="0.8"/>
<line x1="339.4" y1="695.8" x2="449.3" y2="695.8" stroke="#222" stroke-width="0.8"/>
<line x1="336.9" y1="695.8" x2="339.4" y2="695.8" stroke="#222" stroke-width="0.8"/>
<text x="335.9" y="698.4" font-size="7.4" text-anchor="end" fill="#111" stroke="#111" stroke-width="0.12">0.6</text>
<line x1="336.9" y1="680.12" x2="339.4" y2="680.12" stroke="#222" stroke-width="0.8"/>
<text x="335.9" y="682.72" font-size="7.4" text-anchor="end" fill="#111" stroke="#111" stroke-width="0.12">0.8</text>
<line x1="336.9" y1="664.43" x2="339.4" y2="664.43" stroke="#222" stroke-width="0.8"/>
<text x="335.9" y="667.03" font-size="7.4" text-anchor="end" fill="#111" stroke="#111" stroke-width="0.12">1.0</text>
<line x1="336.9" y1="648.75" x2="339.4" y2="648.75" stroke="#222" stroke-width="0.8"/>
<text x="335.9" y="651.35" font-size="7.4" text-anchor="end" fill="#111" stroke="#111" stroke-width="0.12">1.2</text>
<line x1="336.9" y1="633.07" x2="339.4" y2="633.07" stroke="#222" stroke-width="0.8"/>
<text x="335.9" y="635.67" font-size="7.4" text-anchor="end" fill="#111" stroke="#111" stroke-width="0.12">1.4</text>
<line x1="336.9" y1="617.38" x2="339.4" y2="617.38" stroke="#222" stroke-width="0.8"/>
<text x="335.9" y="619.98" font-size="7.4" text-anchor="end" fill="#111" stroke="#111" stroke-width="0.12">1.6</text>
<line x1="336.9" y1="601.7" x2="339.4" y2="601.7" stroke="#222" stroke-width="0.8"/>
<text x="335.9" y="604.3" font-size="7.4" text-anchor="end" fill="#111" stroke="#111" stroke-width="0.12">1.8</text>
<line x1="350.39" y1="695.8" x2="350.39" y2="698" stroke="#222" stroke-width="0.8"/>
<text x="352.39" y="702.8" font-size="7.2" text-anchor="end" fill="#111" stroke="#111" stroke-width="0.12" transform="rotate(-45 352.39 702.8)">100</text>
<line x1="361.38" y1="695.8" x2="361.38" y2="698" stroke="#222" stroke-width="0.8"/>
<text x="363.38" y="702.8" font-size="7.2" text-anchor="end" fill="#111" stroke="#111" stroke-width="0.12" transform="rotate(-45 363.38 702.8)">200</text>
<line x1="372.37" y1="695.8" x2="372.37" y2="698" stroke="#222" stroke-width="0.8"/>
<text x="374.37" y="702.8" font-size="7.2" text-anchor="end" fill="#111" stroke="#111" stroke-width="0.12" transform="rotate(-45 374.37 702.8)">300</text>
<line x1="383.36" y1="695.8" x2="383.36" y2="698" stroke="#222" stroke-width="0.8"/>
<text x="385.36" y="702.8" font-size="7.2" text-anchor="end" fill="#111" stroke="#111" stroke-width="0.12" transform="rotate(-45 385.36 702.8)">400</text>
<line x1="394.35" y1="695.8" x2="394.35" y2="698" stroke="#222" stroke-width="0.8"/>
<text x="396.35" y="702.8" font-size="7.2" text-anchor="end" fill="#111" stroke="#111" stroke-width="0.12" transform="rotate(-45 396.35 702.8)">500</text>
<line x1="405.34" y1="695.8" x2="405.34" y2="698" stroke="#222" stroke-width="0.8"/>
<text x="407.34" y="702.8" font-size="7.2" text-anchor="end" fill="#111" stroke="#111" stroke-width="0.12" transform="rotate(-45 407.34 702.8)">600</text>
<line x1="416.33" y1="695.8" x2="416.33" y2="698" stroke="#222" stroke-width="0.8"/>
<text x="418.33" y="702.8" font-size="7.2" text-anchor="end" fill="#111" stroke="#111" stroke-width="0.12" transform="rotate(-45 418.33 702.8)">700</text>
<line x1="427.32" y1="695.8" x2="427.32" y2="698" stroke="#222" stroke-width="0.8"/>
<text x="429.32" y="702.8" font-size="7.2" text-anchor="end" fill="#111" stroke="#111" stroke-width="0.12" transform="rotate(-45 429.32 702.8)">800</text>
<line x1="438.31" y1="695.8" x2="438.31" y2="698" stroke="#222" stroke-width="0.8"/>
<text x="440.31" y="702.8" font-size="7.2" text-anchor="end" fill="#111" stroke="#111" stroke-width="0.12" transform="rotate(-45 440.31 702.8)">900</text>
<line x1="449.3" y1="695.8" x2="449.3" y2="698" stroke="#222" stroke-width="0.8"/>
<text x="451.3" y="702.8" font-size="7.2" text-anchor="end" fill="#111" stroke="#111" stroke-width="0.12" transform="rotate(-45 451.3 702.8)">1000</text>
<text x="316.5" y="648.75" font-size="8.3" text-anchor="middle" fill="#111" stroke="#111" stroke-width="0.12" transform="rotate(-90 316.5 648.75)" dy="2.8">Relative avidity</text>
<text x="392.8" y="724.5" font-size="7.2" text-anchor="middle" fill="#111" stroke="#111" stroke-width="0.12">Force (pN)</text>
<path d="M339.4 664.43 L340.28 663.81 L341.16 663.08 L342.04 662.5 L342.92 662.63 L343.8 663.54 L344.68 664.54 L345.55 665.89 L346.43 666.12 L347.31 665.49 L348.19 664.98 L349.07 664 L349.95 662.82 L350.83 662.39 L351.71 661.37 L352.59 661.02 L353.47 660.6 L354.35 660.32 L355.23 659.05 L356.1 658.24 L356.98 657.37 L357.86 656.84 L358.74 656.85 L359.62 656.4 L360.5 655.77 L361.38 655.51 L362.26 654.37 L363.14 653.96 L364.02 653.7 L364.9 652.73 L365.78 652.53 L366.66 651.46 L367.53 650.99 L368.41 650.4 L369.29 650.02 L370.17 649.44 L371.05 649.15 L371.93 648.92 L372.81 647.87 L373.69 647.65 L374.57 646.84 L375.45 646.68 L376.33 645.73 L377.21 645 L378.08 644.48 L378.96 643.99 L379.84 643.68 L380.72 643.19 L381.6 643.29 L382.48 642.89 L383.36 642.15 L384.24 642.4 L385.12 641.86 L386 641.48 L386.88 641.63 L387.76 641.73 L388.64 641.69 L389.51 641.68 L390.39 641.07 L391.27 641.17 L392.15 641.54 L393.03 641.7 L393.91 641.19 L394.79 640.5 L395.67 640.41 L396.55 640.3 L397.43 640.1 L398.31 639.73 L399.19 639.9 L400.06 639.6 L400.94 639.38 L401.82 639.11 L402.7 639.29 L403.58 639.36 L404.46 639.18 L405.34 638.46 L406.22 638.51 L407.1 638.27 L407.98 638.34 L408.86 638.54 L409.74 638.68 L410.62 638.03 L411.49 637.58 L412.37 637.6 L413.25 637.29 L414.13 637.04 L415.01 636.62 L415.89 636.23 L416.77 636.47 L417.65 636.09 L418.53 635.83 L419.41 635.99 L420.29 635.8 L421.17 636.02 L422.04 636.26 L422.92 636.53 L423.8 636.11 L424.68 636.47 L425.56 636.79 L426.44 636.3 L427.32 635.97 L428.2 635.99 L429.08 635.66 L429.96 636.14 L430.84 636.27 L431.72 636.31 L432.6 636.2 L433.47 636.33 L434.35 636.5 L435.23 636.35 L436.11 635.7 L436.99 635.15 L437.87 634.96 L438.75 635.07 L439.63 635.33 L440.51 634.84 L441.39 634.88 L442.27 634.7 L443.15 635.21 L444.02 635.38 L444.9 634.89 L445.78 634.56 L446.66 634.24 L447.54 634.26 L448.42 634.41 L449.3 634.36" fill="none" stroke="#5aa56f" stroke-width="0.7" stroke-linejoin="round"/>
<path d="M339.4 664.43 L340.28 666.11 L341.16 668.25 L342.04 669.31 L342.92 671.22 L343.8 672.77 L344.68 673.74 L345.55 675.07 L346.43 675.17 L347.31 675.31 L348.19 674.68 L349.07 674.8 L349.95 674.57 L350.83 673.84 L351.71 673.25 L352.59 672.45 L353.47 671.92 L354.35 672 L355.23 671.1 L356.1 670.58 L356.98 670.31 L357.86 670.06 L358.74 669.1 L359.62 668.5 L360.5 667.59 L361.38 666.93 L362.26 666.44 L363.14 666.39 L364.02 666.15 L364.9 666 L365.78 666.14 L366.66 665.51 L367.53 665.6 L368.41 665.15 L369.29 664.6 L370.17 664.42 L371.05 664.7 L371.93 664.17 L372.81 663.91 L373.69 664.15 L374.57 664.39 L375.45 664.04 L376.33 664.21 L377.21 663.44 L378.08 663.23 L378.96 663.02 L379.84 662.92 L380.72 662.55 L381.6 662 L382.48 662.13 L383.36 662.1 L384.24 661.89 L385.12 661.98 L386 661.72 L386.88 661.55 L387.76 661.49 L388.64 661.19 L389.51 661.08 L390.39 661.38 L391.27 660.7 L392.15 660.78 L393.03 660.73 L393.91 660.69 L394.79 660.14 L395.67 659.72 L396.55 659.81 L397.43 659.95 L398.31 660.31 L399.19 659.77 L400.06 660.06 L400.94 659.87 L401.82 659.9 L402.7 659.91 L403.58 659.86 L404.46 659.96 L405.34 660.14 L406.22 659.77 L407.1 659.24 L407.98 658.98 L408.86 659.19 L409.74 658.84 L410.62 659.18 L411.49 659.05 L412.37 658.53 L413.25 658.06 L414.13 658.13 L415.01 657.79 L415.89 657.85 L416.77 657.92 L417.65 657.98 L418.53 657.67 L419.41 657.69 L420.29 657.99 L421.17 657.97 L422.04 658.06 L422.92 658.41 L423.8 658.27 L424.68 658.16 L425.56 658.3 L426.44 658.1 L427.32 658.85 L428.2 658.88 L429.08 658.77 L429.96 658.97 L430.84 659.27 L431.72 658.99 L432.6 659.04 L433.47 659.23 L434.35 659.57 L435.23 658.95 L436.11 659.08 L436.99 659.4 L437.87 659.53 L438.75 659.59 L439.63 659.05 L440.51 659.32 L441.39 659.42 L442.27 659.65 L443.15 659.47 L444.02 659.59 L444.9 659.54 L445.78 659.14 L446.66 658.68 L447.54 658.45 L448.42 659.03 L449.3 659.12" fill="none" stroke="#5aa56f" stroke-width="0.7" stroke-linejoin="round"/>
<path d="M339.4 664.43 L340.28 665.48 L341.16 666.09 L342.04 667.46 L342.92 668.39 L343.8 669.09 L344.68 669.72 L345.55 670.53 L346.43 670.72 L347.31 670.2 L348.19 669.8 L349.07 669.27 L349.95 668.96 L350.83 668.49 L351.71 667.63 L352.59 666.98 L353.47 666.29 L354.35 665.51 L355.23 664.96 L356.1 664.52 L356.98 663.69 L357.86 663.01 L358.74 662.31 L359.62 661.65 L360.5 660.84 L361.38 660.36 L362.26 659.85 L363.14 659.54 L364.02 659.09 L364.9 658.61 L365.78 658.3 L366.66 658.06 L367.53 657.58 L368.41 657 L369.29 656.52 L370.17 656.11 L371.05 655.61 L371.93 655.34 L372.81 655.12 L373.69 654.88 L374.57 654.41 L375.45 654.3 L376.33 654.18 L377.21 654.04 L378.08 653.88 L378.96 653.59 L379.84 653.17 L380.72 652.68 L381.6 652.5 L382.48 652.28 L383.36 652.08 L384.24 651.93 L385.12 651.54 L386 651.32 L386.88 651.25 L387.76 651.21 L388.64 650.81 L389.51 650.51 L390.39 650.18 L391.27 650.18 L392.15 649.97 L393.03 649.6 L393.91 649.43 L394.79 649.16 L395.67 649.35 L396.55 649.09 L397.43 649.32 L398.31 649.3 L399.19 649.45 L400.06 649.16 L400.94 649 L401.82 648.73 L402.7 648.61 L403.58 648.43 L404.46 648.48 L405.34 648.29 L406.22 648.19 L407.1 648.26 L407.98 647.99 L408.86 648.03 L409.74 648.12 L410.62 648.19 L411.49 648.02 L412.37 648 L413.25 647.59 L414.13 647.26 L415.01 647.34 L415.89 647.41 L416.77 647.27 L417.65 647.38 L418.53 647.27 L419.41 647.06 L420.29 647.17 L421.17 647.16 L422.04 646.92 L422.92 646.96 L423.8 647.04 L424.68 646.82 L425.56 646.7 L426.44 646.57 L427.32 646.57 L428.2 646.7 L429.08 646.65 L429.96 646.54 L430.84 646.55 L431.72 646.74 L432.6 646.84 L433.47 646.85 L434.35 646.68 L435.23 646.65 L436.11 646.63 L436.99 646.48 L437.87 646.71 L438.75 646.61 L439.63 646.68 L440.51 646.62 L441.39 646.43 L442.27 646.58 L443.15 646.34 L444.02 646.58 L444.9 646.51 L445.78 646.47 L446.66 646.58 L447.54 646.49 L448.42 646.47 L449.3 646.46" fill="none" stroke="#5aa56f" stroke-width="1.3" stroke-linejoin="round"/>
<path d="M339.4 664.43 L340.28 664.43 L341.16 664.41 L342.04 663.95 L342.92 664.38 L343.8 664.24 L344.68 664.68 L345.55 664.36 L346.43 664.32 L347.31 663.26 L348.19 662.26 L349.07 661.29 L349.95 660.68 L350.83 659.86 L351.71 659.23 L352.59 659.52 L353.47 659.26 L354.35 658.56 L355.23 658.18 L356.1 658.1 L356.98 658.08 L357.86 657.37 L358.74 657.59 L359.62 657.01 L360.5 656.44 L361.38 656.59 L362.26 656.31 L363.14 656.01 L364.02 655.44 L364.9 655.08 L365.78 654.19 L366.66 653.42 L367.53 653.31 L368.41 652.56 L369.29 652.68 L370.17 652.61 L371.05 651.89 L371.93 651.13 L372.81 650.42 L373.69 649.58 L374.57 648.97 L375.45 648.95 L376.33 648.34 L377.21 647.59 L378.08 647.7 L378.96 647.24 L379.84 647.1 L380.72 646.85 L381.6 646.21 L382.48 645.44 L383.36 644.46 L384.24 644.73 L385.12 644.51 L386 643.84 L386.88 643.53 L387.76 643.47 L388.64 643.65 L389.51 643.35 L390.39 643.44 L391.27 643.08 L392.15 642.77 L393.03 642.74 L393.91 642.28 L394.79 642.24 L395.67 642.05 L396.55 641.5 L397.43 641.59 L398.31 641.64 L399.19 641.23 L400.06 641 L400.94 640.35 L401.82 640.41 L402.7 640.26 L403.58 640.37 L404.46 640.01 L405.34 639.81 L406.22 639.59 L407.1 639.1 L407.98 639.41 L408.86 638.69 L409.74 638.41 L410.62 638.08 L411.49 638.07 L412.37 637.99 L413.25 638.05 L414.13 638.07 L415.01 638.21 L415.89 638.2 L416.77 638.19 L417.65 638.15 L418.53 637.56 L419.41 637.23 L420.29 637.13 L421.17 637.63 L422.04 637.73 L422.92 637.52 L423.8 637.21 L424.68 637.23 L425.56 637.03 L426.44 636.61 L427.32 636.9 L428.2 636.97 L429.08 636.65 L429.96 636.82 L430.84 636.54 L431.72 636.64 L432.6 637.04 L433.47 636.88 L434.35 637.13 L435.23 636.6 L436.11 636.16 L436.99 636.13 L437.87 635.74 L438.75 636.1 L439.63 636.11 L440.51 636.35 L441.39 636.62 L442.27 636.06 L443.15 636.38 L444.02 635.75 L444.9 635.65 L445.78 635.42 L446.66 635.86 L447.54 635.34 L448.42 635.06 L449.3 635.5" fill="none" stroke="#2f6a46" stroke-width="0.7" stroke-linejoin="round"/>
<path d="M339.4 664.43 L340.28 667.57 L341.16 670.16 L342.04 673.73 L342.92 676.03 L343.8 677.07 L344.68 678.68 L345.55 679.26 L346.43 679.8 L347.31 679.36 L348.19 678.75 L349.07 677.98 L349.95 677.69 L350.83 676.89 L351.71 676.17 L352.59 675.86 L353.47 675.26 L354.35 674.89 L355.23 674.32 L356.1 674.42 L356.98 674.21 L357.86 673.85 L358.74 673.82 L359.62 672.88 L360.5 672.42 L361.38 672.49 L362.26 672.16 L363.14 672.03 L364.02 672.09 L364.9 672.11 L365.78 671.78 L366.66 671.86 L367.53 671.4 L368.41 671.07 L369.29 671.14 L370.17 670.43 L371.05 670.66 L371.93 670.65 L372.81 670.06 L373.69 670.28 L374.57 670.25 L375.45 670.09 L376.33 670.1 L377.21 670.05 L378.08 670.01 L378.96 670 L379.84 670.39 L380.72 669.95 L381.6 670.15 L382.48 670.51 L383.36 670.42 L384.24 669.85 L385.12 669.59 L386 669.53 L386.88 669.43 L387.76 669.56 L388.64 669.25 L389.51 669.24 L390.39 669.47 L391.27 669.52 L392.15 669.56 L393.03 669 L393.91 668.37 L394.79 667.99 L395.67 668.15 L396.55 668.27 L397.43 667.54 L398.31 667.52 L399.19 667.64 L400.06 667.29 L400.94 666.94 L401.82 666.71 L402.7 666.58 L403.58 666.57 L404.46 666.33 L405.34 666.14 L406.22 665.8 L407.1 665.75 L407.98 665.76 L408.86 665.14 L409.74 665.49 L410.62 665.09 L411.49 665.09 L412.37 664.69 L413.25 664.46 L414.13 664.39 L415.01 664.27 L415.89 664.51 L416.77 664.9 L417.65 664.52 L418.53 664.72 L419.41 665 L420.29 664.54 L421.17 664.42 L422.04 664.87 L422.92 664.72 L423.8 664.95 L424.68 664.45 L425.56 664.66 L426.44 664.18 L427.32 664.15 L428.2 664.6 L429.08 664.59 L429.96 664.06 L430.84 663.92 L431.72 664.33 L432.6 664.41 L433.47 664.54 L434.35 664.79 L435.23 664.49 L436.11 664.17 L436.99 664.39 L437.87 664.22 L438.75 663.8 L439.63 663.47 L440.51 663.9 L441.39 664.29 L442.27 663.76 L443.15 663.94 L444.02 664.2 L444.9 663.78 L445.78 663.98 L446.66 663.68 L447.54 663.49 L448.42 663.72 L449.3 663.71" fill="none" stroke="#2f6a46" stroke-width="0.7" stroke-linejoin="round"/>
<path d="M339.4 664.43 L340.28 665.9 L341.16 667.54 L342.04 668.9 L342.92 670.34 L343.8 670.76 L344.68 671.25 L345.55 672.12 L346.43 672.14 L347.31 671.82 L348.19 671.44 L349.07 670.93 L349.95 670.46 L350.83 670.22 L351.71 669.62 L352.59 669.09 L353.47 668.47 L354.35 668.34 L355.23 667.66 L356.1 667.38 L356.98 667.07 L357.86 666.48 L358.74 665.81 L359.62 665.13 L360.5 664.79 L361.38 664.17 L362.26 664.16 L363.14 663.61 L364.02 663.45 L364.9 663.13 L365.78 663.01 L366.66 662.87 L367.53 662.69 L368.41 662.19 L369.29 661.77 L370.17 661.26 L371.05 660.79 L371.93 660.57 L372.81 660.16 L373.69 660.11 L374.57 659.69 L375.45 659.62 L376.33 659.16 L377.21 659.03 L378.08 658.85 L378.96 658.6 L379.84 658.56 L380.72 658.46 L381.6 658.09 L382.48 657.67 L383.36 657.62 L384.24 657.47 L385.12 657.34 L386 657.02 L386.88 656.65 L387.76 656.79 L388.64 656.63 L389.51 656.69 L390.39 656.37 L391.27 656.04 L392.15 655.88 L393.03 655.79 L393.91 655.94 L394.79 655.95 L395.67 655.82 L396.55 655.74 L397.43 655.6 L398.31 655.06 L399.19 654.91 L400.06 654.49 L400.94 654.21 L401.82 653.95 L402.7 653.64 L403.58 653.47 L404.46 653.47 L405.34 653.34 L406.22 653.3 L407.1 653.41 L407.98 653.43 L408.86 653.17 L409.74 652.97 L410.62 652.58 L411.49 652.43 L412.37 652.2 L413.25 652.16 L414.13 652.05 L415.01 651.82 L415.89 651.99 L416.77 652.11 L417.65 652 L418.53 651.98 L419.41 651.87 L420.29 651.95 L421.17 651.94 L422.04 651.95 L422.92 651.69 L423.8 651.77 L424.68 651.81 L425.56 651.5 L426.44 651.39 L427.32 651.49 L428.2 651.1 L429.08 651.02 L429.96 650.74 L430.84 650.66 L431.72 650.63 L432.6 650.67 L433.47 650.81 L434.35 650.48 L435.23 650.48 L436.11 650.53 L436.99 650.62 L437.87 650.45 L438.75 650.13 L439.63 650.16 L440.51 649.97 L441.39 649.87 L442.27 649.87 L443.15 649.78 L444.02 649.67 L444.9 649.48 L445.78 649.74 L446.66 649.86 L447.54 649.88 L448.42 649.95 L449.3 649.89" fill="none" stroke="#2f6a46" stroke-width="1.3" stroke-linejoin="round"/>
<path d="M454.5 646.4 L456.8 646.4 L456.8 649.53 L454.5 649.53" fill="none" stroke="#222" stroke-width="0.7"/>
<text x="457.5" y="650.57" font-size="7.4" text-anchor="start" fill="#111" stroke="#111" stroke-width="0.12">ns</text>
<text x="342.8" y="589" font-size="8.2" fill="#5aa56f" stroke="#5aa56f" stroke-width="0.12">TCR<tspan font-size="4.92" dy="2.2">KO</tspan><tspan dy="-2.2">TIGIT</tspan><tspan font-size="4.92" dy="2.2">COMP</tspan><tspan dy="-2.2"> +DKK1 TCR</tspan></text>
<text x="342.8" y="598.7" font-size="8.2" fill="#2f6a46" stroke="#2f6a46" stroke-width="0.12">TCR<tspan font-size="4.92" dy="2.2">KO</tspan><tspan dy="-2.2">TIGIT</tspan><tspan font-size="4.92" dy="2.2">KO</tspan><tspan dy="-2.2"> +DKK1 TCR</tspan></text>
<text x="490.2" y="423.8" font-size="14.5" text-anchor="start" fill="#000" stroke="#000" stroke-width="0.12">H</text>
<line x1="522.2" y1="451.3" x2="522.2" y2="544.2" stroke="#222" stroke-width="0.8"/>
<line x1="522.2" y1="544.2" x2="632.3" y2="544.2" stroke="#222" stroke-width="0.8"/>
<line x1="519.7" y1="544.2" x2="522.2" y2="544.2" stroke="#222" stroke-width="0.8"/>
<text x="518.7" y="546.8" font-size="7.4" text-anchor="end" fill="#111" stroke="#111" stroke-width="0.12">0</text>
<line x1="519.7" y1="528.72" x2="522.2" y2="528.72" stroke="#222" stroke-width="0.8"/>
<text x="518.7" y="531.32" font-size="7.4" text-anchor="end" fill="#111" stroke="#111" stroke-width="0.12">2</text>
<line x1="519.7" y1="513.23" x2="522.2" y2="513.23" stroke="#222" stroke-width="0.8"/>
<text x="518.7" y="515.83" font-size="7.4" text-anchor="end" fill="#111" stroke="#111" stroke-width="0.12">4</text>
<line x1="519.7" y1="497.75" x2="522.2" y2="497.75" stroke="#222" stroke-width="0.8"/>
<text x="518.7" y="500.35" font-size="7.4" text-anchor="end" fill="#111" stroke="#111" stroke-width="0.12">6</text>
<line x1="519.7" y1="482.27" x2="522.2" y2="482.27" stroke="#222" stroke-width="0.8"/>
<text x="518.7" y="484.87" font-size="7.4" text-anchor="end" fill="#111" stroke="#111" stroke-width="0.12">8</text>
<line x1="519.7" y1="466.78" x2="522.2" y2="466.78" stroke="#222" stroke-width="0.8"/>
<text x="518.7" y="469.38" font-size="7.4" text-anchor="end" fill="#111" stroke="#111" stroke-width="0.12">10</text>
<line x1="519.7" y1="451.3" x2="522.2" y2="451.3" stroke="#222" stroke-width="0.8"/>
<text x="518.7" y="453.9" font-size="7.4" text-anchor="end" fill="#111" stroke="#111" stroke-width="0.12">12</text>
<line x1="533.8" y1="544.2" x2="533.8" y2="546.4" stroke="#222" stroke-width="0.8"/>
<text x="536.2" y="552" font-size="7.2" text-anchor="end" fill="#111" stroke="#111" stroke-width="0.12" transform="rotate(-45 536.2 552)">10</text>
<line x1="551.3" y1="544.2" x2="551.3" y2="546.4" stroke="#222" stroke-width="0.8"/>
<text x="553.7" y="552" font-size="7.2" text-anchor="end" fill="#111" stroke="#111" stroke-width="0.12" transform="rotate(-45 553.7 552)">1</text>
<line x1="568.8" y1="544.2" x2="568.8" y2="546.4" stroke="#222" stroke-width="0.8"/>
<text x="571.2" y="552" font-size="7.2" text-anchor="end" fill="#111" stroke="#111" stroke-width="0.12" transform="rotate(-45 571.2 552)">0.1</text>
<line x1="586.3" y1="544.2" x2="586.3" y2="546.4" stroke="#222" stroke-width="0.8"/>
<text x="588.7" y="552" font-size="7.2" text-anchor="end" fill="#111" stroke="#111" stroke-width="0.12" transform="rotate(-45 588.7 552)">0.01</text>
<line x1="603.8" y1="544.2" x2="603.8" y2="546.4" stroke="#222" stroke-width="0.8"/>
<text x="606.2" y="552" font-size="7.2" text-anchor="end" fill="#111" stroke="#111" stroke-width="0.12" transform="rotate(-45 606.2 552)">0.001</text>
<line x1="621.3" y1="544.2" x2="621.3" y2="546.4" stroke="#222" stroke-width="0.8"/>
<text x="623.7" y="552" font-size="7.2" text-anchor="end" fill="#111" stroke="#111" stroke-width="0.12" transform="rotate(-45 623.7 552)">0.0001</text>
<text x="575.4" y="573.3" font-size="7.2" text-anchor="middle" fill="#111" stroke="#111" stroke-width="0.12">Peptide (&#956;M)</text>
<text x="504.8" y="495.25" font-size="8.3" text-anchor="middle" fill="#111" stroke="#111" stroke-width="0.12" transform="rotate(-90 504.8 495.25)" dy="2.8">CD107a MFI (FC)</text>
<line x1="522.2" y1="507.81" x2="631" y2="507.81" stroke="#333" stroke-width="0.9" stroke-dasharray="1,1.6"/>
<path d="M533.8 520.2 L551.3 518.65 L568.8 529.49 L586.3 534.91 L603.8 536.07 L621.3 535.68" fill="none" stroke="#ec6a3c" stroke-width="1"/>
<line x1="533.8" y1="528.72" x2="533.8" y2="510.91" stroke="#ec6a3c" stroke-width="0.8"/>
<line x1="531.2" y1="528.72" x2="536.4" y2="528.72" stroke="#ec6a3c" stroke-width="0.8"/>
<line x1="531.2" y1="510.91" x2="536.4" y2="510.91" stroke="#ec6a3c" stroke-width="0.8"/>
<circle cx="533.8" cy="520.2" r="2.5" fill="#ec6a3c" stroke="none" stroke-width="0.8"/>
<line x1="551.3" y1="527.94" x2="551.3" y2="508.59" stroke="#ec6a3c" stroke-width="0.8"/>
<line x1="548.7" y1="527.94" x2="553.9" y2="527.94" stroke="#ec6a3c" stroke-width="0.8"/>
<line x1="548.7" y1="508.59" x2="553.9" y2="508.59" stroke="#ec6a3c" stroke-width="0.8"/>
<circle cx="551.3" cy="518.65" r="2.5" fill="#ec6a3c" stroke="none" stroke-width="0.8"/>
<line x1="568.8" y1="531.81" x2="568.8" y2="526.39" stroke="#ec6a3c" stroke-width="0.8"/>
<line x1="566.2" y1="531.81" x2="571.4" y2="531.81" stroke="#ec6a3c" stroke-width="0.8"/>
<line x1="566.2" y1="526.39" x2="571.4" y2="526.39" stroke="#ec6a3c" stroke-width="0.8"/>
<circle cx="568.8" cy="529.49" r="2.5" fill="#ec6a3c" stroke="none" stroke-width="0.8"/>
<line x1="586.3" y1="536.46" x2="586.3" y2="534.14" stroke="#ec6a3c" stroke-width="0.8"/>
<line x1="583.7" y1="536.46" x2="588.9" y2="536.46" stroke="#ec6a3c" stroke-width="0.8"/>
<line x1="583.7" y1="534.14" x2="588.9" y2="534.14" stroke="#ec6a3c" stroke-width="0.8"/>
<circle cx="586.3" cy="534.91" r="2.5" fill="#ec6a3c" stroke="none" stroke-width="0.8"/>
<circle cx="603.8" cy="536.07" r="2.5" fill="#ec6a3c" stroke="none" stroke-width="0.8"/>
<circle cx="621.3" cy="535.68" r="2.5" fill="#ec6a3c" stroke="none" stroke-width="0.8"/>
<path d="M533.8 493.88 L551.3 495.43 L568.8 520.2 L586.3 535.68 L603.8 536.46 L621.3 536.07" fill="none" stroke="#b33b4d" stroke-width="1"/>
<line x1="533.8" y1="498.52" x2="533.8" y2="489.23" stroke="#b33b4d" stroke-width="0.8"/>
<line x1="531.2" y1="498.52" x2="536.4" y2="498.52" stroke="#b33b4d" stroke-width="0.8"/>
<line x1="531.2" y1="489.23" x2="536.4" y2="489.23" stroke="#b33b4d" stroke-width="0.8"/>
<circle cx="533.8" cy="493.88" r="2.5" fill="#b33b4d" stroke="none" stroke-width="0.8"/>
<line x1="551.3" y1="499.3" x2="551.3" y2="491.56" stroke="#b33b4d" stroke-width="0.8"/>
<line x1="548.7" y1="499.3" x2="553.9" y2="499.3" stroke="#b33b4d" stroke-width="0.8"/>
<line x1="548.7" y1="491.56" x2="553.9" y2="491.56" stroke="#b33b4d" stroke-width="0.8"/>
<circle cx="551.3" cy="495.43" r="2.5" fill="#b33b4d" stroke="none" stroke-width="0.8"/>
<line x1="568.8" y1="524.85" x2="568.8" y2="514.01" stroke="#b33b4d" stroke-width="0.8"/>
<line x1="566.2" y1="524.85" x2="571.4" y2="524.85" stroke="#b33b4d" stroke-width="0.8"/>
<line x1="566.2" y1="514.01" x2="571.4" y2="514.01" stroke="#b33b4d" stroke-width="0.8"/>
<circle cx="568.8" cy="520.2" r="2.5" fill="#b33b4d" stroke="none" stroke-width="0.8"/>
<circle cx="586.3" cy="535.68" r="2.5" fill="#b33b4d" stroke="none" stroke-width="0.8"/>
<circle cx="603.8" cy="536.46" r="2.5" fill="#b33b4d" stroke="none" stroke-width="0.8"/>
<circle cx="621.3" cy="536.07" r="2.5" fill="#b33b4d" stroke="none" stroke-width="0.8"/>
<path d="M531.88 484.55 L531.88 488.05 M533.39 485.43 L530.36 487.18 M533.39 487.18 L530.36 485.43 " fill="none" stroke="#111" stroke-width="1.05"/>
<circle cx="531.88" cy="486.3" r="1.05" fill="#111" stroke="none" stroke-width="0.8"/>
<path d="M535.72 484.55 L535.72 488.05 M537.24 485.43 L534.21 487.18 M537.24 487.18 L534.21 485.43 " fill="none" stroke="#111" stroke-width="1.05"/>
<circle cx="535.72" cy="486.3" r="1.05" fill="#111" stroke="none" stroke-width="0.8"/>
<path d="M549.38 484.55 L549.38 488.05 M550.89 485.43 L547.86 487.18 M550.89 487.18 L547.86 485.43 " fill="none" stroke="#111" stroke-width="1.05"/>
<circle cx="549.38" cy="486.3" r="1.05" fill="#111" stroke="none" stroke-width="0.8"/>
<path d="M553.22 484.55 L553.22 488.05 M554.74 485.43 L551.71 487.18 M554.74 487.18 L551.71 485.43 " fill="none" stroke="#111" stroke-width="1.05"/>
<circle cx="553.22" cy="486.3" r="1.05" fill="#111" stroke="none" stroke-width="0.8"/>
<text x="525" y="438.2" font-size="8.2" fill="#ec6a3c" stroke="#ec6a3c" stroke-width="0.12">TCR<tspan font-size="4.92" dy="2.2">KO</tspan><tspan dy="-2.2">TIGIT</tspan><tspan font-size="4.92" dy="2.2">COMP</tspan><tspan dy="-2.2"> +MSLN TCR</tspan></text>
<text x="525" y="447.4" font-size="8.2" fill="#b33b4d" stroke="#b33b4d" stroke-width="0.12">TCR<tspan font-size="4.92" dy="2.2">KO</tspan><tspan dy="-2.2">TIGIT</tspan><tspan font-size="4.92" dy="2.2">KO</tspan><tspan dy="-2.2"> +MSLN TCR</tspan></text>
<line x1="522.2" y1="602.7" x2="522.2" y2="695.9" stroke="#222" stroke-width="0.8"/>
<line x1="522.2" y1="695.9" x2="632.3" y2="695.9" stroke="#222" stroke-width="0.8"/>
<line x1="519.7" y1="695.9" x2="522.2" y2="695.9" stroke="#222" stroke-width="0.8"/>
<text x="518.7" y="698.5" font-size="7.4" text-anchor="end" fill="#111" stroke="#111" stroke-width="0.12">0</text>
<line x1="519.7" y1="680.37" x2="522.2" y2="680.37" stroke="#222" stroke-width="0.8"/>
<text x="518.7" y="682.97" font-size="7.4" text-anchor="end" fill="#111" stroke="#111" stroke-width="0.12">2</text>
<line x1="519.7" y1="664.83" x2="522.2" y2="664.83" stroke="#222" stroke-width="0.8"/>
<text x="518.7" y="667.43" font-size="7.4" text-anchor="end" fill="#111" stroke="#111" stroke-width="0.12">4</text>
<line x1="519.7" y1="649.3" x2="522.2" y2="649.3" stroke="#222" stroke-width="0.8"/>
<text x="518.7" y="651.9" font-size="7.4" text-anchor="end" fill="#111" stroke="#111" stroke-width="0.12">6</text>
<line x1="519.7" y1="633.77" x2="522.2" y2="633.77" stroke="#222" stroke-width="0.8"/>
<text x="518.7" y="636.37" font-size="7.4" text-anchor="end" fill="#111" stroke="#111" stroke-width="0.12">8</text>
<line x1="519.7" y1="618.23" x2="522.2" y2="618.23" stroke="#222" stroke-width="0.8"/>
<text x="518.7" y="620.83" font-size="7.4" text-anchor="end" fill="#111" stroke="#111" stroke-width="0.12">10</text>
<line x1="519.7" y1="602.7" x2="522.2" y2="602.7" stroke="#222" stroke-width="0.8"/>
<text x="518.7" y="605.3" font-size="7.4" text-anchor="end" fill="#111" stroke="#111" stroke-width="0.12">12</text>
<line x1="533.8" y1="695.9" x2="533.8" y2="698.1" stroke="#222" stroke-width="0.8"/>
<text x="536.2" y="703.7" font-size="7.2" text-anchor="end" fill="#111" stroke="#111" stroke-width="0.12" transform="rotate(-45 536.2 703.7)">10</text>
<line x1="551.3" y1="695.9" x2="551.3" y2="698.1" stroke="#222" stroke-width="0.8"/>
<text x="553.7" y="703.7" font-size="7.2" text-anchor="end" fill="#111" stroke="#111" stroke-width="0.12" transform="rotate(-45 553.7 703.7)">1</text>
<line x1="568.8" y1="695.9" x2="568.8" y2="698.1" stroke="#222" stroke-width="0.8"/>
<text x="571.2" y="703.7" font-size="7.2" text-anchor="end" fill="#111" stroke="#111" stroke-width="0.12" transform="rotate(-45 571.2 703.7)">0.1</text>
<line x1="586.3" y1="695.9" x2="586.3" y2="698.1" stroke="#222" stroke-width="0.8"/>
<text x="588.7" y="703.7" font-size="7.2" text-anchor="end" fill="#111" stroke="#111" stroke-width="0.12" transform="rotate(-45 588.7 703.7)">0.01</text>
<line x1="603.8" y1="695.9" x2="603.8" y2="698.1" stroke="#222" stroke-width="0.8"/>
<text x="606.2" y="703.7" font-size="7.2" text-anchor="end" fill="#111" stroke="#111" stroke-width="0.12" transform="rotate(-45 606.2 703.7)">0.001</text>
<line x1="621.3" y1="695.9" x2="621.3" y2="698.1" stroke="#222" stroke-width="0.8"/>
<text x="623.7" y="703.7" font-size="7.2" text-anchor="end" fill="#111" stroke="#111" stroke-width="0.12" transform="rotate(-45 623.7 703.7)">0.0001</text>
<text x="575.4" y="724.8" font-size="7.2" text-anchor="middle" fill="#111" stroke="#111" stroke-width="0.12">Peptide (&#956;M)</text>
<text x="504.8" y="646.8" font-size="8.3" text-anchor="middle" fill="#111" stroke="#111" stroke-width="0.12" transform="rotate(-90 504.8 646.8)" dy="2.8">CD107a MFI (FC)</text>
<line x1="522.2" y1="659.4" x2="631" y2="659.4" stroke="#333" stroke-width="0.9" stroke-dasharray="1,1.6"/>
<path d="M533.8 646.19 L551.3 651.63 L568.8 659.4 L586.3 653.96 L603.8 678.81 L621.3 682.7" fill="none" stroke="#5aa56f" stroke-width="1"/>
<line x1="533.8" y1="654.74" x2="533.8" y2="639.98" stroke="#5aa56f" stroke-width="0.8"/>
<line x1="531.2" y1="654.74" x2="536.4" y2="654.74" stroke="#5aa56f" stroke-width="0.8"/>
<line x1="531.2" y1="639.98" x2="536.4" y2="639.98" stroke="#5aa56f" stroke-width="0.8"/>
<circle cx="533.8" cy="646.19" r="2.5" fill="#5aa56f" stroke="none" stroke-width="0.8"/>
<line x1="551.3" y1="659.4" x2="551.3" y2="643.86" stroke="#5aa56f" stroke-width="0.8"/>
<line x1="548.7" y1="659.4" x2="553.9" y2="659.4" stroke="#5aa56f" stroke-width="0.8"/>
<line x1="548.7" y1="643.86" x2="553.9" y2="643.86" stroke="#5aa56f" stroke-width="0.8"/>
<circle cx="551.3" cy="651.63" r="2.5" fill="#5aa56f" stroke="none" stroke-width="0.8"/>
<line x1="568.8" y1="666.39" x2="568.8" y2="652.41" stroke="#5aa56f" stroke-width="0.8"/>
<line x1="566.2" y1="666.39" x2="571.4" y2="666.39" stroke="#5aa56f" stroke-width="0.8"/>
<line x1="566.2" y1="652.41" x2="571.4" y2="652.41" stroke="#5aa56f" stroke-width="0.8"/>
<circle cx="568.8" cy="659.4" r="2.5" fill="#5aa56f" stroke="none" stroke-width="0.8"/>
<line x1="586.3" y1="660.95" x2="586.3" y2="645.42" stroke="#5aa56f" stroke-width="0.8"/>
<line x1="583.7" y1="660.95" x2="588.9" y2="660.95" stroke="#5aa56f" stroke-width="0.8"/>
<line x1="583.7" y1="645.42" x2="588.9" y2="645.42" stroke="#5aa56f" stroke-width="0.8"/>
<circle cx="586.3" cy="653.96" r="2.5" fill="#5aa56f" stroke="none" stroke-width="0.8"/>
<line x1="603.8" y1="680.37" x2="603.8" y2="676.48" stroke="#5aa56f" stroke-width="0.8"/>
<line x1="601.2" y1="680.37" x2="606.4" y2="680.37" stroke="#5aa56f" stroke-width="0.8"/>
<line x1="601.2" y1="676.48" x2="606.4" y2="676.48" stroke="#5aa56f" stroke-width="0.8"/>
<circle cx="603.8" cy="678.81" r="2.5" fill="#5aa56f" stroke="none" stroke-width="0.8"/>
<line x1="621.3" y1="684.25" x2="621.3" y2="681.14" stroke="#5aa56f" stroke-width="0.8"/>
<line x1="618.7" y1="684.25" x2="623.9" y2="684.25" stroke="#5aa56f" stroke-width="0.8"/>
<line x1="618.7" y1="681.14" x2="623.9" y2="681.14" stroke="#5aa56f" stroke-width="0.8"/>
<circle cx="621.3" cy="682.7" r="2.5" fill="#5aa56f" stroke="none" stroke-width="0.8"/>
<path d="M533.8 635.32 L551.3 626.78 L568.8 629.11 L586.3 659.4 L603.8 677.26 L621.3 678.04" fill="none" stroke="#2f6a46" stroke-width="1"/>
<line x1="533.8" y1="646.97" x2="533.8" y2="621.34" stroke="#2f6a46" stroke-width="0.8"/>
<line x1="531.2" y1="646.97" x2="536.4" y2="646.97" stroke="#2f6a46" stroke-width="0.8"/>
<line x1="531.2" y1="621.34" x2="536.4" y2="621.34" stroke="#2f6a46" stroke-width="0.8"/>
<circle cx="533.8" cy="635.32" r="2.5" fill="#2f6a46" stroke="none" stroke-width="0.8"/>
<line x1="551.3" y1="641.53" x2="551.3" y2="612.8" stroke="#2f6a46" stroke-width="0.8"/>
<line x1="548.7" y1="641.53" x2="553.9" y2="641.53" stroke="#2f6a46" stroke-width="0.8"/>
<line x1="548.7" y1="612.8" x2="553.9" y2="612.8" stroke="#2f6a46" stroke-width="0.8"/>
<circle cx="551.3" cy="626.78" r="2.5" fill="#2f6a46" stroke="none" stroke-width="0.8"/>
<line x1="568.8" y1="645.42" x2="568.8" y2="612.8" stroke="#2f6a46" stroke-width="0.8"/>
<line x1="566.2" y1="645.42" x2="571.4" y2="645.42" stroke="#2f6a46" stroke-width="0.8"/>
<line x1="566.2" y1="612.8" x2="571.4" y2="612.8" stroke="#2f6a46" stroke-width="0.8"/>
<circle cx="568.8" cy="629.11" r="2.5" fill="#2f6a46" stroke="none" stroke-width="0.8"/>
<line x1="586.3" y1="667.16" x2="586.3" y2="650.85" stroke="#2f6a46" stroke-width="0.8"/>
<line x1="583.7" y1="667.16" x2="588.9" y2="667.16" stroke="#2f6a46" stroke-width="0.8"/>
<line x1="583.7" y1="650.85" x2="588.9" y2="650.85" stroke="#2f6a46" stroke-width="0.8"/>
<circle cx="586.3" cy="659.4" r="2.5" fill="#2f6a46" stroke="none" stroke-width="0.8"/>
<line x1="603.8" y1="678.81" x2="603.8" y2="675.71" stroke="#2f6a46" stroke-width="0.8"/>
<line x1="601.2" y1="678.81" x2="606.4" y2="678.81" stroke="#2f6a46" stroke-width="0.8"/>
<line x1="601.2" y1="675.71" x2="606.4" y2="675.71" stroke="#2f6a46" stroke-width="0.8"/>
<circle cx="603.8" cy="677.26" r="2.5" fill="#2f6a46" stroke="none" stroke-width="0.8"/>
<line x1="621.3" y1="680.37" x2="621.3" y2="675.71" stroke="#2f6a46" stroke-width="0.8"/>
<line x1="618.7" y1="680.37" x2="623.9" y2="680.37" stroke="#2f6a46" stroke-width="0.8"/>
<line x1="618.7" y1="675.71" x2="623.9" y2="675.71" stroke="#2f6a46" stroke-width="0.8"/>
<circle cx="621.3" cy="678.04" r="2.5" fill="#2f6a46" stroke="none" stroke-width="0.8"/>
<text x="525" y="588.8" font-size="8.2" fill="#5aa56f" stroke="#5aa56f" stroke-width="0.12">TCR<tspan font-size="4.92" dy="2.2">KO</tspan><tspan dy="-2.2">TIGIT</tspan><tspan font-size="4.92" dy="2.2">COMP</tspan><tspan dy="-2.2"> +DKK1 TCR</tspan></text>
<text x="525" y="598.5" font-size="8.2" fill="#2f6a46" stroke="#2f6a46" stroke-width="0.12">TCR<tspan font-size="4.92" dy="2.2">KO</tspan><tspan dy="-2.2">TIGIT</tspan><tspan font-size="4.92" dy="2.2">KO</tspan><tspan dy="-2.2"> +DKK1 TCR</tspan></text>
</svg>
</body></html>
